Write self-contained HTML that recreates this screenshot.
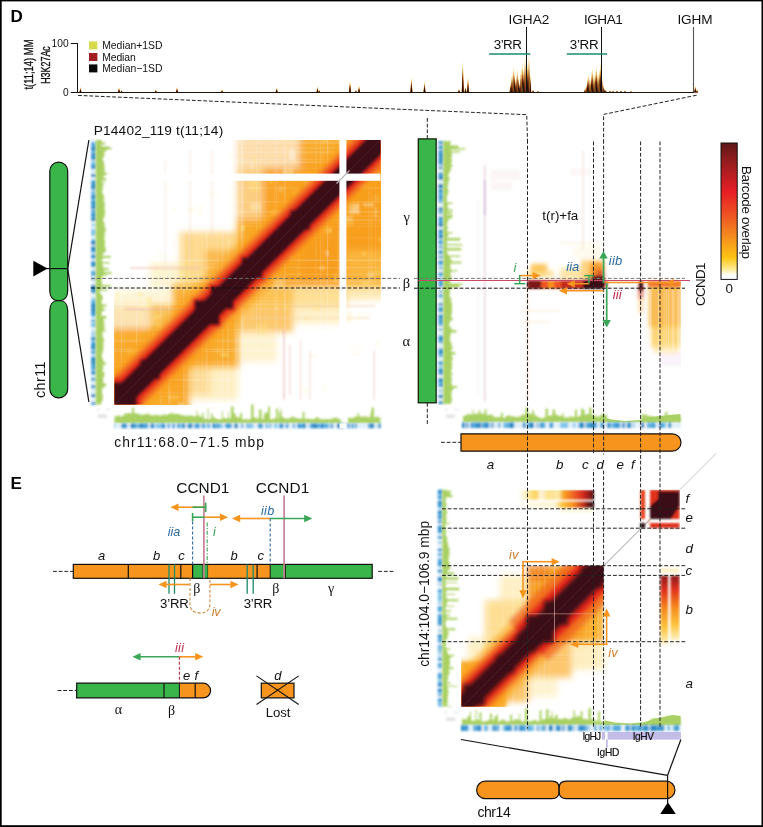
<!DOCTYPE html>
<html lang="en">
<head>
<meta charset="utf-8">
<title>Figure D-E: t(11;14) barcode overlap</title>
<style>
html,body{margin:0;padding:0;background:#fff;}
body{width:763px;height:827px;overflow:hidden;font-family:"Liberation Sans",Arial,sans-serif;}
svg{display:block;}
</style>
</head>
<body>
<svg width="763" height="827" viewBox="0 0 763 827" font-family='"Liberation Sans", Arial, sans-serif' fill="#111">
<defs>
<filter id="b05" x="-60%" y="-60%" width="220%" height="220%"><feGaussianBlur stdDeviation="0.8"/></filter>
<filter id="b1" x="-10%" y="-10%" width="120%" height="120%"><feGaussianBlur stdDeviation="1"/></filter>
<filter id="b15" x="-10%" y="-10%" width="120%" height="120%"><feGaussianBlur stdDeviation="1.5"/></filter>
<filter id="b2" x="-10%" y="-10%" width="120%" height="120%"><feGaussianBlur stdDeviation="2"/></filter>
<filter id="b3" x="-10%" y="-10%" width="120%" height="120%"><feGaussianBlur stdDeviation="3"/></filter>
<filter id="b5" x="-20%" y="-20%" width="140%" height="140%"><feGaussianBlur stdDeviation="5"/></filter>
<clipPath id="c1"><rect x="114.5" y="140" width="266" height="264.6"/></clipPath>
<clipPath id="c2"><rect x="462" y="141" width="219" height="263"/></clipPath>
<clipPath id="c3"><rect x="461.5" y="489.7" width="218.5" height="216.7"/></clipPath>
<linearGradient id="cbar" x1="0" y1="0" x2="0" y2="1"><stop offset="0" stop-color="#5e1718"/><stop offset="0.12" stop-color="#8f1c1f"/><stop offset="0.36" stop-color="#e81e25"/><stop offset="0.5" stop-color="#ee4a23"/><stop offset="0.68" stop-color="#f58a1f"/><stop offset="0.84" stop-color="#fdc413"/><stop offset="0.92" stop-color="#fde98a"/><stop offset="0.97" stop-color="#ffffff"/><stop offset="1" stop-color="#ffffff"/></linearGradient>
<linearGradient id="tb" x1="0" y1="0" x2="1" y2="0"><stop offset="0" stop-color="#fff" stop-opacity="0"/><stop offset="0.14" stop-color="#fdeeb8"/><stop offset="0.26" stop-color="#fcd25a"/><stop offset="0.33" stop-color="#fff6dc"/><stop offset="0.42" stop-color="#fde08a"/><stop offset="0.55" stop-color="#fde9a8"/><stop offset="0.62" stop-color="#f9a11f"/><stop offset="0.76" stop-color="#ee5a22"/><stop offset="0.86" stop-color="#d42a1c"/><stop offset="0.95" stop-color="#8d1a19"/><stop offset="1" stop-color="#4a1214"/></linearGradient>
<linearGradient id="tb2" x1="0" y1="0" x2="1" y2="0"><stop offset="0" stop-color="#fff" stop-opacity="0"/><stop offset="0.2" stop-color="#fef4d0" stop-opacity="0.6"/><stop offset="0.5" stop-color="#fef0c0" stop-opacity="0.7"/><stop offset="0.6" stop-color="#fcc23c"/><stop offset="0.74" stop-color="#f58a1f"/><stop offset="0.86" stop-color="#c7341c"/><stop offset="0.94" stop-color="#5a1416"/><stop offset="1" stop-color="#3a1115"/></linearGradient>
<linearGradient id="rs" x1="0" y1="0" x2="0" y2="1"><stop offset="0" stop-color="#8d1a19"/><stop offset="0.2" stop-color="#e1301d"/><stop offset="0.45" stop-color="#f58a1f"/><stop offset="0.7" stop-color="#fcc23c"/><stop offset="0.88" stop-color="#fde9a8"/><stop offset="1" stop-color="#fff" stop-opacity="0"/></linearGradient>
</defs>
<rect x="0" y="0" width="763" height="827" fill="#fff" />
<text x="10.6" y="22" font-size="17" fill="#000" font-weight="bold">D</text>
<text x="33" y="89.5" font-size="13.4" textLength="50" lengthAdjust="spacingAndGlyphs" transform="rotate(-90 33 89.5)" stroke="#111" stroke-width="0.35">t(11;14) MM</text>
<text x="49.6" y="83.8" font-size="13.4" textLength="37.6" lengthAdjust="spacingAndGlyphs" transform="rotate(-90 49.6 83.8)" stroke="#111" stroke-width="0.35">H3K27Ac</text>
<text x="68.6" y="47.2" font-size="10.2" text-anchor="end">100</text>
<text x="68.6" y="95.6" font-size="10.2" text-anchor="end">0</text>
<line x1="77.5" y1="43" x2="77.5" y2="93" stroke="#111" stroke-width="1" />
<line x1="70.8" y1="43.5" x2="77.6" y2="43.5" stroke="#111" stroke-width="1" />
<line x1="70.8" y1="92.5" x2="77.6" y2="92.5" stroke="#111" stroke-width="1" />
<rect x="89" y="41.4" width="8.4" height="8" fill="#d8d94c" />
<rect x="89" y="53" width="8.4" height="8" fill="#a11d21" />
<rect x="89" y="64.4" width="8.4" height="8" fill="#0a0a0a" />
<text x="102.2" y="49.3" font-size="10.4" textLength="60.3" lengthAdjust="spacing">Median+1SD</text>
<text x="102.2" y="60.8" font-size="10.4" textLength="33.5" lengthAdjust="spacing">Median</text>
<text x="102.2" y="72.3" font-size="10.4" textLength="60.3" lengthAdjust="spacing">Median−1SD</text>
<polygon points="79.25,92.6 80.5,87.1 81.75,92.6" fill="#e8c436"/>
<polygon points="79.44,92.6 80.5,88.2 81.56,92.6" fill="#b0321c"/>
<polygon points="79.62,92.6 80.5,89.3 81.38,92.6" fill="#1a0a06"/>
<polygon points="117.75,92.6 119,87.6 120.25,92.6" fill="#e8c436"/>
<polygon points="117.94,92.6 119,88.6 120.06,92.6" fill="#b0321c"/>
<polygon points="118.12,92.6 119,89.6 119.88,92.6" fill="#1a0a06"/>
<polygon points="120.25,92.6 121.5,90.1 122.75,92.6" fill="#e8c436"/>
<polygon points="120.44,92.6 121.5,90.6 122.56,92.6" fill="#b0321c"/>
<polygon points="120.62,92.6 121.5,91.1 122.38,92.6" fill="#1a0a06"/>
<polygon points="154.55,92.6 155.8,89.4 157.05,92.6" fill="#e8c436"/>
<polygon points="154.74,92.6 155.8,90.04 156.86,92.6" fill="#b0321c"/>
<polygon points="154.93,92.6 155.8,90.68 156.68,92.6" fill="#1a0a06"/>
<polygon points="175.75,92.6 177,87.1 178.25,92.6" fill="#e8c436"/>
<polygon points="175.94,92.6 177,88.2 178.06,92.6" fill="#b0321c"/>
<polygon points="176.12,92.6 177,89.3 177.88,92.6" fill="#1a0a06"/>
<polygon points="220.75,92.6 222,89.4 223.25,92.6" fill="#e8c436"/>
<polygon points="220.94,92.6 222,90.04 223.06,92.6" fill="#b0321c"/>
<polygon points="221.12,92.6 222,90.68 222.88,92.6" fill="#1a0a06"/>
<polygon points="275.45,92.6 276.7,87.4 277.95,92.6" fill="#e8c436"/>
<polygon points="275.64,92.6 276.7,88.44 277.76,92.6" fill="#b0321c"/>
<polygon points="275.82,92.6 276.7,89.48 277.57,92.6" fill="#1a0a06"/>
<polygon points="316.25,92.6 317.5,86.6 318.75,92.6" fill="#e8c436"/>
<polygon points="316.44,92.6 317.5,87.8 318.56,92.6" fill="#b0321c"/>
<polygon points="316.62,92.6 317.5,89 318.38,92.6" fill="#1a0a06"/>
<polygon points="318.05,92.6 319.3,90.1 320.55,92.6" fill="#e8c436"/>
<polygon points="318.24,92.6 319.3,90.6 320.36,92.6" fill="#b0321c"/>
<polygon points="318.43,92.6 319.3,91.1 320.18,92.6" fill="#1a0a06"/>
<polygon points="348.75,92.6 350,80.8 351.25,92.6" fill="#e8c436"/>
<polygon points="348.94,92.6 350,83.16 351.06,92.6" fill="#b0321c"/>
<polygon points="349.12,92.6 350,85.52 350.88,92.6" fill="#1a0a06"/>
<polygon points="357.75,92.6 359,85.6 360.25,92.6" fill="#e8c436"/>
<polygon points="357.94,92.6 359,87 360.06,92.6" fill="#b0321c"/>
<polygon points="358.12,92.6 359,88.4 359.88,92.6" fill="#1a0a06"/>
<polygon points="354.75,92.6 356,90.1 357.25,92.6" fill="#e8c436"/>
<polygon points="354.94,92.6 356,90.6 357.06,92.6" fill="#b0321c"/>
<polygon points="355.12,92.6 356,91.1 356.88,92.6" fill="#1a0a06"/>
<polygon points="410.15,92.6 411.4,77.6 412.65,92.6" fill="#e8c436"/>
<polygon points="410.34,92.6 411.4,80.6 412.46,92.6" fill="#b0321c"/>
<polygon points="410.52,92.6 411.4,83.6 412.27,92.6" fill="#1a0a06"/>
<polygon points="423.25,92.6 424.5,81.6 425.75,92.6" fill="#e8c436"/>
<polygon points="423.44,92.6 424.5,83.8 425.56,92.6" fill="#b0321c"/>
<polygon points="423.62,92.6 424.5,86 425.38,92.6" fill="#1a0a06"/>
<polygon points="457.75,92.6 459,89.1 460.25,92.6" fill="#e8c436"/>
<polygon points="457.94,92.6 459,89.8 460.06,92.6" fill="#b0321c"/>
<polygon points="458.12,92.6 459,90.5 459.88,92.6" fill="#1a0a06"/>
<polygon points="461.55,92.6 462.8,61.6 464.05,92.6" fill="#e8c436"/>
<polygon points="461.74,92.6 462.8,67.8 463.86,92.6" fill="#b0321c"/>
<polygon points="461.93,92.6 462.8,74 463.68,92.6" fill="#1a0a06"/>
<polygon points="466.75,92.6 468,77.6 469.25,92.6" fill="#e8c436"/>
<polygon points="466.94,92.6 468,80.6 469.06,92.6" fill="#b0321c"/>
<polygon points="467.12,92.6 468,83.6 468.88,92.6" fill="#1a0a06"/>
<polygon points="464.25,92.6 465.5,86.6 466.75,92.6" fill="#e8c436"/>
<polygon points="464.44,92.6 465.5,87.8 466.56,92.6" fill="#b0321c"/>
<polygon points="464.62,92.6 465.5,89 466.38,92.6" fill="#1a0a06"/>
<polygon points="531.75,92.6 533,89.6 534.25,92.6" fill="#e8c436"/>
<polygon points="531.94,92.6 533,90.2 534.06,92.6" fill="#b0321c"/>
<polygon points="532.12,92.6 533,90.8 533.88,92.6" fill="#1a0a06"/>
<polygon points="536.75,92.6 538,90.6 539.25,92.6" fill="#e8c436"/>
<polygon points="536.94,92.6 538,91 539.06,92.6" fill="#b0321c"/>
<polygon points="537.12,92.6 538,91.4 538.88,92.6" fill="#1a0a06"/>
<polygon points="623.75,92.6 625,90.4 626.25,92.6" fill="#e8c436"/>
<polygon points="623.94,92.6 625,90.84 626.06,92.6" fill="#b0321c"/>
<polygon points="624.12,92.6 625,91.28 625.88,92.6" fill="#1a0a06"/>
<polygon points="629.75,92.6 631,90.8 632.25,92.6" fill="#e8c436"/>
<polygon points="629.94,92.6 631,91.16 632.06,92.6" fill="#b0321c"/>
<polygon points="630.12,92.6 631,91.52 631.88,92.6" fill="#1a0a06"/>
<polygon points="509.4,92.6 510.5,83.6 511.6,92.6" fill="#e8c436"/>
<polygon points="509.56,92.6 510.5,85.4 511.44,92.6" fill="#b0321c"/>
<polygon points="509.73,92.6 510.5,87.2 511.27,92.6" fill="#1a0a06"/>
<polygon points="510.72,92.6 511.82,75.6 512.92,92.6" fill="#e8c436"/>
<polygon points="510.88,92.6 511.82,79 512.75,92.6" fill="#b0321c"/>
<polygon points="511.05,92.6 511.82,82.4 512.59,92.6" fill="#1a0a06"/>
<polygon points="512.04,92.6 513.14,66.6 514.24,92.6" fill="#e8c436"/>
<polygon points="512.21,92.6 513.14,71.8 514.07,92.6" fill="#b0321c"/>
<polygon points="512.37,92.6 513.14,77 513.91,92.6" fill="#1a0a06"/>
<polygon points="513.36,92.6 514.46,70.6 515.56,92.6" fill="#e8c436"/>
<polygon points="513.53,92.6 514.46,75 515.39,92.6" fill="#b0321c"/>
<polygon points="513.69,92.6 514.46,79.4 515.23,92.6" fill="#1a0a06"/>
<polygon points="514.68,92.6 515.78,78.6 516.88,92.6" fill="#e8c436"/>
<polygon points="514.85,92.6 515.78,81.4 516.71,92.6" fill="#b0321c"/>
<polygon points="515.01,92.6 515.78,84.2 516.55,92.6" fill="#1a0a06"/>
<polygon points="516,92.6 517.1,68.6 518.2,92.6" fill="#e8c436"/>
<polygon points="516.17,92.6 517.1,73.4 518.03,92.6" fill="#b0321c"/>
<polygon points="516.33,92.6 517.1,78.2 517.87,92.6" fill="#1a0a06"/>
<polygon points="517.32,92.6 518.42,75.6 519.52,92.6" fill="#e8c436"/>
<polygon points="517.49,92.6 518.42,79 519.35,92.6" fill="#b0321c"/>
<polygon points="517.65,92.6 518.42,82.4 519.19,92.6" fill="#1a0a06"/>
<polygon points="518.64,92.6 519.74,82.6 520.84,92.6" fill="#e8c436"/>
<polygon points="518.81,92.6 519.74,84.6 520.67,92.6" fill="#b0321c"/>
<polygon points="518.97,92.6 519.74,86.6 520.51,92.6" fill="#1a0a06"/>
<polygon points="519.96,92.6 521.06,67.6 522.16,92.6" fill="#e8c436"/>
<polygon points="520.12,92.6 521.06,72.6 521.99,92.6" fill="#b0321c"/>
<polygon points="520.29,92.6 521.06,77.6 521.83,92.6" fill="#1a0a06"/>
<polygon points="521.28,92.6 522.38,62.6 523.48,92.6" fill="#e8c436"/>
<polygon points="521.45,92.6 522.38,68.6 523.31,92.6" fill="#b0321c"/>
<polygon points="521.61,92.6 522.38,74.6 523.15,92.6" fill="#1a0a06"/>
<polygon points="522.6,92.6 523.7,68.6 524.8,92.6" fill="#e8c436"/>
<polygon points="522.77,92.6 523.7,73.4 524.63,92.6" fill="#b0321c"/>
<polygon points="522.93,92.6 523.7,78.2 524.47,92.6" fill="#1a0a06"/>
<polygon points="523.92,92.6 525.02,56.6 526.12,92.6" fill="#e8c436"/>
<polygon points="524.09,92.6 525.02,63.8 525.95,92.6" fill="#b0321c"/>
<polygon points="524.25,92.6 525.02,71 525.79,92.6" fill="#1a0a06"/>
<polygon points="525.24,92.6 526.34,52.6 527.44,92.6" fill="#e8c436"/>
<polygon points="525.41,92.6 526.34,60.6 527.27,92.6" fill="#b0321c"/>
<polygon points="525.57,92.6 526.34,68.6 527.11,92.6" fill="#1a0a06"/>
<polygon points="526.56,92.6 527.66,62.6 528.76,92.6" fill="#e8c436"/>
<polygon points="526.73,92.6 527.66,68.6 528.59,92.6" fill="#b0321c"/>
<polygon points="526.89,92.6 527.66,74.6 528.43,92.6" fill="#1a0a06"/>
<polygon points="527.88,92.6 528.98,54.6 530.08,92.6" fill="#e8c436"/>
<polygon points="528.05,92.6 528.98,62.2 529.91,92.6" fill="#b0321c"/>
<polygon points="528.21,92.6 528.98,69.8 529.75,92.6" fill="#1a0a06"/>
<polygon points="529.2,92.6 530.3,74.6 531.4,92.6" fill="#e8c436"/>
<polygon points="529.37,92.6 530.3,78.2 531.23,92.6" fill="#b0321c"/>
<polygon points="529.53,92.6 530.3,81.8 531.07,92.6" fill="#1a0a06"/>
<polygon points="583.9,92.6 585,88.6 586.1,92.6" fill="#e8c436"/>
<polygon points="584.07,92.6 585,89.4 585.93,92.6" fill="#b0321c"/>
<polygon points="584.23,92.6 585,90.2 585.77,92.6" fill="#1a0a06"/>
<polygon points="585.2,92.6 586.3,84.6 587.4,92.6" fill="#e8c436"/>
<polygon points="585.37,92.6 586.3,86.2 587.23,92.6" fill="#b0321c"/>
<polygon points="585.53,92.6 586.3,87.8 587.07,92.6" fill="#1a0a06"/>
<polygon points="586.5,92.6 587.6,77.6 588.7,92.6" fill="#e8c436"/>
<polygon points="586.67,92.6 587.6,80.6 588.53,92.6" fill="#b0321c"/>
<polygon points="586.83,92.6 587.6,83.6 588.37,92.6" fill="#1a0a06"/>
<polygon points="587.8,92.6 588.9,73.6 590,92.6" fill="#e8c436"/>
<polygon points="587.97,92.6 588.9,77.4 589.83,92.6" fill="#b0321c"/>
<polygon points="588.13,92.6 588.9,81.2 589.67,92.6" fill="#1a0a06"/>
<polygon points="589.1,92.6 590.2,79.6 591.3,92.6" fill="#e8c436"/>
<polygon points="589.27,92.6 590.2,82.2 591.13,92.6" fill="#b0321c"/>
<polygon points="589.43,92.6 590.2,84.8 590.97,92.6" fill="#1a0a06"/>
<polygon points="590.4,92.6 591.5,71.6 592.6,92.6" fill="#e8c436"/>
<polygon points="590.57,92.6 591.5,75.8 592.43,92.6" fill="#b0321c"/>
<polygon points="590.73,92.6 591.5,80 592.27,92.6" fill="#1a0a06"/>
<polygon points="591.7,92.6 592.8,67.6 593.9,92.6" fill="#e8c436"/>
<polygon points="591.87,92.6 592.8,72.6 593.73,92.6" fill="#b0321c"/>
<polygon points="592.03,92.6 592.8,77.6 593.57,92.6" fill="#1a0a06"/>
<polygon points="593,92.6 594.1,74.6 595.2,92.6" fill="#e8c436"/>
<polygon points="593.17,92.6 594.1,78.2 595.03,92.6" fill="#b0321c"/>
<polygon points="593.33,92.6 594.1,81.8 594.87,92.6" fill="#1a0a06"/>
<polygon points="594.3,92.6 595.4,70.6 596.5,92.6" fill="#e8c436"/>
<polygon points="594.47,92.6 595.4,75 596.33,92.6" fill="#b0321c"/>
<polygon points="594.63,92.6 595.4,79.4 596.17,92.6" fill="#1a0a06"/>
<polygon points="595.6,92.6 596.7,65.6 597.8,92.6" fill="#e8c436"/>
<polygon points="595.77,92.6 596.7,71 597.63,92.6" fill="#b0321c"/>
<polygon points="595.93,92.6 596.7,76.4 597.47,92.6" fill="#1a0a06"/>
<polygon points="596.9,92.6 598,72.6 599.1,92.6" fill="#e8c436"/>
<polygon points="597.07,92.6 598,76.6 598.93,92.6" fill="#b0321c"/>
<polygon points="597.23,92.6 598,80.6 598.77,92.6" fill="#1a0a06"/>
<polygon points="598.2,92.6 599.3,68.6 600.4,92.6" fill="#e8c436"/>
<polygon points="598.37,92.6 599.3,73.4 600.23,92.6" fill="#b0321c"/>
<polygon points="598.53,92.6 599.3,78.2 600.07,92.6" fill="#1a0a06"/>
<polygon points="599.5,92.6 600.6,62.6 601.7,92.6" fill="#e8c436"/>
<polygon points="599.67,92.6 600.6,68.6 601.53,92.6" fill="#b0321c"/>
<polygon points="599.83,92.6 600.6,74.6 601.37,92.6" fill="#1a0a06"/>
<polygon points="600.8,92.6 601.9,74.6 603,92.6" fill="#e8c436"/>
<polygon points="600.97,92.6 601.9,78.2 602.83,92.6" fill="#b0321c"/>
<polygon points="601.13,92.6 601.9,81.8 602.67,92.6" fill="#1a0a06"/>
<polygon points="602.1,92.6 603.2,84.6 604.3,92.6" fill="#e8c436"/>
<polygon points="602.27,92.6 603.2,86.2 604.13,92.6" fill="#b0321c"/>
<polygon points="602.43,92.6 603.2,87.8 603.97,92.6" fill="#1a0a06"/>
<polygon points="603.4,92.6 604.5,88.6 605.6,92.6" fill="#e8c436"/>
<polygon points="603.57,92.6 604.5,89.4 605.43,92.6" fill="#b0321c"/>
<polygon points="603.73,92.6 604.5,90.2 605.27,92.6" fill="#1a0a06"/>
<polygon points="604.7,92.6 605.8,89.6 606.9,92.6" fill="#e8c436"/>
<polygon points="604.87,92.6 605.8,90.2 606.73,92.6" fill="#b0321c"/>
<polygon points="605.03,92.6 605.8,90.8 606.57,92.6" fill="#1a0a06"/>
<polygon points="608.8,92.6 610,90.4 611.2,92.6" fill="#e8c436"/>
<polygon points="608.98,92.6 610,90.84 611.02,92.6" fill="#b0321c"/>
<polygon points="609.16,92.6 610,91.28 610.84,92.6" fill="#1a0a06"/>
<polygon points="611.8,92.6 613,90.4 614.2,92.6" fill="#e8c436"/>
<polygon points="611.98,92.6 613,90.84 614.02,92.6" fill="#b0321c"/>
<polygon points="612.16,92.6 613,91.28 613.84,92.6" fill="#1a0a06"/>
<polygon points="615.8,92.6 617,90.4 618.2,92.6" fill="#e8c436"/>
<polygon points="615.98,92.6 617,90.84 618.02,92.6" fill="#b0321c"/>
<polygon points="616.16,92.6 617,91.28 617.84,92.6" fill="#1a0a06"/>
<polygon points="619.8,92.6 621,90.4 622.2,92.6" fill="#e8c436"/>
<polygon points="619.98,92.6 621,90.84 622.02,92.6" fill="#b0321c"/>
<polygon points="620.16,92.6 621,91.28 621.84,92.6" fill="#1a0a06"/>
<polygon points="693.8,92.6 695.3,86.1 696.8,92.6" fill="#e8c436"/>
<polygon points="694.02,92.6 695.3,87.4 696.57,92.6" fill="#b0321c"/>
<polygon points="694.25,92.6 695.3,88.7 696.35,92.6" fill="#1a0a06"/>
<polygon points="695.8,92.6 697,89.6 698.2,92.6" fill="#e8c436"/>
<polygon points="695.98,92.6 697,90.2 698.02,92.6" fill="#b0321c"/>
<polygon points="696.16,92.6 697,90.8 697.84,92.6" fill="#1a0a06"/>
<line x1="77" y1="92.5" x2="694" y2="92.5" stroke="#1a1208" stroke-width="1" />
<text x="508.4" y="24.2" font-size="13.6" textLength="41" lengthAdjust="spacing">IGHA2</text>
<text x="584" y="24.2" font-size="13.6" textLength="38.8" lengthAdjust="spacing">IGHA1</text>
<text x="677.4" y="24.2" font-size="13.6" textLength="35.3" lengthAdjust="spacing">IGHM</text>
<line x1="526.5" y1="27" x2="526.5" y2="92" stroke="#111" stroke-width="1" />
<line x1="601.5" y1="27" x2="601.5" y2="92" stroke="#111" stroke-width="1" />
<line x1="693.5" y1="27" x2="693.5" y2="92" stroke="#555" stroke-width="1.1" />
<text x="493.8" y="49" font-size="13.4" textLength="28" lengthAdjust="spacing">3’RR</text>
<text x="569.8" y="49" font-size="13.4" textLength="28.8" lengthAdjust="spacing">3’RR</text>
<line x1="489.2" y1="54" x2="530.3" y2="54" stroke="#1b8a6b" stroke-width="1.6" />
<line x1="566.8" y1="54" x2="607" y2="54" stroke="#1b8a6b" stroke-width="1.6" />
<polyline points="78,95.4 526.7,114.7 527.5,140" fill="none" stroke="#222" stroke-width="1" stroke-dasharray="3.8 1.9"/>
<polyline points="696.6,95.2 603.6,114.4 603.6,140" fill="none" stroke="#222" stroke-width="1" stroke-dasharray="3.8 1.9"/>
<text x="93.8" y="135.3" font-size="13.7" textLength="129.4" lengthAdjust="spacing">P14402_119 t(11;14)</text>
<path d="M49.8,171 a8.95,8.95 0 0 1 17.9,0 V290.6 c0,6.4 -3.2,9.9 -7.4,9.9 h-3.1 c-4.2,0 -7.4,-3.5 -7.4,-9.9 Z" fill="#3ab54a" stroke="#111" stroke-width="1.2"/>
<path d="M49.8,310.6 c0,-6.4 3.2,-9.9 7.4,-9.9 h3.1 c4.2,0 7.4,3.5 7.4,9.9 V389 a8.95,8.95 0 0 1 -17.9,0 Z" fill="#3ab54a" stroke="#111" stroke-width="1.2"/>
<line x1="46.5" y1="268.6" x2="67.7" y2="268.6" stroke="#111" stroke-width="1.2" />
<polygon points="33.3,260.8 33.3,276.4 47.6,268.6" fill="#000"/>
<line x1="67.7" y1="268.6" x2="88.9" y2="140" stroke="#111" stroke-width="1.2" />
<line x1="67.7" y1="268.6" x2="88.9" y2="402" stroke="#111" stroke-width="1.2" />
<text x="44.8" y="398" font-size="14.2" textLength="36.5" lengthAdjust="spacing" transform="rotate(-90 44.8 398)">chr11</text>
<g filter="url(#b05)">
<rect x="91.2" y="140" width="4.6" height="264.6" fill="#bfe0f4" />
<rect x="91.2" y="140" width="4.6" height="2.2" fill="#e4f2fb" />
<rect x="91.2" y="142.2" width="4.6" height="2.2" fill="#4aa4da" />
<rect x="91.2" y="144.4" width="4.6" height="3" fill="#4aa4da" />
<rect x="91.2" y="147.4" width="4.6" height="3" fill="#1f7cb8" />
<rect x="91.2" y="150.4" width="4.6" height="1.2" fill="#5aaee0" />
<rect x="91.2" y="151.6" width="4.6" height="1.2" fill="#4aa4da" />
<rect x="91.2" y="152.8" width="4.6" height="0.8" fill="#7fc3ea" />
<rect x="91.2" y="153.6" width="4.6" height="2.2" fill="#1f7cb8" />
<rect x="91.2" y="155.8" width="4.6" height="1.2" fill="#4aa4da" />
<rect x="91.2" y="157" width="4.6" height="3" fill="#2a8ac6" />
<rect x="91.2" y="160" width="4.6" height="1.2" fill="#e4f2fb" />
<rect x="91.2" y="161.2" width="4.6" height="3" fill="#7fc3ea" />
<rect x="91.2" y="164.2" width="4.6" height="1.6" fill="#4aa4da" />
<rect x="91.2" y="165.8" width="4.6" height="1.2" fill="#2a8ac6" />
<rect x="91.2" y="167" width="4.6" height="1.6" fill="#2a8ac6" />
<rect x="91.2" y="168.6" width="4.6" height="0.8" fill="#5aaee0" />
<rect x="91.2" y="169.4" width="4.6" height="2.2" fill="#e4f2fb" />
<rect x="91.2" y="171.6" width="4.6" height="0.8" fill="#e4f2fb" />
<rect x="91.2" y="172.4" width="4.6" height="1.6" fill="#e4f2fb" />
<rect x="91.2" y="174" width="4.6" height="3" fill="#2a8ac6" />
<rect x="91.2" y="177" width="4.6" height="3" fill="#e4f2fb" />
<rect x="91.2" y="180" width="4.6" height="2.2" fill="#5aaee0" />
<rect x="91.2" y="182.2" width="4.6" height="2.2" fill="#2a8ac6" />
<rect x="91.2" y="184.4" width="4.6" height="0.8" fill="#2a8ac6" />
<rect x="91.2" y="185.2" width="4.6" height="2.2" fill="#2a8ac6" />
<rect x="91.2" y="187.4" width="4.6" height="2.2" fill="#1f7cb8" />
<rect x="91.2" y="189.6" width="4.6" height="1.2" fill="#e4f2fb" />
<rect x="91.2" y="190.8" width="4.6" height="1.6" fill="#5aaee0" />
<rect x="91.2" y="192.4" width="4.6" height="1.6" fill="#7fc3ea" />
<rect x="91.2" y="194" width="4.6" height="0.8" fill="#2a8ac6" />
<rect x="91.2" y="194.8" width="4.6" height="0.8" fill="#7fc3ea" />
<rect x="91.2" y="195.6" width="4.6" height="2.2" fill="#1f7cb8" />
<rect x="91.2" y="197.8" width="4.6" height="1.2" fill="#3a9ad4" />
<rect x="91.2" y="199" width="4.6" height="1.2" fill="#7fc3ea" />
<rect x="91.2" y="200.2" width="4.6" height="0.8" fill="#3a9ad4" />
<rect x="91.2" y="201" width="4.6" height="0.8" fill="#4aa4da" />
<rect x="91.2" y="201.8" width="4.6" height="3" fill="#2a8ac6" />
<rect x="91.2" y="204.8" width="4.6" height="1.2" fill="#4aa4da" />
<rect x="91.2" y="206" width="4.6" height="3" fill="#2a8ac6" />
<rect x="91.2" y="209" width="4.6" height="0.8" fill="#e4f2fb" />
<rect x="91.2" y="209.8" width="4.6" height="1.2" fill="#2a8ac6" />
<rect x="91.2" y="211" width="4.6" height="3" fill="#5aaee0" />
<rect x="91.2" y="214" width="4.6" height="2.2" fill="#2a8ac6" />
<rect x="91.2" y="216.2" width="4.6" height="1.2" fill="#3a9ad4" />
<rect x="91.2" y="217.4" width="4.6" height="0.8" fill="#5aaee0" />
<rect x="91.2" y="218.2" width="4.6" height="3" fill="#1f7cb8" />
<rect x="91.2" y="221.2" width="4.6" height="2.2" fill="#e4f2fb" />
<rect x="91.2" y="223.4" width="4.6" height="1.2" fill="#e4f2fb" />
<rect x="91.2" y="224.6" width="4.6" height="1.2" fill="#5aaee0" />
<rect x="91.2" y="225.8" width="4.6" height="1.2" fill="#e4f2fb" />
<rect x="91.2" y="227" width="4.6" height="1.2" fill="#e4f2fb" />
<rect x="91.2" y="228.2" width="4.6" height="1.2" fill="#e4f2fb" />
<rect x="91.2" y="229.4" width="4.6" height="3" fill="#7fc3ea" />
<rect x="91.2" y="232.4" width="4.6" height="2.2" fill="#7fc3ea" />
<rect x="91.2" y="234.6" width="4.6" height="0.8" fill="#2a8ac6" />
<rect x="91.2" y="235.4" width="4.6" height="3" fill="#e4f2fb" />
<rect x="91.2" y="238.4" width="4.6" height="1.2" fill="#e4f2fb" />
<rect x="91.2" y="239.6" width="4.6" height="2.2" fill="#4aa4da" />
<rect x="91.2" y="241.8" width="4.6" height="3" fill="#1f7cb8" />
<rect x="91.2" y="244.8" width="4.6" height="1.2" fill="#e4f2fb" />
<rect x="91.2" y="246" width="4.6" height="0.8" fill="#7fc3ea" />
<rect x="91.2" y="246.8" width="4.6" height="3" fill="#1f7cb8" />
<rect x="91.2" y="249.8" width="4.6" height="3" fill="#3a9ad4" />
<rect x="91.2" y="252.8" width="4.6" height="1.2" fill="#e4f2fb" />
<rect x="91.2" y="254" width="4.6" height="0.8" fill="#7fc3ea" />
<rect x="91.2" y="254.8" width="4.6" height="1.2" fill="#3a9ad4" />
<rect x="91.2" y="256" width="4.6" height="1.6" fill="#1f7cb8" />
<rect x="91.2" y="257.6" width="4.6" height="1.2" fill="#3a9ad4" />
<rect x="91.2" y="258.8" width="4.6" height="2.2" fill="#e4f2fb" />
<rect x="91.2" y="261" width="4.6" height="3" fill="#3a9ad4" />
<rect x="91.2" y="264" width="4.6" height="3" fill="#2a8ac6" />
<rect x="91.2" y="267" width="4.6" height="2.2" fill="#e4f2fb" />
<rect x="91.2" y="269.2" width="4.6" height="1.6" fill="#e4f2fb" />
<rect x="91.2" y="270.8" width="4.6" height="0.8" fill="#2a8ac6" />
<rect x="91.2" y="271.6" width="4.6" height="2.2" fill="#5aaee0" />
<rect x="91.2" y="273.8" width="4.6" height="1.6" fill="#2a8ac6" />
<rect x="91.2" y="275.4" width="4.6" height="0.8" fill="#5aaee0" />
<rect x="91.2" y="276.2" width="4.6" height="0.8" fill="#e4f2fb" />
<rect x="91.2" y="277" width="4.6" height="1.2" fill="#e4f2fb" />
<rect x="91.2" y="278.2" width="4.6" height="1.6" fill="#2a8ac6" />
<rect x="91.2" y="279.8" width="4.6" height="2.2" fill="#e4f2fb" />
<rect x="91.2" y="282" width="4.6" height="2.2" fill="#e4f2fb" />
<rect x="91.2" y="284.2" width="4.6" height="0.8" fill="#e4f2fb" />
<rect x="91.2" y="285" width="4.6" height="3" fill="#2a8ac6" />
<rect x="91.2" y="288" width="4.6" height="2.2" fill="#2a8ac6" />
<rect x="91.2" y="290.2" width="4.6" height="3" fill="#2a8ac6" />
<rect x="91.2" y="293.2" width="4.6" height="0.8" fill="#e4f2fb" />
<rect x="91.2" y="294" width="4.6" height="2.2" fill="#e4f2fb" />
<rect x="91.2" y="296.2" width="4.6" height="2.2" fill="#e4f2fb" />
<rect x="91.2" y="298.4" width="4.6" height="3" fill="#7fc3ea" />
<rect x="91.2" y="301.4" width="4.6" height="3" fill="#4aa4da" />
<rect x="91.2" y="304.4" width="4.6" height="3" fill="#1f7cb8" />
<rect x="91.2" y="307.4" width="4.6" height="0.8" fill="#3a9ad4" />
<rect x="91.2" y="308.2" width="4.6" height="0.8" fill="#1f7cb8" />
<rect x="91.2" y="309" width="4.6" height="2.2" fill="#2a8ac6" />
<rect x="91.2" y="311.2" width="4.6" height="1.6" fill="#2a8ac6" />
<rect x="91.2" y="312.8" width="4.6" height="3" fill="#3a9ad4" />
<rect x="91.2" y="315.8" width="4.6" height="1.6" fill="#7fc3ea" />
<rect x="91.2" y="317.4" width="4.6" height="2.2" fill="#e4f2fb" />
<rect x="91.2" y="319.6" width="4.6" height="1.6" fill="#5aaee0" />
<rect x="91.2" y="321.2" width="4.6" height="1.2" fill="#4aa4da" />
<rect x="91.2" y="322.4" width="4.6" height="1.2" fill="#e4f2fb" />
<rect x="91.2" y="323.6" width="4.6" height="2.2" fill="#5aaee0" />
<rect x="91.2" y="325.8" width="4.6" height="1.2" fill="#7fc3ea" />
<rect x="91.2" y="327" width="4.6" height="1.6" fill="#e4f2fb" />
<rect x="91.2" y="328.6" width="4.6" height="0.8" fill="#e4f2fb" />
<rect x="91.2" y="329.4" width="4.6" height="1.6" fill="#e4f2fb" />
<rect x="91.2" y="331" width="4.6" height="0.8" fill="#5aaee0" />
<rect x="91.2" y="331.8" width="4.6" height="1.2" fill="#e4f2fb" />
<rect x="91.2" y="333" width="4.6" height="2.2" fill="#7fc3ea" />
<rect x="91.2" y="335.2" width="4.6" height="1.6" fill="#e4f2fb" />
<rect x="91.2" y="336.8" width="4.6" height="3" fill="#2a8ac6" />
<rect x="91.2" y="339.8" width="4.6" height="0.8" fill="#1f7cb8" />
<rect x="91.2" y="340.6" width="4.6" height="0.8" fill="#e4f2fb" />
<rect x="91.2" y="341.4" width="4.6" height="1.6" fill="#5aaee0" />
<rect x="91.2" y="343" width="4.6" height="3" fill="#3a9ad4" />
<rect x="91.2" y="346" width="4.6" height="2.2" fill="#2a8ac6" />
<rect x="91.2" y="348.2" width="4.6" height="1.6" fill="#3a9ad4" />
<rect x="91.2" y="349.8" width="4.6" height="0.8" fill="#e4f2fb" />
<rect x="91.2" y="350.6" width="4.6" height="0.8" fill="#2a8ac6" />
<rect x="91.2" y="351.4" width="4.6" height="3" fill="#4aa4da" />
<rect x="91.2" y="354.4" width="4.6" height="1.6" fill="#e4f2fb" />
<rect x="91.2" y="356" width="4.6" height="1.2" fill="#7fc3ea" />
<rect x="91.2" y="357.2" width="4.6" height="1.6" fill="#2a8ac6" />
<rect x="91.2" y="358.8" width="4.6" height="2.2" fill="#2a8ac6" />
<rect x="91.2" y="361" width="4.6" height="1.2" fill="#4aa4da" />
<rect x="91.2" y="362.2" width="4.6" height="1.6" fill="#1f7cb8" />
<rect x="91.2" y="363.8" width="4.6" height="3" fill="#4aa4da" />
<rect x="91.2" y="366.8" width="4.6" height="1.2" fill="#4aa4da" />
<rect x="91.2" y="368" width="4.6" height="1.2" fill="#2a8ac6" />
<rect x="91.2" y="369.2" width="4.6" height="2.2" fill="#7fc3ea" />
<rect x="91.2" y="371.4" width="4.6" height="1.2" fill="#2a8ac6" />
<rect x="91.2" y="372.6" width="4.6" height="2.2" fill="#2a8ac6" />
<rect x="91.2" y="374.8" width="4.6" height="3" fill="#e4f2fb" />
<rect x="91.2" y="377.8" width="4.6" height="1.6" fill="#2a8ac6" />
<rect x="91.2" y="379.4" width="4.6" height="1.2" fill="#4aa4da" />
<rect x="91.2" y="380.6" width="4.6" height="0.8" fill="#7fc3ea" />
<rect x="91.2" y="381.4" width="4.6" height="0.8" fill="#e4f2fb" />
<rect x="91.2" y="382.2" width="4.6" height="3" fill="#e4f2fb" />
<rect x="91.2" y="385.2" width="4.6" height="1.6" fill="#2a8ac6" />
<rect x="91.2" y="386.8" width="4.6" height="0.8" fill="#2a8ac6" />
<rect x="91.2" y="387.6" width="4.6" height="0.8" fill="#1f7cb8" />
<rect x="91.2" y="388.4" width="4.6" height="2.2" fill="#e4f2fb" />
<rect x="91.2" y="390.6" width="4.6" height="2.2" fill="#e4f2fb" />
<rect x="91.2" y="392.8" width="4.6" height="1.2" fill="#e4f2fb" />
<rect x="91.2" y="394" width="4.6" height="0.8" fill="#2a8ac6" />
<rect x="91.2" y="394.8" width="4.6" height="1.2" fill="#2a8ac6" />
<rect x="91.2" y="396" width="4.6" height="1.2" fill="#1f7cb8" />
<rect x="91.2" y="397.2" width="4.6" height="3" fill="#e4f2fb" />
<rect x="91.2" y="400.2" width="4.6" height="2.2" fill="#e4f2fb" />
<rect x="91.2" y="402.4" width="4.6" height="2.2" fill="#2a8ac6" />
<rect x="91.2" y="404.6" width="4.6" height="0" fill="#e4f2fb" />
</g>
<polygon points="95.8,140 101.85,140 101.85,142.5 105.29,142.5 105.29,144.5 101.33,144.5 101.33,146.5 109.8,146.5 109.8,148 111.8,148 111.8,149.5 106.36,149.5 106.36,151.5 103.63,151.5 103.63,152.5 104.34,152.5 104.34,155 104.71,155 104.71,156 103.73,156 103.73,157.5 102.8,157.5 102.8,160 102.89,160 102.89,161.5 104.04,161.5 104.04,163 104.05,163 104.05,164.5 104.46,164.5 104.46,167 104.56,167 104.56,169.5 104.71,169.5 104.71,170.5 104.37,170.5 104.37,172.5 106.8,172.5 106.8,175 104.31,175 104.31,176.5 103.18,176.5 103.18,178 106.02,178 106.02,180.5 101.79,180.5 101.79,181.5 102.4,181.5 102.4,182.5 105.05,182.5 105.05,183.5 103.12,183.5 103.12,185.5 102.8,185.5 102.8,188 102.74,188 102.74,190.5 102.12,190.5 102.12,193 103.14,193 103.14,195.5 103.78,195.5 103.78,197 104.71,197 104.71,198 103.94,198 103.94,200 103.34,200 103.34,201 104.53,201 104.53,203 104.71,203 104.71,204 104.71,204 104.71,206 104.69,206 104.69,208.5 104.71,208.5 104.71,211 105.18,211 105.18,213 104.71,213 104.71,215.5 104.39,215.5 104.39,217.5 103.83,217.5 103.83,218.5 102.96,218.5 102.96,221 104.11,221 104.11,223.5 104.71,223.5 104.71,225.5 104.71,225.5 104.71,226.5 104.71,226.5 104.71,228.5 106.1,228.5 106.1,231 104.71,231 104.71,232 104.71,232 104.71,234.5 104.71,234.5 104.71,237 104.26,237 104.26,238.5 104.55,238.5 104.55,241 105.24,241 105.24,243.5 104.71,243.5 104.71,244.5 104.71,244.5 104.71,245.5 104.71,245.5 104.71,247 105.56,247 105.56,249.5 105.82,249.5 105.82,252 103.72,252 103.72,254.5 102.54,254.5 102.54,256 110.8,256 110.8,258 102.71,258 102.71,260 101.9,260 101.9,262 109.8,262 109.8,263.5 102.6,263.5 102.6,264.5 102.65,264.5 102.65,267 103.78,267 103.78,268 108.8,268 108.8,270 104.08,270 104.08,272 111.8,272 111.8,274 106.32,274 106.32,275.5 102.48,275.5 102.48,277.5 102.21,277.5 102.21,279.5 101.37,279.5 101.37,281.5 102.19,281.5 102.19,282.5 101.98,282.5 101.98,285 110.8,285 110.8,287 101.32,287 101.32,289.5 107.8,289.5 107.8,291 99.59,291 99.59,293 100.47,293 100.47,294 101.63,294 101.63,296 102.49,296 102.49,297.5 103.09,297.5 103.09,299 101.99,299 101.99,301 101.18,301 101.18,302.5 102.2,302.5 102.2,304.5 106.58,304.5 106.58,306.5 102.76,306.5 102.76,308.5 104.69,308.5 104.69,311 101.81,311 101.81,313.5 101.46,313.5 101.46,316 106.42,316 106.42,318.5 103.42,318.5 103.42,319.5 103.88,319.5 103.88,321.5 104,321.5 104,324 104.61,324 104.61,326 104.24,326 104.24,327.5 104.4,327.5 104.4,330 105.8,330 105.8,331.5 102.34,331.5 102.34,332.5 102.65,332.5 102.65,335 102.47,335 102.47,337 103.19,337 103.19,339 104.28,339 104.28,341 103.42,341 103.42,343 103.66,343 103.66,345.5 102.93,345.5 102.93,346.5 103.49,346.5 103.49,349 103.1,349 103.1,351 102.72,351 102.72,353.5 101.68,353.5 101.68,355.5 101.95,355.5 101.95,357.5 102.54,357.5 102.54,360 103.71,360 103.71,362.5 105.8,362.5 105.8,365 102.64,365 102.64,367 103.61,367 103.61,369 102.58,369 102.58,371.5 103.64,371.5 103.64,373 104.5,373 104.5,375 104.1,375 104.1,377 103,377 103,379.5 103.81,379.5 103.81,380.5 103,380.5 103,382.5 103.42,382.5 103.42,383.5 106.04,383.5 106.04,386 104.8,386 104.8,387.5 102.25,387.5 102.25,389 102.15,389 102.15,391 102.01,391 102.01,393.5 102.53,393.5 102.53,395.5 102.74,395.5 102.74,397 102.75,397 102.75,399.5 102.4,399.5 102.4,401.5 101.38,401.5 101.38,402.5 101.11,402.5 101.11,404.5 100.28,404.5 100.28,404.6 95.8,404.6" fill="#a9d062" filter="url(#b05)"/>
<polygon points="114.5,423.4 114.5,416.34 116.5,416.34 116.5,415.95 118,415.95 118,415.58 119.5,415.58 119.5,415.5 120.5,415.5 120.5,416.72 122.5,416.72 122.5,415.44 123.5,415.44 123.5,414.48 124.5,414.48 124.5,413.63 126.5,413.63 126.5,413.14 128,413.14 128,413.17 129.5,413.17 129.5,413.14 132,413.14 132,407.4 134,407.4 134,413.14 136,413.14 136,413.3 137.5,413.3 137.5,413.83 139,413.83 139,414.47 141,414.47 141,414.74 143,414.74 143,414.61 145.5,414.61 145.5,414.09 147,414.09 147,413.7 149.5,413.7 149.5,414.99 152,414.99 152,415.71 153,415.71 153,415.35 155.5,415.35 155.5,414.73 158,414.73 158,415.5 160,415.5 160,415.45 162,415.45 162,414.87 163.5,414.87 163.5,414.66 164.5,414.66 164.5,414.45 166.5,414.45 166.5,414.98 168,414.98 168,413.94 169,413.94 169,413.56 171.5,413.56 171.5,413.14 172.5,413.14 172.5,413.14 173.5,413.14 173.5,414.12 175.5,414.12 175.5,413.95 177.5,413.95 177.5,413.9 180,413.9 180,415.18 181,415.18 181,415.03 183.5,415.03 183.5,415.75 186,415.75 186,416.07 187,416.07 187,415.45 188.5,415.45 188.5,416.08 190,416.08 190,415.37 192,415.37 192,416.14 194.5,416.14 194.5,416.61 195.5,416.61 195.5,415.94 196.5,415.94 196.5,410.4 197.5,410.4 197.5,415.59 200,415.59 200,416.73 202,416.73 202,412.74 203.5,412.74 203.5,418.38 205,418.38 205,418.93 207.5,418.93 207.5,408.4 208.5,408.4 208.5,419.22 211,419.22 211,413.17 212.5,413.17 212.5,416.96 214,416.96 214,418.02 215.5,418.02 215.5,418.43 216.5,418.43 216.5,419.22 218,419.22 218,419.17 219.5,419.17 219.5,419.22 222,419.22 222,411.4 223,411.4 223,418.04 224,418.04 224,417.95 226,417.95 226,418.58 228,418.58 228,412.41 229,412.41 229,418.27 231,418.27 231,406.4 233.5,406.4 233.5,413.32 235.5,413.32 235.5,416.77 238,416.77 238,417.68 240,417.68 240,412.97 242,412.97 242,419.22 244,419.22 244,419.22 246,419.22 246,419.22 248.5,419.22 248.5,419.22 251,419.22 251,404.4 253.5,404.4 253.5,417.52 256,417.52 256,418.81 257,418.81 257,417.81 258,417.81 258,418.55 259,418.55 259,409.4 261.5,409.4 261.5,419.22 263,419.22 263,418.62 264,418.62 264,413.32 266,413.32 266,412.57 268,412.57 268,406.4 270,406.4 270,419.22 272.5,419.22 272.5,419.22 273.5,419.22 273.5,418.4 276,418.4 276,408.4 278,408.4 278,418.45 279,418.45 279,412.16 280.5,412.16 280.5,408.4 281.5,408.4 281.5,417.28 284,417.28 284,418.41 286.5,418.41 286.5,418.83 288.5,418.83 288.5,418.35 290,418.35 290,417.66 291,417.66 291,416.84 293,416.84 293,417.13 295.5,417.13 295.5,418.22 296.5,418.22 296.5,418.14 298,418.14 298,418.32 299.5,418.32 299.5,419.09 300.5,419.09 300.5,418.44 301.5,418.44 301.5,418.3 302.5,418.3 302.5,412.04 304.5,412.04 304.5,419.22 305.5,419.22 305.5,418.81 307,418.81 307,418.03 308,418.03 308,419.04 309.5,419.04 309.5,418.99 310.5,418.99 310.5,419.22 312,419.22 312,419.22 314,419.22 314,418.42 316,418.42 316,417.37 318.5,417.37 318.5,418.41 320,418.41 320,419.22 321.5,419.22 321.5,419.22 323.5,419.22 323.5,419.22 325.5,419.22 325.5,419.22 326.5,419.22 326.5,419.22 329,419.22 329,419.22 331.5,419.22 331.5,418.67 332.5,418.67 332.5,417.97 333.5,417.97 333.5,418.1 335.5,418.1 335.5,417.57 337,417.57 337,418.23 338.5,418.23 338.5,419.22 341,419.22 341,423.1 343,423.1 343,423.1 344.5,423.1 344.5,423.1 345.5,423.1 345.5,423.1 346.5,423.1 346.5,423.1 348,423.1 348,417.61 349,417.61 349,417.87 351.5,417.87 351.5,418.13 353,418.13 353,417.39 354,417.39 354,416.76 356.5,416.76 356.5,416.62 357.5,416.62 357.5,412.94 359,412.94 359,416.58 361.5,416.58 361.5,416.84 364,416.84 364,416.13 366.5,416.13 366.5,417.29 369,417.29 369,417.12 370.5,417.12 370.5,412.41 371.5,412.41 371.5,407.4 374,407.4 374,417.63 375.5,417.63 375.5,416.41 378,416.41 378,417.5 380.5,417.5 380.5,423.4" fill="#a9d062" filter="url(#b05)"/>
<g filter="url(#b05)">
<rect x="114.5" y="423.6" width="266" height="4.6" fill="#bfe0f4" />
<rect x="114.5" y="423.6" width="0.8" height="4.6" fill="#4aa4da" />
<rect x="115.3" y="423.6" width="3" height="4.6" fill="#e4f2fb" />
<rect x="118.3" y="423.6" width="1.6" height="4.6" fill="#e4f2fb" />
<rect x="119.9" y="423.6" width="1.6" height="4.6" fill="#e4f2fb" />
<rect x="121.5" y="423.6" width="2.2" height="4.6" fill="#2a8ac6" />
<rect x="123.7" y="423.6" width="2.2" height="4.6" fill="#2a8ac6" />
<rect x="125.9" y="423.6" width="1.6" height="4.6" fill="#5aaee0" />
<rect x="127.5" y="423.6" width="1.6" height="4.6" fill="#e4f2fb" />
<rect x="129.1" y="423.6" width="1.6" height="4.6" fill="#e4f2fb" />
<rect x="130.7" y="423.6" width="3" height="4.6" fill="#1f7cb8" />
<rect x="133.7" y="423.6" width="1.6" height="4.6" fill="#2a8ac6" />
<rect x="135.3" y="423.6" width="0.8" height="4.6" fill="#5aaee0" />
<rect x="136.1" y="423.6" width="0.8" height="4.6" fill="#3a9ad4" />
<rect x="136.9" y="423.6" width="2.2" height="4.6" fill="#7fc3ea" />
<rect x="139.1" y="423.6" width="3" height="4.6" fill="#2a8ac6" />
<rect x="142.1" y="423.6" width="0.8" height="4.6" fill="#2a8ac6" />
<rect x="142.9" y="423.6" width="1.6" height="4.6" fill="#2a8ac6" />
<rect x="144.5" y="423.6" width="2.2" height="4.6" fill="#3a9ad4" />
<rect x="146.7" y="423.6" width="1.6" height="4.6" fill="#3a9ad4" />
<rect x="148.3" y="423.6" width="2.2" height="4.6" fill="#e4f2fb" />
<rect x="150.5" y="423.6" width="3" height="4.6" fill="#2a8ac6" />
<rect x="153.5" y="423.6" width="0.8" height="4.6" fill="#2a8ac6" />
<rect x="154.3" y="423.6" width="0.8" height="4.6" fill="#7fc3ea" />
<rect x="155.1" y="423.6" width="0.8" height="4.6" fill="#e4f2fb" />
<rect x="155.9" y="423.6" width="3" height="4.6" fill="#7fc3ea" />
<rect x="158.9" y="423.6" width="1.2" height="4.6" fill="#7fc3ea" />
<rect x="160.1" y="423.6" width="1.6" height="4.6" fill="#7fc3ea" />
<rect x="161.7" y="423.6" width="2.2" height="4.6" fill="#2a8ac6" />
<rect x="163.9" y="423.6" width="1.6" height="4.6" fill="#3a9ad4" />
<rect x="165.5" y="423.6" width="2.2" height="4.6" fill="#e4f2fb" />
<rect x="167.7" y="423.6" width="2.2" height="4.6" fill="#3a9ad4" />
<rect x="169.9" y="423.6" width="2.2" height="4.6" fill="#e4f2fb" />
<rect x="172.1" y="423.6" width="3" height="4.6" fill="#4aa4da" />
<rect x="175.1" y="423.6" width="2.2" height="4.6" fill="#e4f2fb" />
<rect x="177.3" y="423.6" width="2.2" height="4.6" fill="#2a8ac6" />
<rect x="179.5" y="423.6" width="3" height="4.6" fill="#7fc3ea" />
<rect x="182.5" y="423.6" width="1.6" height="4.6" fill="#1f7cb8" />
<rect x="184.1" y="423.6" width="1.2" height="4.6" fill="#1f7cb8" />
<rect x="185.3" y="423.6" width="2.2" height="4.6" fill="#e4f2fb" />
<rect x="187.5" y="423.6" width="0.8" height="4.6" fill="#2a8ac6" />
<rect x="188.3" y="423.6" width="1.2" height="4.6" fill="#2a8ac6" />
<rect x="189.5" y="423.6" width="3" height="4.6" fill="#1f7cb8" />
<rect x="192.5" y="423.6" width="1.6" height="4.6" fill="#e4f2fb" />
<rect x="194.1" y="423.6" width="0.8" height="4.6" fill="#3a9ad4" />
<rect x="194.9" y="423.6" width="1.2" height="4.6" fill="#5aaee0" />
<rect x="196.1" y="423.6" width="3" height="4.6" fill="#3a9ad4" />
<rect x="199.1" y="423.6" width="1.2" height="4.6" fill="#5aaee0" />
<rect x="200.3" y="423.6" width="1.6" height="4.6" fill="#e4f2fb" />
<rect x="201.9" y="423.6" width="1.6" height="4.6" fill="#1f7cb8" />
<rect x="203.5" y="423.6" width="1.2" height="4.6" fill="#4aa4da" />
<rect x="204.7" y="423.6" width="1.2" height="4.6" fill="#7fc3ea" />
<rect x="205.9" y="423.6" width="1.2" height="4.6" fill="#e4f2fb" />
<rect x="207.1" y="423.6" width="3" height="4.6" fill="#5aaee0" />
<rect x="210.1" y="423.6" width="2.2" height="4.6" fill="#e4f2fb" />
<rect x="212.3" y="423.6" width="3" height="4.6" fill="#2a8ac6" />
<rect x="215.3" y="423.6" width="2.2" height="4.6" fill="#5aaee0" />
<rect x="217.5" y="423.6" width="0.8" height="4.6" fill="#2a8ac6" />
<rect x="218.3" y="423.6" width="1.2" height="4.6" fill="#2a8ac6" />
<rect x="219.5" y="423.6" width="1.2" height="4.6" fill="#7fc3ea" />
<rect x="220.7" y="423.6" width="2.2" height="4.6" fill="#7fc3ea" />
<rect x="222.9" y="423.6" width="0.8" height="4.6" fill="#e4f2fb" />
<rect x="223.7" y="423.6" width="1.6" height="4.6" fill="#e4f2fb" />
<rect x="225.3" y="423.6" width="3" height="4.6" fill="#3a9ad4" />
<rect x="228.3" y="423.6" width="2.2" height="4.6" fill="#3a9ad4" />
<rect x="230.5" y="423.6" width="1.2" height="4.6" fill="#2a8ac6" />
<rect x="231.7" y="423.6" width="1.2" height="4.6" fill="#e4f2fb" />
<rect x="232.9" y="423.6" width="1.6" height="4.6" fill="#e4f2fb" />
<rect x="234.5" y="423.6" width="3" height="4.6" fill="#1f7cb8" />
<rect x="237.5" y="423.6" width="0.8" height="4.6" fill="#7fc3ea" />
<rect x="238.3" y="423.6" width="1.6" height="4.6" fill="#e4f2fb" />
<rect x="239.9" y="423.6" width="1.6" height="4.6" fill="#e4f2fb" />
<rect x="241.5" y="423.6" width="1.6" height="4.6" fill="#2a8ac6" />
<rect x="243.1" y="423.6" width="3" height="4.6" fill="#e4f2fb" />
<rect x="246.1" y="423.6" width="0.8" height="4.6" fill="#2a8ac6" />
<rect x="246.9" y="423.6" width="0.8" height="4.6" fill="#e4f2fb" />
<rect x="247.7" y="423.6" width="1.2" height="4.6" fill="#4aa4da" />
<rect x="248.9" y="423.6" width="1.6" height="4.6" fill="#7fc3ea" />
<rect x="250.5" y="423.6" width="3" height="4.6" fill="#7fc3ea" />
<rect x="253.5" y="423.6" width="2.2" height="4.6" fill="#e4f2fb" />
<rect x="255.7" y="423.6" width="2.2" height="4.6" fill="#e4f2fb" />
<rect x="257.9" y="423.6" width="0.8" height="4.6" fill="#5aaee0" />
<rect x="258.7" y="423.6" width="1.2" height="4.6" fill="#1f7cb8" />
<rect x="259.9" y="423.6" width="3" height="4.6" fill="#4aa4da" />
<rect x="262.9" y="423.6" width="1.2" height="4.6" fill="#e4f2fb" />
<rect x="264.1" y="423.6" width="0.8" height="4.6" fill="#e4f2fb" />
<rect x="264.9" y="423.6" width="0.8" height="4.6" fill="#e4f2fb" />
<rect x="265.7" y="423.6" width="2.2" height="4.6" fill="#5aaee0" />
<rect x="267.9" y="423.6" width="1.6" height="4.6" fill="#e4f2fb" />
<rect x="269.5" y="423.6" width="1.6" height="4.6" fill="#3a9ad4" />
<rect x="271.1" y="423.6" width="1.6" height="4.6" fill="#e4f2fb" />
<rect x="272.7" y="423.6" width="1.6" height="4.6" fill="#e4f2fb" />
<rect x="274.3" y="423.6" width="3" height="4.6" fill="#7fc3ea" />
<rect x="277.3" y="423.6" width="0.8" height="4.6" fill="#e4f2fb" />
<rect x="278.1" y="423.6" width="0.8" height="4.6" fill="#e4f2fb" />
<rect x="278.9" y="423.6" width="1.6" height="4.6" fill="#4aa4da" />
<rect x="280.5" y="423.6" width="3" height="4.6" fill="#2a8ac6" />
<rect x="283.5" y="423.6" width="2.2" height="4.6" fill="#e4f2fb" />
<rect x="285.7" y="423.6" width="0.8" height="4.6" fill="#2a8ac6" />
<rect x="286.5" y="423.6" width="2.2" height="4.6" fill="#4aa4da" />
<rect x="288.7" y="423.6" width="3" height="4.6" fill="#e4f2fb" />
<rect x="291.7" y="423.6" width="1.2" height="4.6" fill="#e4f2fb" />
<rect x="292.9" y="423.6" width="1.2" height="4.6" fill="#4aa4da" />
<rect x="294.1" y="423.6" width="0.8" height="4.6" fill="#2a8ac6" />
<rect x="294.9" y="423.6" width="2.2" height="4.6" fill="#e4f2fb" />
<rect x="297.1" y="423.6" width="3" height="4.6" fill="#3a9ad4" />
<rect x="300.1" y="423.6" width="3" height="4.6" fill="#4aa4da" />
<rect x="303.1" y="423.6" width="2.2" height="4.6" fill="#2a8ac6" />
<rect x="305.3" y="423.6" width="0.8" height="4.6" fill="#2a8ac6" />
<rect x="306.1" y="423.6" width="1.2" height="4.6" fill="#e4f2fb" />
<rect x="307.3" y="423.6" width="2.2" height="4.6" fill="#e4f2fb" />
<rect x="309.5" y="423.6" width="2.2" height="4.6" fill="#5aaee0" />
<rect x="311.7" y="423.6" width="2.2" height="4.6" fill="#2a8ac6" />
<rect x="313.9" y="423.6" width="1.6" height="4.6" fill="#1f7cb8" />
<rect x="315.5" y="423.6" width="1.6" height="4.6" fill="#1f7cb8" />
<rect x="317.1" y="423.6" width="2.2" height="4.6" fill="#4aa4da" />
<rect x="319.3" y="423.6" width="1.6" height="4.6" fill="#5aaee0" />
<rect x="320.9" y="423.6" width="3" height="4.6" fill="#2a8ac6" />
<rect x="323.9" y="423.6" width="3" height="4.6" fill="#5aaee0" />
<rect x="326.9" y="423.6" width="2.2" height="4.6" fill="#5aaee0" />
<rect x="329.1" y="423.6" width="1.6" height="4.6" fill="#e4f2fb" />
<rect x="330.7" y="423.6" width="1.2" height="4.6" fill="#2a8ac6" />
<rect x="331.9" y="423.6" width="1.2" height="4.6" fill="#2a8ac6" />
<rect x="333.1" y="423.6" width="1.2" height="4.6" fill="#e4f2fb" />
<rect x="334.3" y="423.6" width="1.2" height="4.6" fill="#e4f2fb" />
<rect x="335.5" y="423.6" width="1.6" height="4.6" fill="#e4f2fb" />
<rect x="337.1" y="423.6" width="3" height="4.6" fill="#1f7cb8" />
<rect x="340.1" y="423.6" width="1.6" height="4.6" fill="#3a9ad4" />
<rect x="341.7" y="423.6" width="3" height="4.6" fill="#5aaee0" />
<rect x="344.7" y="423.6" width="3" height="4.6" fill="#e4f2fb" />
<rect x="347.7" y="423.6" width="2.2" height="4.6" fill="#2a8ac6" />
<rect x="349.9" y="423.6" width="1.6" height="4.6" fill="#e4f2fb" />
<rect x="351.5" y="423.6" width="1.6" height="4.6" fill="#3a9ad4" />
<rect x="353.1" y="423.6" width="1.2" height="4.6" fill="#4aa4da" />
<rect x="354.3" y="423.6" width="1.2" height="4.6" fill="#e4f2fb" />
<rect x="355.5" y="423.6" width="1.6" height="4.6" fill="#2a8ac6" />
<rect x="357.1" y="423.6" width="2.2" height="4.6" fill="#e4f2fb" />
<rect x="359.3" y="423.6" width="2.2" height="4.6" fill="#e4f2fb" />
<rect x="361.5" y="423.6" width="3" height="4.6" fill="#e4f2fb" />
<rect x="364.5" y="423.6" width="0.8" height="4.6" fill="#e4f2fb" />
<rect x="365.3" y="423.6" width="3" height="4.6" fill="#e4f2fb" />
<rect x="368.3" y="423.6" width="1.2" height="4.6" fill="#1f7cb8" />
<rect x="369.5" y="423.6" width="1.2" height="4.6" fill="#4aa4da" />
<rect x="370.7" y="423.6" width="3" height="4.6" fill="#1f7cb8" />
<rect x="373.7" y="423.6" width="0.8" height="4.6" fill="#4aa4da" />
<rect x="374.5" y="423.6" width="2.2" height="4.6" fill="#e4f2fb" />
<rect x="376.7" y="423.6" width="0.8" height="4.6" fill="#e4f2fb" />
<rect x="377.5" y="423.6" width="0.8" height="4.6" fill="#e4f2fb" />
<rect x="378.3" y="423.6" width="2.2" height="4.6" fill="#2a8ac6" />
</g>
<rect x="339.5" y="423.4" width="6.5" height="5" fill="#fff" />
<g clip-path="url(#c1)">
<g filter="url(#b3)">
<rect x="237" y="136" width="150" height="150" fill="#f9a824" opacity="0.95"/>
<rect x="262" y="160" width="125" height="128" fill="#f99d1c" opacity="0.5"/>
<rect x="300" y="180" width="85" height="100" fill="#f8961a" opacity="0.45"/>
<rect x="237" y="136" width="62" height="32" fill="#ffffff" opacity="0.6"/>
<rect x="237" y="168" width="26" height="50" fill="#ffffff" opacity="0.4"/>
<rect x="346" y="136" width="40" height="38" fill="#f47a1c" opacity="0.8"/>
<rect x="346" y="180" width="40" height="70" fill="#f9a11f" opacity="0.5"/>
<rect x="346" y="250" width="40" height="50" fill="#fdd060" opacity="0.45"/>
<rect x="110" y="304" width="129" height="64" fill="#f9a824" opacity="0.95"/>
<rect x="110" y="366" width="79" height="46" fill="#f9a824" opacity="0.95"/>
<rect x="110" y="345" width="100" height="50" fill="#f99d1c" opacity="0.4"/>
<rect x="189" y="366" width="49" height="34" fill="#fde08a" opacity="0.5"/>
<rect x="172" y="283" width="66" height="28" fill="#f9a824" opacity="0.9"/>
<rect x="110" y="290" width="64" height="38" fill="#fde9a8" opacity="0.45"/>
<rect x="110" y="304" width="40" height="24" fill="#ffffff" opacity="0.5"/>
<rect x="180" y="232" width="58" height="56" fill="#fcc040" opacity="0.6"/>
<rect x="205" y="250" width="33" height="38" fill="#f9a11f" opacity="0.55"/>
<rect x="237" y="288" width="56" height="44" fill="#fbb130" opacity="0.7"/>
<rect x="237" y="288" width="110" height="20" fill="#fcc040" opacity="0.5"/>
<rect x="293" y="288" width="50" height="36" fill="#fde08a" opacity="0.45"/>
<rect x="237" y="332" width="40" height="30" fill="#fde08a" opacity="0.4"/>
<rect x="150" y="262" width="40" height="26" fill="#fde08a" opacity="0.4"/>
</g>
<g filter="url(#b1)">
<rect x="156.21" y="321.48" width="6" height="8" fill="#ffe27a" opacity="0.45"/>
<rect x="361.98" y="251.9" width="4" height="4" fill="#ffe27a" opacity="0.36"/>
<rect x="200.15" y="270.35" width="3" height="6" fill="#ffe27a" opacity="0.09"/>
<rect x="145.47" y="384.83" width="8" height="4" fill="#fff3c4" opacity="0.27"/>
<rect x="152.49" y="314.92" width="8" height="4" fill="#ffe27a" opacity="0.38"/>
<rect x="167.89" y="395.69" width="11" height="3" fill="#ffe27a" opacity="0.32"/>
<rect x="261.8" y="241.21" width="6" height="4" fill="#ffffff" opacity="0.24"/>
<rect x="367.81" y="271.38" width="6" height="8" fill="#ffffff" opacity="0.23"/>
<rect x="335.54" y="180.28" width="8" height="3" fill="#ffffff" opacity="0.17"/>
<rect x="272.63" y="276.9" width="11" height="11" fill="#fff3c4" opacity="0.32"/>
<rect x="278.86" y="186.06" width="4" height="6" fill="#fff3c4" opacity="0.25"/>
<rect x="272.06" y="219.56" width="3" height="4" fill="#ffe27a" opacity="0.43"/>
<rect x="158.64" y="252.04" width="4" height="3" fill="#ffe27a" opacity="0.12"/>
<rect x="362.93" y="203.4" width="11" height="3" fill="#ffffff" opacity="0.39"/>
<rect x="319.41" y="266.52" width="6" height="3" fill="#fff3c4" opacity="0.35"/>
<rect x="152.52" y="331.77" width="3" height="6" fill="#ffe27a" opacity="0.44"/>
<rect x="252.87" y="331.81" width="3" height="4" fill="#fff3c4" opacity="0.17"/>
<rect x="273.16" y="251.34" width="11" height="8" fill="#fff3c4" opacity="0.19"/>
<rect x="269.69" y="175.06" width="3" height="8" fill="#ffe27a" opacity="0.44"/>
<rect x="118.3" y="295.92" width="4" height="11" fill="#ffffff" opacity="0.23"/>
<rect x="256.36" y="224.26" width="8" height="4" fill="#ffe27a" opacity="0.2"/>
<rect x="341.81" y="191.63" width="11" height="3" fill="#ffe27a" opacity="0.39"/>
<rect x="138.41" y="297.91" width="11" height="11" fill="#fff3c4" opacity="0.44"/>
<rect x="195.12" y="324.05" width="11" height="11" fill="#ffe27a" opacity="0.17"/>
<rect x="344.62" y="311.36" width="8" height="11" fill="#ffe27a" opacity="0.16"/>
<rect x="238.2" y="274.46" width="8" height="3" fill="#ffe27a" opacity="0.16"/>
<rect x="289.28" y="149.18" width="6" height="11" fill="#ffffff" opacity="0.37"/>
<rect x="357.13" y="312.05" width="3" height="8" fill="#ffe27a" opacity="0.13"/>
<rect x="350.65" y="345.35" width="11" height="11" fill="#fff3c4" opacity="0.1"/>
<rect x="215.44" y="301.51" width="11" height="3" fill="#ffe27a" opacity="0.24"/>
<rect x="201.86" y="308.66" width="4" height="6" fill="#ffe27a" opacity="0.44"/>
<rect x="198.33" y="205.63" width="4" height="11" fill="#ffe27a" opacity="0.1"/>
<rect x="303.94" y="179.81" width="8" height="8" fill="#ffffff" opacity="0.28"/>
<rect x="277.38" y="212.65" width="4" height="8" fill="#fff3c4" opacity="0.18"/>
<rect x="373.35" y="195.24" width="6" height="6" fill="#ffe27a" opacity="0.17"/>
<rect x="267.45" y="243.91" width="8" height="8" fill="#ffe27a" opacity="0.45"/>
<rect x="364.34" y="177.34" width="6" height="4" fill="#ffffff" opacity="0.26"/>
<rect x="348.52" y="202.99" width="11" height="11" fill="#ffffff" opacity="0.42"/>
<rect x="116.72" y="292.83" width="3" height="8" fill="#ffe27a" opacity="0.2"/>
<rect x="245.29" y="278.07" width="11" height="11" fill="#ffffff" opacity="0.29"/>
<rect x="326.43" y="227.91" width="6" height="4" fill="#fff3c4" opacity="0.24"/>
<rect x="283.51" y="140.46" width="3" height="3" fill="#ffe27a" opacity="0.3"/>
<rect x="293.71" y="188.48" width="6" height="6" fill="#ffe27a" opacity="0.2"/>
<rect x="268.85" y="211.22" width="8" height="4" fill="#ffe27a" opacity="0.18"/>
<rect x="361.47" y="281.26" width="8" height="4" fill="#ffe27a" opacity="0.37"/>
<rect x="252.59" y="158.83" width="4" height="4" fill="#ffe27a" opacity="0.37"/>
<rect x="274.59" y="306.38" width="4" height="3" fill="#fff3c4" opacity="0.3"/>
<rect x="155.42" y="364.35" width="3" height="6" fill="#ffe27a" opacity="0.22"/>
<rect x="379.48" y="285.59" width="8" height="6" fill="#ffe27a" opacity="0.22"/>
<rect x="272.63" y="231.6" width="6" height="11" fill="#ffe27a" opacity="0.45"/>
<rect x="283.75" y="343.05" width="4" height="4" fill="#fff3c4" opacity="0.09"/>
<rect x="323.5" y="227.4" width="8" height="6" fill="#ffe27a" opacity="0.37"/>
<rect x="378.25" y="238.25" width="8" height="3" fill="#ffe27a" opacity="0.38"/>
<rect x="344.26" y="216.9" width="8" height="4" fill="#ffffff" opacity="0.22"/>
<rect x="308.75" y="354.09" width="8" height="3" fill="#ffe27a" opacity="0.12"/>
<rect x="245.96" y="260.76" width="8" height="11" fill="#ffffff" opacity="0.33"/>
<rect x="145.48" y="375.9" width="11" height="6" fill="#ffe27a" opacity="0.37"/>
<rect x="147.89" y="343.13" width="8" height="4" fill="#ffe27a" opacity="0.36"/>
<rect x="201.81" y="310.7" width="6" height="3" fill="#ffe27a" opacity="0.4"/>
<rect x="188.04" y="207.81" width="8" height="3" fill="#ffe27a" opacity="0.17"/>
<rect x="256.06" y="283.98" width="8" height="3" fill="#fff3c4" opacity="0.19"/>
<rect x="284.42" y="305.19" width="3" height="3" fill="#ffe27a" opacity="0.36"/>
<rect x="323.34" y="384.99" width="3" height="8" fill="#fff3c4" opacity="0.2"/>
<rect x="220.29" y="352.53" width="8" height="4" fill="#ffe27a" opacity="0.43"/>
<rect x="133.38" y="394.61" width="8" height="6" fill="#ffe27a" opacity="0.24"/>
<rect x="289.39" y="255.73" width="4" height="3" fill="#fff3c4" opacity="0.37"/>
<rect x="333.74" y="274.37" width="3" height="8" fill="#ffe27a" opacity="0.32"/>
<rect x="209.51" y="190.77" width="8" height="6" fill="#fff3c4" opacity="0.13"/>
<rect x="117.02" y="271.73" width="4" height="3" fill="#ffe27a" opacity="0.1"/>
<rect x="202.28" y="315.44" width="4" height="8" fill="#ffe27a" opacity="0.37"/>
<rect x="253.62" y="237.85" width="6" height="11" fill="#ffe27a" opacity="0.36"/>
<rect x="240.67" y="225.38" width="4" height="6" fill="#ffe27a" opacity="0.41"/>
<rect x="177.95" y="403.13" width="6" height="11" fill="#ffffff" opacity="0.4"/>
<rect x="375.82" y="341.94" width="4" height="3" fill="#ffe27a" opacity="0.19"/>
<rect x="374.22" y="270.82" width="11" height="4" fill="#ffe27a" opacity="0.35"/>
<rect x="227.39" y="314.63" width="6" height="4" fill="#ffffff" opacity="0.16"/>
<rect x="282.63" y="167.61" width="11" height="11" fill="#fff3c4" opacity="0.35"/>
<rect x="345.76" y="215.5" width="8" height="11" fill="#ffe27a" opacity="0.23"/>
<rect x="321.96" y="138.97" width="6" height="3" fill="#ffe27a" opacity="0.39"/>
<rect x="297.81" y="272.23" width="3" height="3" fill="#ffe27a" opacity="0.25"/>
<rect x="295.04" y="199.68" width="4" height="6" fill="#ffe27a" opacity="0.33"/>
<rect x="165.22" y="184.23" width="6" height="8" fill="#fff3c4" opacity="0.11"/>
<rect x="214.92" y="349.43" width="6" height="3" fill="#ffe27a" opacity="0.24"/>
<rect x="173.02" y="356.47" width="4" height="3" fill="#ffffff" opacity="0.29"/>
<rect x="358.13" y="311.9" width="11" height="6" fill="#fff3c4" opacity="0.12"/>
<rect x="250.19" y="202.28" width="11" height="8" fill="#fff3c4" opacity="0.38"/>
<rect x="295.81" y="221.89" width="11" height="11" fill="#ffffff" opacity="0.31"/>
<rect x="313.68" y="306.32" width="6" height="4" fill="#ffe27a" opacity="0.44"/>
<rect x="271.93" y="209.92" width="11" height="6" fill="#ffe27a" opacity="0.41"/>
<rect x="284.41" y="305.24" width="3" height="6" fill="#ffe27a" opacity="0.21"/>
<rect x="256.14" y="323.29" width="11" height="11" fill="#ffe27a" opacity="0.34"/>
<rect x="226.66" y="153.21" width="4" height="4" fill="#ffe27a" opacity="0.08"/>
<rect x="355.02" y="183.52" width="11" height="4" fill="#fff3c4" opacity="0.33"/>
<rect x="305.27" y="317.25" width="3" height="3" fill="#ffe27a" opacity="0.4"/>
<rect x="193.11" y="346.98" width="4" height="4" fill="#ffe27a" opacity="0.43"/>
<rect x="213.85" y="304.48" width="4" height="8" fill="#ffffff" opacity="0.25"/>
<rect x="292.1" y="192.42" width="11" height="4" fill="#ffe27a" opacity="0.18"/>
<rect x="239.91" y="160.37" width="8" height="3" fill="#fff3c4" opacity="0.19"/>
<rect x="250.4" y="161.61" width="3" height="8" fill="#ffffff" opacity="0.27"/>
<rect x="233.02" y="265.42" width="6" height="11" fill="#ffe27a" opacity="0.12"/>
<rect x="126.51" y="349.21" width="11" height="6" fill="#ffe27a" opacity="0.29"/>
<rect x="184.83" y="349.5" width="8" height="4" fill="#ffffff" opacity="0.26"/>
<rect x="332.89" y="320.04" width="3" height="3" fill="#fff3c4" opacity="0.17"/>
<rect x="172.96" y="207.04" width="4" height="4" fill="#ffe27a" opacity="0.09"/>
<rect x="303.77" y="387.32" width="4" height="8" fill="#ffe27a" opacity="0.1"/>
<rect x="117" y="310.49" width="4" height="3" fill="#fff3c4" opacity="0.33"/>
<rect x="136.95" y="292.96" width="6" height="3" fill="#ffe27a" opacity="0.43"/>
<rect x="325.67" y="250.52" width="3" height="6" fill="#ffffff" opacity="0.37"/>
<rect x="269.9" y="221.8" width="8" height="3" fill="#fff3c4" opacity="0.39"/>
<rect x="295.97" y="207.69" width="6" height="6" fill="#ffe27a" opacity="0.37"/>
<rect x="147.36" y="296.94" width="4" height="11" fill="#ffe27a" opacity="0.4"/>
<rect x="249.11" y="180.99" width="11" height="11" fill="#ffe27a" opacity="0.39"/>
<rect x="374.2" y="206.93" width="3" height="11" fill="#fff3c4" opacity="0.26"/>
<rect x="239.36" y="380.27" width="3" height="8" fill="#fff3c4" opacity="0.1"/>
</g>
<g opacity="0.5">
<line x1="284.64" y1="140" x2="284.64" y2="404" stroke="#fff" stroke-width="1.3" opacity="0.35"/>
<line x1="241.26" y1="140" x2="241.26" y2="404" stroke="#fff" stroke-width="1.3" opacity="0.37"/>
<line x1="168.82" y1="140" x2="168.82" y2="404" stroke="#fff" stroke-width="0.9" opacity="0.45"/>
<line x1="198.22" y1="140" x2="198.22" y2="404" stroke="#fff" stroke-width="0.6" opacity="0.2"/>
<line x1="207.14" y1="140" x2="207.14" y2="404" stroke="#fff" stroke-width="0.9" opacity="0.38"/>
<line x1="189.34" y1="140" x2="189.34" y2="404" stroke="#fff" stroke-width="0.9" opacity="0.29"/>
<line x1="170.31" y1="140" x2="170.31" y2="404" stroke="#fff" stroke-width="1.3" opacity="0.21"/>
<line x1="338.1" y1="140" x2="338.1" y2="404" stroke="#fff" stroke-width="0.9" opacity="0.46"/>
<line x1="124.62" y1="140" x2="124.62" y2="404" stroke="#fff" stroke-width="0.9" opacity="0.24"/>
<line x1="183.78" y1="140" x2="183.78" y2="404" stroke="#fff" stroke-width="1.3" opacity="0.35"/>
<line x1="222.73" y1="140" x2="222.73" y2="404" stroke="#fff" stroke-width="1.3" opacity="0.36"/>
<line x1="204.82" y1="140" x2="204.82" y2="404" stroke="#fff" stroke-width="1.3" opacity="0.15"/>
<line x1="274.71" y1="140" x2="274.71" y2="404" stroke="#fff" stroke-width="1.3" opacity="0.16"/>
<line x1="236.65" y1="140" x2="236.65" y2="404" stroke="#fff" stroke-width="0.9" opacity="0.39"/>
<line x1="234.77" y1="140" x2="234.77" y2="404" stroke="#fff" stroke-width="1.3" opacity="0.2"/>
<line x1="368.84" y1="140" x2="368.84" y2="404" stroke="#fff" stroke-width="0.9" opacity="0.3"/>
<line x1="285.15" y1="140" x2="285.15" y2="404" stroke="#fff" stroke-width="0.6" opacity="0.34"/>
<line x1="375.63" y1="140" x2="375.63" y2="404" stroke="#fff" stroke-width="1.3" opacity="0.16"/>
<line x1="242.14" y1="140" x2="242.14" y2="404" stroke="#fff" stroke-width="1.3" opacity="0.49"/>
<line x1="227.69" y1="140" x2="227.69" y2="404" stroke="#fff" stroke-width="0.9" opacity="0.3"/>
<line x1="148.64" y1="140" x2="148.64" y2="404" stroke="#fff" stroke-width="0.6" opacity="0.24"/>
<line x1="195.96" y1="140" x2="195.96" y2="404" stroke="#fff" stroke-width="1.3" opacity="0.22"/>
<line x1="202.11" y1="140" x2="202.11" y2="404" stroke="#fff" stroke-width="0.9" opacity="0.4"/>
<line x1="206.23" y1="140" x2="206.23" y2="404" stroke="#fff" stroke-width="0.6" opacity="0.49"/>
<line x1="341.36" y1="140" x2="341.36" y2="404" stroke="#fff" stroke-width="0.9" opacity="0.39"/>
<line x1="242.88" y1="140" x2="242.88" y2="404" stroke="#fff" stroke-width="1.3" opacity="0.33"/>
<line x1="371.45" y1="140" x2="371.45" y2="404" stroke="#fff" stroke-width="0.6" opacity="0.4"/>
<line x1="244.46" y1="140" x2="244.46" y2="404" stroke="#fff" stroke-width="1.3" opacity="0.18"/>
<line x1="160.94" y1="140" x2="160.94" y2="404" stroke="#fff" stroke-width="0.9" opacity="0.46"/>
<line x1="327.54" y1="140" x2="327.54" y2="404" stroke="#fff" stroke-width="1.3" opacity="0.45"/>
<line x1="260.33" y1="140" x2="260.33" y2="404" stroke="#fff" stroke-width="0.9" opacity="0.28"/>
<line x1="198.64" y1="140" x2="198.64" y2="404" stroke="#fff" stroke-width="0.6" opacity="0.28"/>
<line x1="265.63" y1="140" x2="265.63" y2="404" stroke="#fff" stroke-width="0.6" opacity="0.33"/>
<line x1="323.04" y1="140" x2="323.04" y2="404" stroke="#fff" stroke-width="0.9" opacity="0.25"/>
<line x1="256.62" y1="140" x2="256.62" y2="404" stroke="#fff" stroke-width="0.9" opacity="0.36"/>
<line x1="121.46" y1="140" x2="121.46" y2="404" stroke="#fff" stroke-width="1.3" opacity="0.42"/>
<line x1="217.74" y1="140" x2="217.74" y2="404" stroke="#fff" stroke-width="0.9" opacity="0.19"/>
<line x1="316.02" y1="140" x2="316.02" y2="404" stroke="#fff" stroke-width="0.6" opacity="0.39"/>
<line x1="305.63" y1="140" x2="305.63" y2="404" stroke="#fff" stroke-width="0.6" opacity="0.22"/>
<line x1="298.11" y1="140" x2="298.11" y2="404" stroke="#fff" stroke-width="0.9" opacity="0.18"/>
<line x1="276.96" y1="140" x2="276.96" y2="404" stroke="#fff" stroke-width="0.9" opacity="0.21"/>
<line x1="169.34" y1="140" x2="169.34" y2="404" stroke="#fff" stroke-width="0.9" opacity="0.16"/>
<line x1="136.62" y1="140" x2="136.62" y2="404" stroke="#fff" stroke-width="1.3" opacity="0.32"/>
<line x1="276.47" y1="140" x2="276.47" y2="404" stroke="#fff" stroke-width="0.6" opacity="0.32"/>
<line x1="228.79" y1="140" x2="228.79" y2="404" stroke="#fff" stroke-width="1.3" opacity="0.22"/>
<line x1="320.52" y1="140" x2="320.52" y2="404" stroke="#fff" stroke-width="0.6" opacity="0.5"/>
<line x1="114" y1="289.11" x2="381" y2="289.11" stroke="#fff" stroke-width="1.3" opacity="0.41"/>
<line x1="114" y1="175.49" x2="381" y2="175.49" stroke="#fff" stroke-width="0.6" opacity="0.26"/>
<line x1="114" y1="304.13" x2="381" y2="304.13" stroke="#fff" stroke-width="1.3" opacity="0.42"/>
<line x1="114" y1="366.5" x2="381" y2="366.5" stroke="#fff" stroke-width="1.3" opacity="0.18"/>
<line x1="114" y1="188.03" x2="381" y2="188.03" stroke="#fff" stroke-width="0.9" opacity="0.4"/>
<line x1="114" y1="159.51" x2="381" y2="159.51" stroke="#fff" stroke-width="1.3" opacity="0.24"/>
<line x1="114" y1="287.33" x2="381" y2="287.33" stroke="#fff" stroke-width="0.9" opacity="0.3"/>
<line x1="114" y1="386.6" x2="381" y2="386.6" stroke="#fff" stroke-width="0.6" opacity="0.3"/>
<line x1="114" y1="396.7" x2="381" y2="396.7" stroke="#fff" stroke-width="0.6" opacity="0.26"/>
<line x1="114" y1="267.56" x2="381" y2="267.56" stroke="#fff" stroke-width="1.3" opacity="0.31"/>
<line x1="114" y1="162.25" x2="381" y2="162.25" stroke="#fff" stroke-width="1.3" opacity="0.4"/>
<line x1="114" y1="281.34" x2="381" y2="281.34" stroke="#fff" stroke-width="0.9" opacity="0.4"/>
<line x1="114" y1="280.24" x2="381" y2="280.24" stroke="#fff" stroke-width="0.6" opacity="0.36"/>
<line x1="114" y1="151.53" x2="381" y2="151.53" stroke="#fff" stroke-width="0.6" opacity="0.32"/>
<line x1="114" y1="339.98" x2="381" y2="339.98" stroke="#fff" stroke-width="0.6" opacity="0.45"/>
<line x1="114" y1="237.56" x2="381" y2="237.56" stroke="#fff" stroke-width="0.6" opacity="0.27"/>
<line x1="114" y1="392.99" x2="381" y2="392.99" stroke="#fff" stroke-width="0.6" opacity="0.45"/>
<line x1="114" y1="329.79" x2="381" y2="329.79" stroke="#fff" stroke-width="1.3" opacity="0.2"/>
<line x1="114" y1="223.23" x2="381" y2="223.23" stroke="#fff" stroke-width="0.6" opacity="0.31"/>
<line x1="114" y1="168.75" x2="381" y2="168.75" stroke="#fff" stroke-width="0.9" opacity="0.17"/>
<line x1="114" y1="179.14" x2="381" y2="179.14" stroke="#fff" stroke-width="0.6" opacity="0.2"/>
<line x1="114" y1="379.89" x2="381" y2="379.89" stroke="#fff" stroke-width="1.3" opacity="0.43"/>
<line x1="114" y1="274.34" x2="381" y2="274.34" stroke="#fff" stroke-width="0.9" opacity="0.31"/>
<line x1="114" y1="288.59" x2="381" y2="288.59" stroke="#fff" stroke-width="0.6" opacity="0.16"/>
<line x1="114" y1="349.07" x2="381" y2="349.07" stroke="#fff" stroke-width="0.6" opacity="0.3"/>
<line x1="114" y1="216.14" x2="381" y2="216.14" stroke="#fff" stroke-width="0.9" opacity="0.38"/>
<line x1="114" y1="375.35" x2="381" y2="375.35" stroke="#fff" stroke-width="0.6" opacity="0.23"/>
<line x1="114" y1="201.92" x2="381" y2="201.92" stroke="#fff" stroke-width="1.3" opacity="0.32"/>
<line x1="114" y1="226.34" x2="381" y2="226.34" stroke="#fff" stroke-width="0.9" opacity="0.25"/>
<line x1="114" y1="361.65" x2="381" y2="361.65" stroke="#fff" stroke-width="0.6" opacity="0.3"/>
<line x1="114" y1="341.34" x2="381" y2="341.34" stroke="#fff" stroke-width="0.9" opacity="0.36"/>
<line x1="114" y1="148.05" x2="381" y2="148.05" stroke="#fff" stroke-width="0.9" opacity="0.43"/>
<line x1="114" y1="211.83" x2="381" y2="211.83" stroke="#fff" stroke-width="0.9" opacity="0.37"/>
<line x1="114" y1="282.16" x2="381" y2="282.16" stroke="#fff" stroke-width="1.3" opacity="0.21"/>
<line x1="114" y1="305.55" x2="381" y2="305.55" stroke="#fff" stroke-width="0.6" opacity="0.18"/>
<line x1="114" y1="349.59" x2="381" y2="349.59" stroke="#fff" stroke-width="0.9" opacity="0.28"/>
<line x1="114" y1="260.3" x2="381" y2="260.3" stroke="#fff" stroke-width="1.3" opacity="0.48"/>
<line x1="114" y1="351.3" x2="381" y2="351.3" stroke="#fff" stroke-width="0.9" opacity="0.37"/>
<line x1="114" y1="211.9" x2="381" y2="211.9" stroke="#fff" stroke-width="0.6" opacity="0.39"/>
<line x1="114" y1="324.57" x2="381" y2="324.57" stroke="#fff" stroke-width="0.6" opacity="0.23"/>
<line x1="114" y1="308.61" x2="381" y2="308.61" stroke="#fff" stroke-width="1.3" opacity="0.27"/>
<line x1="114" y1="152.85" x2="381" y2="152.85" stroke="#fff" stroke-width="0.9" opacity="0.42"/>
<line x1="114" y1="285.28" x2="381" y2="285.28" stroke="#fff" stroke-width="0.9" opacity="0.34"/>
<line x1="114" y1="301.19" x2="381" y2="301.19" stroke="#fff" stroke-width="0.6" opacity="0.44"/>
<line x1="114" y1="220.06" x2="381" y2="220.06" stroke="#fff" stroke-width="1.3" opacity="0.43"/>
<line x1="114" y1="142.99" x2="381" y2="142.99" stroke="#fff" stroke-width="1.3" opacity="0.37"/>
</g>
<g filter="url(#b1)" opacity="0.55">
<line x1="284" y1="330" x2="284" y2="400" stroke="#d98a8a" stroke-width="1.2" />
<line x1="290" y1="345" x2="290" y2="395" stroke="#e8b0a0" stroke-width="1.2" />
<line x1="300.5" y1="340" x2="300.5" y2="400" stroke="#f0c0b0" stroke-width="1.2" />
<line x1="310" y1="350" x2="310" y2="400" stroke="#f0c8b8" stroke-width="1.2" />
<line x1="374" y1="350" x2="374" y2="400" stroke="#eec0b0" stroke-width="1.2" />
<line x1="190" y1="150" x2="190" y2="260" stroke="#f4d9c0" stroke-width="1.2" />
<line x1="212" y1="150" x2="212" y2="240" stroke="#f4d9c0" stroke-width="1.2" />
<line x1="165" y1="160" x2="165" y2="270" stroke="#f6e2cf" stroke-width="1.2" />
<line x1="130" y1="268" x2="200" y2="268" stroke="#e7a7a0" stroke-width="1.4" />
<line x1="125" y1="309" x2="185" y2="309" stroke="#e7a7a0" stroke-width="1.4" />
<line x1="290" y1="306" x2="375" y2="306" stroke="#f0c8a0" stroke-width="1.4" />
<line x1="250" y1="318" x2="370" y2="318" stroke="#f4d6a8" stroke-width="1.4" />
</g>
<g filter="url(#b2)">
<line x1="104.5" y1="414.5" x2="390.5" y2="130.1" stroke="#f9a01b" stroke-width="54" opacity="0.5"/>
<line x1="104.5" y1="414.5" x2="390.5" y2="130.1" stroke="#f2641f" stroke-width="40" opacity="0.85"/>
<line x1="104.5" y1="414.5" x2="390.5" y2="130.1" stroke="#e3271c" stroke-width="31"/>
<rect x="110" y="377.16" width="32" height="32" fill="#e3271c" />
<rect x="192" y="297.59" width="30" height="30" fill="#e3271c" />
<rect x="208" y="283.67" width="28" height="28" fill="#e3271c" />
<rect x="239" y="254.82" width="26" height="26" fill="#e3271c" />
</g>
<g filter="url(#b15)">
<line x1="104.5" y1="414.5" x2="390.5" y2="130.1" stroke="#3a1115" stroke-width="21"/>
<rect x="111.5" y="382.65" width="25" height="25" fill="#3a1115" />
<rect x="140.5" y="359.79" width="19" height="19" fill="#3a1115" />
<rect x="195" y="300.59" width="24" height="24" fill="#3a1115" />
<rect x="211" y="286.67" width="22" height="22" fill="#3a1115" />
<rect x="242" y="257.82" width="20" height="20" fill="#3a1115" />
<rect x="290.5" y="210.58" width="19" height="19" fill="#3a1115" />
</g>
<line x1="114.5" y1="404.6" x2="380.5" y2="140" stroke="#8a6a66" stroke-width="0.8" opacity="0.25"/>
<rect x="339.4" y="139" width="7" height="270" fill="#fff" />
<rect x="112" y="173.6" width="272" height="7.2" fill="#fff" />
<line x1="336.5" y1="183.5" x2="349.5" y2="170.5" stroke="#b9b9b9" stroke-width="1.2" />
</g>
<text x="114.2" y="446.7" font-size="13.8" textLength="149.8" lengthAdjust="spacing">chr11:68.0−71.5 mbp</text>
<line x1="427.3" y1="118" x2="427.3" y2="139" stroke="#222" stroke-width="1" stroke-dasharray="3.8 1.9" />
<line x1="427.3" y1="403" x2="427.3" y2="425.5" stroke="#222" stroke-width="1" stroke-dasharray="3.8 1.9" />
<rect x="418.3" y="138.9" width="17.9" height="263.9" fill="#3ab54a" stroke="#12210f" stroke-width="1.3" />
<text x="403.5" y="221.5" font-size="14.5" font-family='"Liberation Serif", "DejaVu Serif", serif'>γ</text>
<text x="402.8" y="288" font-size="14.5" font-family='"Liberation Serif", "DejaVu Serif", serif'>β</text>
<text x="402.6" y="346" font-size="14.5" font-family='"Liberation Serif", "DejaVu Serif", serif'>α</text>
<g filter="url(#b05)">
<rect x="438.5" y="141" width="4.8" height="263" fill="#bfe0f4" />
<rect x="438.5" y="141" width="4.8" height="0.8" fill="#4aa4da" />
<rect x="438.5" y="141.8" width="4.8" height="2.2" fill="#2a8ac6" />
<rect x="438.5" y="144" width="4.8" height="1.2" fill="#e4f2fb" />
<rect x="438.5" y="145.2" width="4.8" height="3" fill="#4aa4da" />
<rect x="438.5" y="148.2" width="4.8" height="1.2" fill="#2a8ac6" />
<rect x="438.5" y="149.4" width="4.8" height="0.8" fill="#e4f2fb" />
<rect x="438.5" y="150.2" width="4.8" height="1.2" fill="#2a8ac6" />
<rect x="438.5" y="151.4" width="4.8" height="2.2" fill="#3a9ad4" />
<rect x="438.5" y="153.6" width="4.8" height="3" fill="#2a8ac6" />
<rect x="438.5" y="156.6" width="4.8" height="2.2" fill="#3a9ad4" />
<rect x="438.5" y="158.8" width="4.8" height="1.6" fill="#1f7cb8" />
<rect x="438.5" y="160.4" width="4.8" height="1.2" fill="#3a9ad4" />
<rect x="438.5" y="161.6" width="4.8" height="2.2" fill="#1f7cb8" />
<rect x="438.5" y="163.8" width="4.8" height="0.8" fill="#e4f2fb" />
<rect x="438.5" y="164.6" width="4.8" height="1.2" fill="#3a9ad4" />
<rect x="438.5" y="165.8" width="4.8" height="1.2" fill="#e4f2fb" />
<rect x="438.5" y="167" width="4.8" height="2.2" fill="#2a8ac6" />
<rect x="438.5" y="169.2" width="4.8" height="3" fill="#e4f2fb" />
<rect x="438.5" y="172.2" width="4.8" height="1.2" fill="#7fc3ea" />
<rect x="438.5" y="173.4" width="4.8" height="1.6" fill="#2a8ac6" />
<rect x="438.5" y="175" width="4.8" height="1.2" fill="#5aaee0" />
<rect x="438.5" y="176.2" width="4.8" height="1.6" fill="#1f7cb8" />
<rect x="438.5" y="177.8" width="4.8" height="2.2" fill="#2a8ac6" />
<rect x="438.5" y="180" width="4.8" height="1.6" fill="#e4f2fb" />
<rect x="438.5" y="181.6" width="4.8" height="0.8" fill="#e4f2fb" />
<rect x="438.5" y="182.4" width="4.8" height="1.6" fill="#e4f2fb" />
<rect x="438.5" y="184" width="4.8" height="3" fill="#1f7cb8" />
<rect x="438.5" y="187" width="4.8" height="1.6" fill="#3a9ad4" />
<rect x="438.5" y="188.6" width="4.8" height="0.8" fill="#e4f2fb" />
<rect x="438.5" y="189.4" width="4.8" height="3" fill="#2a8ac6" />
<rect x="438.5" y="192.4" width="4.8" height="2.2" fill="#5aaee0" />
<rect x="438.5" y="194.6" width="4.8" height="1.2" fill="#3a9ad4" />
<rect x="438.5" y="195.8" width="4.8" height="1.6" fill="#4aa4da" />
<rect x="438.5" y="197.4" width="4.8" height="0.8" fill="#2a8ac6" />
<rect x="438.5" y="198.2" width="4.8" height="1.6" fill="#2a8ac6" />
<rect x="438.5" y="199.8" width="4.8" height="0.8" fill="#e4f2fb" />
<rect x="438.5" y="200.6" width="4.8" height="1.2" fill="#2a8ac6" />
<rect x="438.5" y="201.8" width="4.8" height="1.2" fill="#7fc3ea" />
<rect x="438.5" y="203" width="4.8" height="3" fill="#e4f2fb" />
<rect x="438.5" y="206" width="4.8" height="1.6" fill="#e4f2fb" />
<rect x="438.5" y="207.6" width="4.8" height="3" fill="#1f7cb8" />
<rect x="438.5" y="210.6" width="4.8" height="0.8" fill="#e4f2fb" />
<rect x="438.5" y="211.4" width="4.8" height="2.2" fill="#2a8ac6" />
<rect x="438.5" y="213.6" width="4.8" height="3" fill="#e4f2fb" />
<rect x="438.5" y="216.6" width="4.8" height="0.8" fill="#4aa4da" />
<rect x="438.5" y="217.4" width="4.8" height="2.2" fill="#2a8ac6" />
<rect x="438.5" y="219.6" width="4.8" height="0.8" fill="#5aaee0" />
<rect x="438.5" y="220.4" width="4.8" height="2.2" fill="#2a8ac6" />
<rect x="438.5" y="222.6" width="4.8" height="1.2" fill="#4aa4da" />
<rect x="438.5" y="223.8" width="4.8" height="3" fill="#1f7cb8" />
<rect x="438.5" y="226.8" width="4.8" height="1.2" fill="#e4f2fb" />
<rect x="438.5" y="228" width="4.8" height="1.6" fill="#e4f2fb" />
<rect x="438.5" y="229.6" width="4.8" height="3" fill="#2a8ac6" />
<rect x="438.5" y="232.6" width="4.8" height="3" fill="#4aa4da" />
<rect x="438.5" y="235.6" width="4.8" height="3" fill="#1f7cb8" />
<rect x="438.5" y="238.6" width="4.8" height="1.2" fill="#e4f2fb" />
<rect x="438.5" y="239.8" width="4.8" height="2.2" fill="#4aa4da" />
<rect x="438.5" y="242" width="4.8" height="2.2" fill="#5aaee0" />
<rect x="438.5" y="244.2" width="4.8" height="0.8" fill="#5aaee0" />
<rect x="438.5" y="245" width="4.8" height="1.2" fill="#e4f2fb" />
<rect x="438.5" y="246.2" width="4.8" height="2.2" fill="#3a9ad4" />
<rect x="438.5" y="248.4" width="4.8" height="0.8" fill="#e4f2fb" />
<rect x="438.5" y="249.2" width="4.8" height="0.8" fill="#e4f2fb" />
<rect x="438.5" y="250" width="4.8" height="1.2" fill="#7fc3ea" />
<rect x="438.5" y="251.2" width="4.8" height="1.6" fill="#2a8ac6" />
<rect x="438.5" y="252.8" width="4.8" height="1.6" fill="#3a9ad4" />
<rect x="438.5" y="254.4" width="4.8" height="1.6" fill="#e4f2fb" />
<rect x="438.5" y="256" width="4.8" height="0.8" fill="#1f7cb8" />
<rect x="438.5" y="256.8" width="4.8" height="1.6" fill="#3a9ad4" />
<rect x="438.5" y="258.4" width="4.8" height="2.2" fill="#e4f2fb" />
<rect x="438.5" y="260.6" width="4.8" height="1.6" fill="#2a8ac6" />
<rect x="438.5" y="262.2" width="4.8" height="2.2" fill="#3a9ad4" />
<rect x="438.5" y="264.4" width="4.8" height="1.2" fill="#5aaee0" />
<rect x="438.5" y="265.6" width="4.8" height="1.6" fill="#e4f2fb" />
<rect x="438.5" y="267.2" width="4.8" height="1.6" fill="#3a9ad4" />
<rect x="438.5" y="268.8" width="4.8" height="0.8" fill="#e4f2fb" />
<rect x="438.5" y="269.6" width="4.8" height="3" fill="#e4f2fb" />
<rect x="438.5" y="272.6" width="4.8" height="2.2" fill="#2a8ac6" />
<rect x="438.5" y="274.8" width="4.8" height="1.6" fill="#7fc3ea" />
<rect x="438.5" y="276.4" width="4.8" height="0.8" fill="#3a9ad4" />
<rect x="438.5" y="277.2" width="4.8" height="1.6" fill="#e4f2fb" />
<rect x="438.5" y="278.8" width="4.8" height="0.8" fill="#e4f2fb" />
<rect x="438.5" y="279.6" width="4.8" height="1.6" fill="#4aa4da" />
<rect x="438.5" y="281.2" width="4.8" height="1.6" fill="#3a9ad4" />
<rect x="438.5" y="282.8" width="4.8" height="3" fill="#4aa4da" />
<rect x="438.5" y="285.8" width="4.8" height="1.2" fill="#3a9ad4" />
<rect x="438.5" y="287" width="4.8" height="3" fill="#e4f2fb" />
<rect x="438.5" y="290" width="4.8" height="0.8" fill="#e4f2fb" />
<rect x="438.5" y="290.8" width="4.8" height="1.2" fill="#1f7cb8" />
<rect x="438.5" y="292" width="4.8" height="2.2" fill="#e4f2fb" />
<rect x="438.5" y="294.2" width="4.8" height="2.2" fill="#4aa4da" />
<rect x="438.5" y="296.4" width="4.8" height="1.6" fill="#7fc3ea" />
<rect x="438.5" y="298" width="4.8" height="2.2" fill="#e4f2fb" />
<rect x="438.5" y="300.2" width="4.8" height="3" fill="#e4f2fb" />
<rect x="438.5" y="303.2" width="4.8" height="2.2" fill="#1f7cb8" />
<rect x="438.5" y="305.4" width="4.8" height="1.2" fill="#e4f2fb" />
<rect x="438.5" y="306.6" width="4.8" height="1.2" fill="#7fc3ea" />
<rect x="438.5" y="307.8" width="4.8" height="1.6" fill="#2a8ac6" />
<rect x="438.5" y="309.4" width="4.8" height="3" fill="#3a9ad4" />
<rect x="438.5" y="312.4" width="4.8" height="2.2" fill="#e4f2fb" />
<rect x="438.5" y="314.6" width="4.8" height="2.2" fill="#2a8ac6" />
<rect x="438.5" y="316.8" width="4.8" height="1.6" fill="#2a8ac6" />
<rect x="438.5" y="318.4" width="4.8" height="2.2" fill="#4aa4da" />
<rect x="438.5" y="320.6" width="4.8" height="2.2" fill="#2a8ac6" />
<rect x="438.5" y="322.8" width="4.8" height="0.8" fill="#7fc3ea" />
<rect x="438.5" y="323.6" width="4.8" height="2.2" fill="#4aa4da" />
<rect x="438.5" y="325.8" width="4.8" height="2.2" fill="#e4f2fb" />
<rect x="438.5" y="328" width="4.8" height="0.8" fill="#e4f2fb" />
<rect x="438.5" y="328.8" width="4.8" height="1.6" fill="#2a8ac6" />
<rect x="438.5" y="330.4" width="4.8" height="2.2" fill="#e4f2fb" />
<rect x="438.5" y="332.6" width="4.8" height="0.8" fill="#e4f2fb" />
<rect x="438.5" y="333.4" width="4.8" height="2.2" fill="#e4f2fb" />
<rect x="438.5" y="335.6" width="4.8" height="1.6" fill="#3a9ad4" />
<rect x="438.5" y="337.2" width="4.8" height="2.2" fill="#2a8ac6" />
<rect x="438.5" y="339.4" width="4.8" height="2.2" fill="#2a8ac6" />
<rect x="438.5" y="341.6" width="4.8" height="2.2" fill="#7fc3ea" />
<rect x="438.5" y="343.8" width="4.8" height="1.2" fill="#e4f2fb" />
<rect x="438.5" y="345" width="4.8" height="3" fill="#e4f2fb" />
<rect x="438.5" y="348" width="4.8" height="2.2" fill="#5aaee0" />
<rect x="438.5" y="350.2" width="4.8" height="0.8" fill="#3a9ad4" />
<rect x="438.5" y="351" width="4.8" height="3" fill="#2a8ac6" />
<rect x="438.5" y="354" width="4.8" height="1.2" fill="#7fc3ea" />
<rect x="438.5" y="355.2" width="4.8" height="2.2" fill="#5aaee0" />
<rect x="438.5" y="357.4" width="4.8" height="1.6" fill="#e4f2fb" />
<rect x="438.5" y="359" width="4.8" height="2.2" fill="#e4f2fb" />
<rect x="438.5" y="361.2" width="4.8" height="1.6" fill="#4aa4da" />
<rect x="438.5" y="362.8" width="4.8" height="2.2" fill="#3a9ad4" />
<rect x="438.5" y="365" width="4.8" height="1.2" fill="#e4f2fb" />
<rect x="438.5" y="366.2" width="4.8" height="1.2" fill="#4aa4da" />
<rect x="438.5" y="367.4" width="4.8" height="0.8" fill="#e4f2fb" />
<rect x="438.5" y="368.2" width="4.8" height="1.6" fill="#4aa4da" />
<rect x="438.5" y="369.8" width="4.8" height="2.2" fill="#2a8ac6" />
<rect x="438.5" y="372" width="4.8" height="3" fill="#4aa4da" />
<rect x="438.5" y="375" width="4.8" height="3" fill="#e4f2fb" />
<rect x="438.5" y="378" width="4.8" height="2.2" fill="#2a8ac6" />
<rect x="438.5" y="380.2" width="4.8" height="2.2" fill="#2a8ac6" />
<rect x="438.5" y="382.4" width="4.8" height="1.6" fill="#5aaee0" />
<rect x="438.5" y="384" width="4.8" height="1.6" fill="#4aa4da" />
<rect x="438.5" y="385.6" width="4.8" height="1.6" fill="#2a8ac6" />
<rect x="438.5" y="387.2" width="4.8" height="3" fill="#e4f2fb" />
<rect x="438.5" y="390.2" width="4.8" height="1.2" fill="#1f7cb8" />
<rect x="438.5" y="391.4" width="4.8" height="3" fill="#e4f2fb" />
<rect x="438.5" y="394.4" width="4.8" height="1.6" fill="#5aaee0" />
<rect x="438.5" y="396" width="4.8" height="2.2" fill="#1f7cb8" />
<rect x="438.5" y="398.2" width="4.8" height="1.6" fill="#e4f2fb" />
<rect x="438.5" y="399.8" width="4.8" height="1.6" fill="#e4f2fb" />
<rect x="438.5" y="401.4" width="4.8" height="2.6" fill="#2a8ac6" />
</g>
<polygon points="443.3,141 450.72,141 450.72,142 450.71,142 450.71,143.5 450.29,143.5 450.29,144.5 450.35,144.5 450.35,145.5 458.3,145.5 458.3,148 465.3,148 465.3,149.5 450.91,149.5 450.91,151 460.3,151 460.3,152.5 451.92,152.5 451.92,153.5 451.78,153.5 451.78,155 451.91,155 451.91,156 451.45,156 451.45,158.5 451.54,158.5 451.54,160 451.7,160 451.7,162 451.91,162 451.91,163 450.9,163 450.9,165 452.42,165 452.42,167 450.59,167 450.59,168.5 451.46,168.5 451.46,169.5 450.38,169.5 450.38,171.5 449.31,171.5 449.31,174 448.13,174 448.13,176.5 449.21,176.5 449.21,178.5 449.5,178.5 449.5,180 448.84,180 448.84,181.5 448.11,181.5 448.11,183.5 448.36,183.5 448.36,185 447.49,185 447.49,187 447.49,187 447.49,188 447.71,188 447.71,189 448.38,189 448.38,191 448.27,191 448.27,192.5 448.11,192.5 448.11,194.5 447.11,194.5 447.11,196.5 446.82,196.5 446.82,198 446.82,198 446.82,200 446.82,200 446.82,202.5 452.62,202.5 452.62,204 448.16,204 448.16,205.5 447.49,205.5 447.49,208 448.58,208 448.58,209.5 452.76,209.5 452.76,211 447.68,211 447.68,212 452.2,212 452.2,214 446.83,214 446.83,215 452.61,215 452.61,217 451.93,217 451.93,218.5 448.58,218.5 448.58,219.5 448.26,219.5 448.26,221.5 447.51,221.5 447.51,223.5 446.82,223.5 446.82,225.5 447.42,225.5 447.42,226.5 447.86,226.5 447.86,227.5 447.57,227.5 447.57,229 447.44,229 447.44,230.5 446.97,230.5 446.97,232 452.37,232 452.37,233.5 448.14,233.5 448.14,235.5 448.08,235.5 448.08,237 446.95,237 446.95,238 460.3,238 460.3,240.5 446.82,240.5 446.82,242.5 446.82,242.5 446.82,244 462.3,244 462.3,245.5 446.82,245.5 446.82,247 446.82,247 446.82,248 461.3,248 461.3,250.5 447.04,250.5 447.04,253 448.07,253 448.07,255.5 460.3,255.5 460.3,257 449.99,257 449.99,258 450.68,258 450.68,259.5 451.08,259.5 451.08,260.5 451.92,260.5 451.92,261.5 461.3,261.5 461.3,263.5 450.37,263.5 450.37,266 450.81,266 450.81,267 449.8,267 449.8,268 450.93,268 450.93,270 457.3,270 457.3,271.5 450.8,271.5 450.8,272.5 450.57,272.5 450.57,274 451.11,274 451.11,275 450.33,275 450.33,276.5 451.51,276.5 451.51,279 451.37,279 451.37,280.5 450.45,280.5 450.45,281.5 450.05,281.5 450.05,283.5 463.3,283.5 463.3,285 459.3,285 459.3,287.5 450.61,287.5 450.61,290 449.94,290 449.94,292.5 450.09,292.5 450.09,293.5 449.71,293.5 449.71,295 449.07,295 449.07,296 450.06,296 450.06,297 449.93,297 449.93,298 451.06,298 451.06,299 451.7,299 451.7,300 450.66,300 450.66,301.5 451.14,301.5 451.14,302.5 451.94,302.5 451.94,303.5 451.94,303.5 451.94,305.5 451.83,305.5 451.83,307.5 451.94,307.5 451.94,310 451.94,310 451.94,312 451.94,312 451.94,314 451.1,314 451.1,316.5 451.4,316.5 451.4,318 452.75,318 452.75,320.5 450.29,320.5 450.29,321.5 449.74,321.5 449.74,322.5 449.46,322.5 449.46,324 449.15,324 449.15,326.5 450.33,326.5 450.33,327.5 451.4,327.5 451.4,330 456.3,330 456.3,332.5 450.77,332.5 450.77,335 450.05,335 450.05,337.5 450.43,337.5 450.43,339.5 449.41,339.5 449.41,340.5 450.52,340.5 450.52,341.5 450.75,341.5 450.75,343 451.49,343 451.49,344 451.73,344 451.73,345 450.86,345 450.86,346 452.41,346 452.41,348 452.66,348 452.66,349.5 450.94,349.5 450.94,352 455.3,352 455.3,354.5 451.94,354.5 451.94,356.5 451.78,356.5 451.78,357.5 452.78,357.5 452.78,360 451.83,360 451.83,361 451.34,361 451.34,363 452.56,363 452.56,364 451.94,364 451.94,366.5 451.87,366.5 451.87,369 451.26,369 451.26,371.5 451.28,371.5 451.28,373.5 452.75,373.5 452.75,375 450.62,375 450.62,376.5 451.61,376.5 451.61,378.5 451.94,378.5 451.94,380 451.94,380 451.94,381.5 450.82,381.5 450.82,383 451.76,383 451.76,384 451.9,384 451.9,386 457.3,386 457.3,388 453.13,388 453.13,390.5 451.94,390.5 451.94,391.5 451.32,391.5 451.32,394 451.47,394 451.47,396 451.52,396 451.52,398 451.94,398 451.94,399.5 451.94,399.5 451.94,401.5 451.11,401.5 451.11,403.5 451.01,403.5 451.01,404 443.3,404" fill="#a9d062" filter="url(#b05)"/>
<polygon points="463,422.6 463,415.76 464.5,415.76 464.5,415.81 466.5,415.81 466.5,414.56 468,414.56 468,413.83 470,413.83 470,414.39 472.5,414.39 472.5,409.6 473.5,409.6 473.5,413.87 476,413.87 476,413.83 478.5,413.83 478.5,410.6 480.5,410.6 480.5,413.83 481.5,413.83 481.5,413.83 483.5,413.83 483.5,413.83 484.5,413.83 484.5,409.6 486.5,409.6 486.5,415.11 488.5,415.11 488.5,414.97 490.5,414.97 490.5,413.98 491.5,413.98 491.5,415.11 492.5,415.11 492.5,416.41 494.5,416.41 494.5,417.18 496.5,417.18 496.5,417.29 499,417.29 499,417.06 501,417.06 501,412.8 503,412.8 503,418.1 505,418.1 505,416.97 506,416.97 506,416 508,416 508,414.93 509.5,414.93 509.5,416.15 512,416.15 512,416.24 514,416.24 514,416.87 516.5,416.87 516.5,417.16 519,417.16 519,416.37 521,416.37 521,415.18 522,415.18 522,414.86 524,414.86 524,414.18 525.5,414.18 525.5,407.6 528,407.6 528,413.83 530,413.83 530,413.83 531,413.83 531,414.53 532,414.53 532,410.6 534,410.6 534,414.61 535,414.61 535,415.74 536,415.74 536,415.55 537,415.55 537,416.83 539,416.83 539,418.07 541.5,418.07 541.5,418.18 543,418.18 543,417.43 544.5,417.43 544.5,417.86 545.5,417.86 545.5,408.6 548,408.6 548,416.11 549,416.11 549,415.8 551,415.8 551,415.23 552.5,415.23 552.5,409.6 555,409.6 555,414.28 556.5,414.28 556.5,414.91 558,414.91 558,415.86 559.5,415.86 559.5,415.96 562,415.96 562,413.62 563.5,413.62 563.5,417.6 565,417.6 565,417.3 567,417.3 567,417.44 569.5,417.44 569.5,416.25 571.5,416.25 571.5,416.8 572.5,416.8 572.5,417.21 573.5,417.21 573.5,416.83 575,416.83 575,409.6 577,409.6 577,417.05 578.5,417.05 578.5,416.3 580,416.3 580,415.4 581,415.4 581,408.6 582.5,408.6 582.5,409.6 584.5,409.6 584.5,414.67 586.5,414.67 586.5,413.89 589,413.89 589,407.6 591.5,407.6 591.5,414.71 594,414.71 594,415.74 595,415.74 595,415.8 597,415.8 597,416.76 599.5,416.76 599.5,415.6 601,415.6 601,414.52 602.5,414.52 602.5,413.83 603.5,413.83 603.5,413.83 604.5,413.83 604.5,415.12 607,415.12 607,422.3 609.5,422.3 609.5,422.3 611.5,422.3 611.5,422.3 614,422.3 614,422.3 615.5,422.3 615.5,422.3 618,422.3 618,422.3 620,422.3 620,422.3 621.5,422.3 621.5,422.3 623.5,422.3 623.5,422.3 625.5,422.3 625.5,422.3 626.5,422.3 626.5,422.3 628.5,422.3 628.5,422.3 630.5,422.3 630.5,422.3 631.5,422.3 631.5,422.3 633,422.3 633,422.3 634,422.3 634,422.3 636,422.3 636,422.3 638,422.3 638,422.3 639,422.3 639,422.3 641.5,422.3 641.5,414.28 643.5,414.28 643.5,414.46 645.5,414.46 645.5,414.75 647,414.75 647,415.71 649,415.71 649,416.09 651,416.09 651,416.55 653,416.55 653,417.44 655,417.44 655,417.35 657.5,417.35 657.5,418.17 659.5,418.17 659.5,417.76 662,417.76 662,416.55 663.5,416.55 663.5,416.73 665,416.73 665,411.9 667.5,411.9 667.5,416.95 669,416.95 669,415.74 671,415.74 671,416.59 673,416.59 673,414.05 674,414.05 674,416.91 675.5,416.91 675.5,416.8 678,416.8 678,416.52 680.5,416.52 680.5,422.6" fill="#a9d062" filter="url(#b05)"/>
<polygon points="604,422.6 604,417.5 612,419.5 625,421 640,420 650,417 660,416 670,415 680.5,414 680.5,422.6" fill="#a9d062"/>
<g filter="url(#b05)">
<rect x="462" y="422.6" width="218.5" height="5.4" fill="#bfe0f4" />
<rect x="462" y="422.6" width="3" height="5.4" fill="#2a8ac6" />
<rect x="465" y="422.6" width="1.2" height="5.4" fill="#e4f2fb" />
<rect x="466.2" y="422.6" width="2.2" height="5.4" fill="#2a8ac6" />
<rect x="468.4" y="422.6" width="2.2" height="5.4" fill="#e4f2fb" />
<rect x="470.6" y="422.6" width="1.6" height="5.4" fill="#1f7cb8" />
<rect x="472.2" y="422.6" width="1.2" height="5.4" fill="#5aaee0" />
<rect x="473.4" y="422.6" width="3" height="5.4" fill="#3a9ad4" />
<rect x="476.4" y="422.6" width="3" height="5.4" fill="#2a8ac6" />
<rect x="479.4" y="422.6" width="1.6" height="5.4" fill="#1f7cb8" />
<rect x="481" y="422.6" width="0.8" height="5.4" fill="#e4f2fb" />
<rect x="481.8" y="422.6" width="1.2" height="5.4" fill="#2a8ac6" />
<rect x="483" y="422.6" width="1.6" height="5.4" fill="#5aaee0" />
<rect x="484.6" y="422.6" width="1.2" height="5.4" fill="#1f7cb8" />
<rect x="485.8" y="422.6" width="1.2" height="5.4" fill="#1f7cb8" />
<rect x="487" y="422.6" width="2.2" height="5.4" fill="#3a9ad4" />
<rect x="489.2" y="422.6" width="1.2" height="5.4" fill="#e4f2fb" />
<rect x="490.4" y="422.6" width="0.8" height="5.4" fill="#2a8ac6" />
<rect x="491.2" y="422.6" width="0.8" height="5.4" fill="#e4f2fb" />
<rect x="492" y="422.6" width="1.6" height="5.4" fill="#1f7cb8" />
<rect x="493.6" y="422.6" width="1.6" height="5.4" fill="#e4f2fb" />
<rect x="495.2" y="422.6" width="1.2" height="5.4" fill="#e4f2fb" />
<rect x="496.4" y="422.6" width="2.2" height="5.4" fill="#e4f2fb" />
<rect x="498.6" y="422.6" width="1.6" height="5.4" fill="#2a8ac6" />
<rect x="500.2" y="422.6" width="3" height="5.4" fill="#e4f2fb" />
<rect x="503.2" y="422.6" width="2.2" height="5.4" fill="#7fc3ea" />
<rect x="505.4" y="422.6" width="1.6" height="5.4" fill="#5aaee0" />
<rect x="507" y="422.6" width="1.2" height="5.4" fill="#5aaee0" />
<rect x="508.2" y="422.6" width="1.6" height="5.4" fill="#5aaee0" />
<rect x="509.8" y="422.6" width="3" height="5.4" fill="#1f7cb8" />
<rect x="512.8" y="422.6" width="1.6" height="5.4" fill="#3a9ad4" />
<rect x="514.4" y="422.6" width="2.2" height="5.4" fill="#e4f2fb" />
<rect x="516.6" y="422.6" width="1.6" height="5.4" fill="#e4f2fb" />
<rect x="518.2" y="422.6" width="1.6" height="5.4" fill="#e4f2fb" />
<rect x="519.8" y="422.6" width="3" height="5.4" fill="#e4f2fb" />
<rect x="522.8" y="422.6" width="2.2" height="5.4" fill="#2a8ac6" />
<rect x="525" y="422.6" width="0.8" height="5.4" fill="#5aaee0" />
<rect x="525.8" y="422.6" width="1.2" height="5.4" fill="#e4f2fb" />
<rect x="527" y="422.6" width="2.2" height="5.4" fill="#5aaee0" />
<rect x="529.2" y="422.6" width="1.6" height="5.4" fill="#2a8ac6" />
<rect x="530.8" y="422.6" width="3" height="5.4" fill="#1f7cb8" />
<rect x="533.8" y="422.6" width="3" height="5.4" fill="#e4f2fb" />
<rect x="536.8" y="422.6" width="1.2" height="5.4" fill="#1f7cb8" />
<rect x="538" y="422.6" width="1.6" height="5.4" fill="#e4f2fb" />
<rect x="539.6" y="422.6" width="3" height="5.4" fill="#3a9ad4" />
<rect x="542.6" y="422.6" width="1.6" height="5.4" fill="#4aa4da" />
<rect x="544.2" y="422.6" width="1.2" height="5.4" fill="#3a9ad4" />
<rect x="545.4" y="422.6" width="1.6" height="5.4" fill="#e4f2fb" />
<rect x="547" y="422.6" width="2.2" height="5.4" fill="#e4f2fb" />
<rect x="549.2" y="422.6" width="1.2" height="5.4" fill="#5aaee0" />
<rect x="550.4" y="422.6" width="3" height="5.4" fill="#3a9ad4" />
<rect x="553.4" y="422.6" width="1.6" height="5.4" fill="#e4f2fb" />
<rect x="555" y="422.6" width="2.2" height="5.4" fill="#e4f2fb" />
<rect x="557.2" y="422.6" width="3" height="5.4" fill="#e4f2fb" />
<rect x="560.2" y="422.6" width="3" height="5.4" fill="#7fc3ea" />
<rect x="563.2" y="422.6" width="0.8" height="5.4" fill="#7fc3ea" />
<rect x="564" y="422.6" width="3" height="5.4" fill="#7fc3ea" />
<rect x="567" y="422.6" width="1.2" height="5.4" fill="#7fc3ea" />
<rect x="568.2" y="422.6" width="2.2" height="5.4" fill="#e4f2fb" />
<rect x="570.4" y="422.6" width="1.6" height="5.4" fill="#e4f2fb" />
<rect x="572" y="422.6" width="1.2" height="5.4" fill="#e4f2fb" />
<rect x="573.2" y="422.6" width="2.2" height="5.4" fill="#7fc3ea" />
<rect x="575.4" y="422.6" width="3" height="5.4" fill="#e4f2fb" />
<rect x="578.4" y="422.6" width="1.6" height="5.4" fill="#5aaee0" />
<rect x="580" y="422.6" width="3" height="5.4" fill="#2a8ac6" />
<rect x="583" y="422.6" width="1.2" height="5.4" fill="#1f7cb8" />
<rect x="584.2" y="422.6" width="1.6" height="5.4" fill="#e4f2fb" />
<rect x="585.8" y="422.6" width="1.6" height="5.4" fill="#2a8ac6" />
<rect x="587.4" y="422.6" width="2.2" height="5.4" fill="#4aa4da" />
<rect x="589.6" y="422.6" width="3" height="5.4" fill="#1f7cb8" />
<rect x="592.6" y="422.6" width="3" height="5.4" fill="#2a8ac6" />
<rect x="595.6" y="422.6" width="1.6" height="5.4" fill="#4aa4da" />
<rect x="597.2" y="422.6" width="1.6" height="5.4" fill="#e4f2fb" />
<rect x="598.8" y="422.6" width="1.6" height="5.4" fill="#e4f2fb" />
<rect x="600.4" y="422.6" width="0.8" height="5.4" fill="#3a9ad4" />
<rect x="601.2" y="422.6" width="2.2" height="5.4" fill="#2a8ac6" />
<rect x="603.4" y="422.6" width="0.8" height="5.4" fill="#2a8ac6" />
<rect x="604.2" y="422.6" width="3" height="5.4" fill="#e4f2fb" />
<rect x="607.2" y="422.6" width="3" height="5.4" fill="#2a8ac6" />
<rect x="610.2" y="422.6" width="3" height="5.4" fill="#7fc3ea" />
<rect x="613.2" y="422.6" width="3" height="5.4" fill="#4aa4da" />
<rect x="616.2" y="422.6" width="2.2" height="5.4" fill="#2a8ac6" />
<rect x="618.4" y="422.6" width="2.2" height="5.4" fill="#4aa4da" />
<rect x="620.6" y="422.6" width="1.6" height="5.4" fill="#e4f2fb" />
<rect x="622.2" y="422.6" width="0.8" height="5.4" fill="#1f7cb8" />
<rect x="623" y="422.6" width="2.2" height="5.4" fill="#3a9ad4" />
<rect x="625.2" y="422.6" width="1.6" height="5.4" fill="#e4f2fb" />
<rect x="626.8" y="422.6" width="2.2" height="5.4" fill="#3a9ad4" />
<rect x="629" y="422.6" width="1.2" height="5.4" fill="#1f7cb8" />
<rect x="630.2" y="422.6" width="1.2" height="5.4" fill="#2a8ac6" />
<rect x="631.4" y="422.6" width="1.6" height="5.4" fill="#e4f2fb" />
<rect x="633" y="422.6" width="1.2" height="5.4" fill="#5aaee0" />
<rect x="634.2" y="422.6" width="1.6" height="5.4" fill="#e4f2fb" />
<rect x="635.8" y="422.6" width="2.2" height="5.4" fill="#e4f2fb" />
<rect x="638" y="422.6" width="3" height="5.4" fill="#e4f2fb" />
<rect x="641" y="422.6" width="3" height="5.4" fill="#1f7cb8" />
<rect x="644" y="422.6" width="3" height="5.4" fill="#e4f2fb" />
<rect x="647" y="422.6" width="1.6" height="5.4" fill="#3a9ad4" />
<rect x="648.6" y="422.6" width="0.8" height="5.4" fill="#3a9ad4" />
<rect x="649.4" y="422.6" width="1.2" height="5.4" fill="#7fc3ea" />
<rect x="650.6" y="422.6" width="2.2" height="5.4" fill="#3a9ad4" />
<rect x="652.8" y="422.6" width="3" height="5.4" fill="#4aa4da" />
<rect x="655.8" y="422.6" width="1.6" height="5.4" fill="#e4f2fb" />
<rect x="657.4" y="422.6" width="0.8" height="5.4" fill="#e4f2fb" />
<rect x="658.2" y="422.6" width="1.2" height="5.4" fill="#e4f2fb" />
<rect x="659.4" y="422.6" width="1.6" height="5.4" fill="#1f7cb8" />
<rect x="661" y="422.6" width="3" height="5.4" fill="#5aaee0" />
<rect x="664" y="422.6" width="2.2" height="5.4" fill="#7fc3ea" />
<rect x="666.2" y="422.6" width="2.2" height="5.4" fill="#e4f2fb" />
<rect x="668.4" y="422.6" width="3" height="5.4" fill="#2a8ac6" />
<rect x="671.4" y="422.6" width="2.2" height="5.4" fill="#e4f2fb" />
<rect x="673.6" y="422.6" width="3" height="5.4" fill="#e4f2fb" />
<rect x="676.6" y="422.6" width="0.8" height="5.4" fill="#e4f2fb" />
<rect x="677.4" y="422.6" width="1.2" height="5.4" fill="#e4f2fb" />
<rect x="678.6" y="422.6" width="1.9" height="5.4" fill="#e4f2fb" />
</g>
<g clip-path="url(#c2)">
<g filter="url(#b1)">
<line x1="484.7" y1="165" x2="484.7" y2="402" stroke="#c9a0b8" stroke-width="1.2" opacity="0.55"/>
<line x1="484.7" y1="180" x2="484.7" y2="215" stroke="#9b6aa0" stroke-width="1.2" opacity="0.5"/>
<line x1="478" y1="200" x2="478" y2="395" stroke="#ead0d8" stroke-width="1" opacity="0.5"/>
<line x1="527.5" y1="290" x2="527.5" y2="400" stroke="#e8c0a0" stroke-width="1.6" opacity="0.5"/>
<line x1="583" y1="150" x2="583" y2="250" stroke="#f3dfd0" stroke-width="2" opacity="0.5"/>
<line x1="520" y1="311" x2="560" y2="311" stroke="#f1d7a8" stroke-width="1.6" opacity="0.35"/>
<line x1="520" y1="322" x2="550" y2="322" stroke="#f1d7a8" stroke-width="1.6" opacity="0.35"/>
<line x1="560" y1="243" x2="600" y2="243" stroke="#f1d7a8" stroke-width="1.6" opacity="0.35"/>
<rect x="490" y="170" width="30" height="10" fill="#f6dada" opacity="0.28"/>
<rect x="490" y="182" width="22" height="8" fill="#f6dada" opacity="0.28"/>
<rect x="570" y="168" width="22" height="8" fill="#f6dada" opacity="0.2"/>
<rect x="660" y="352" width="24" height="14" fill="#f3d6ee" opacity="0.3"/>
</g>
<g filter="url(#b2)">
<rect x="581" y="260" width="23" height="22" fill="#fbb52e" opacity="0.6"/>
<rect x="574" y="246" width="28" height="12" fill="#fde9a8" opacity="0.22"/>
<rect x="590" y="263" width="14" height="19" fill="#f58a1f" opacity="0.8"/>
<rect x="596" y="270" width="8" height="12" fill="#c7341c" opacity="0.7"/>
<rect x="560" y="268" width="22" height="12" fill="#fdd572" opacity="0.6"/>
<rect x="531" y="264" width="16" height="10" fill="#fbb52e" opacity="0.8"/>
<rect x="528" y="270" width="26" height="8" fill="#fdd572" opacity="0.6"/>
<rect x="649" y="283" width="32" height="44" fill="#f9ab2a" opacity="0.8"/>
<rect x="651" y="325" width="29" height="22" fill="#fcc23c" opacity="0.7"/>
<rect x="653" y="343" width="26" height="10" fill="#fde08a" opacity="0.6"/>
<rect x="639.2" y="284" width="3.4" height="15" fill="#c7341c" opacity="0.9"/>
<rect x="639.4" y="297" width="3" height="16" fill="#f9a11f" opacity="0.55"/>
</g>
<g filter="url(#b1)">
<rect x="527.5" y="280.6" width="76.5" height="8" fill="#e1301d" />
<rect x="527.5" y="280.6" width="14" height="8" fill="#7d1517" />
<rect x="541" y="281" width="20" height="7.4" fill="#ef5a22" opacity="0.9"/>
<rect x="548" y="281.4" width="6" height="6.5" fill="#f9a11f" opacity="0.8"/>
<rect x="561" y="281" width="24" height="7.4" fill="#c42a1c" />
<rect x="583" y="280.2" width="21" height="8.6" fill="#3a1115" />
<rect x="592" y="276" width="12" height="6" fill="#5a1416" opacity="0.9"/>
<rect x="604" y="281" width="4" height="6" fill="#e1301d" opacity="0.7"/>
<rect x="639" y="281.5" width="4" height="9" fill="#5a1416" />
<rect x="648" y="281.5" width="33" height="5" fill="#ef6a22" opacity="0.9"/>
</g>
<line x1="668.69" y1="290" x2="668.69" y2="352" stroke="#fff" stroke-width="1" opacity="0.34"/>
<line x1="673.86" y1="290" x2="673.86" y2="352" stroke="#fff" stroke-width="1" opacity="0.39"/>
<line x1="672.2" y1="290" x2="672.2" y2="352" stroke="#fff" stroke-width="1" opacity="0.38"/>
<line x1="650.87" y1="290" x2="650.87" y2="352" stroke="#fff" stroke-width="1" opacity="0.27"/>
<line x1="678.3" y1="290" x2="678.3" y2="352" stroke="#fff" stroke-width="1" opacity="0.31"/>
<line x1="677.03" y1="290" x2="677.03" y2="352" stroke="#fff" stroke-width="1" opacity="0.18"/>
<line x1="664.07" y1="290" x2="664.07" y2="352" stroke="#fff" stroke-width="1" opacity="0.21"/>
<line x1="666.31" y1="290" x2="666.31" y2="352" stroke="#fff" stroke-width="1" opacity="0.29"/>
<line x1="650.39" y1="290" x2="650.39" y2="352" stroke="#fff" stroke-width="1" opacity="0.2"/>
<line x1="658.38" y1="290" x2="658.38" y2="352" stroke="#fff" stroke-width="1" opacity="0.38"/>
</g>
<line x1="91" y1="278.4" x2="400" y2="278.4" stroke="#6a6a6a" stroke-width="1" stroke-dasharray="3.8 1.9" />
<line x1="91" y1="288" x2="400" y2="288" stroke="#111" stroke-width="1" stroke-dasharray="3.8 1.9" />
<line x1="414" y1="278.4" x2="685" y2="278.4" stroke="#777" stroke-width="1" stroke-dasharray="3.8 1.9" />
<line x1="414" y1="288.2" x2="685" y2="288.2" stroke="#111" stroke-width="1" stroke-dasharray="3.8 1.9" />
<line x1="418.3" y1="280.5" x2="690" y2="280.5" stroke="#c84a68" stroke-width="1" />
<line x1="441" y1="442.3" x2="461" y2="442.3" stroke="#222" stroke-width="1" stroke-dasharray="3.8 1.9" />
<path d="M461,433.8 H672.3 a8.7,8.7 0 0 1 0,17.4 H461 Z" fill="#f7941d" stroke="#111" stroke-width="1.2"/>
<line x1="527.5" y1="140" x2="527.5" y2="475" stroke="#222" stroke-width="1" stroke-dasharray="3.8 1.9" />
<line x1="593.5" y1="141.5" x2="593.5" y2="475" stroke="#222" stroke-width="1" stroke-dasharray="3.8 1.9" />
<line x1="603.6" y1="140" x2="603.6" y2="475" stroke="#222" stroke-width="1" stroke-dasharray="3.8 1.9" />
<line x1="640.6" y1="141.5" x2="640.6" y2="475" stroke="#222" stroke-width="1" stroke-dasharray="3.8 1.9" />
<line x1="660" y1="141.5" x2="660" y2="475" stroke="#222" stroke-width="1" stroke-dasharray="3.8 1.9" />
<rect x="590" y="454.5" width="16.5" height="15" fill="#fff" />
<text x="486.8" y="469.2" font-size="13.4" font-style="italic">a</text>
<text x="556" y="469.2" font-size="13.4" font-style="italic">b</text>
<text x="582" y="469.2" font-size="13.4" font-style="italic">c</text>
<text x="596.6" y="469.2" font-size="13.4" font-style="italic">d</text>
<text x="616.4" y="469.2" font-size="13.4" font-style="italic">e</text>
<text x="631" y="469.2" font-size="13.4" font-style="italic">f</text>
<text x="542.3" y="220" font-size="13.4" textLength="36" lengthAdjust="spacing">t(r)+fa</text>
<text x="513.6" y="272.4" font-size="13" fill="#3aa657" font-style="italic">i</text>
<text x="566.3" y="270.8" font-size="13" textLength="13" lengthAdjust="spacing" fill="#2a6aa0" font-style="italic">iia</text>
<text x="608.8" y="265" font-size="13" textLength="13.4" lengthAdjust="spacing" fill="#2a6aa0" font-style="italic">iib</text>
<text x="612.7" y="299.4" font-size="13" textLength="9" lengthAdjust="spacing" fill="#c02a4a" font-style="italic">iii</text>
<line x1="520" y1="275.6" x2="533.6" y2="275.6" stroke="#f7941d" stroke-width="1.6" />
<polygon points="540.8,275.6 532.6,279.3 532.6,271.9" fill="#f7941d"/>
<line x1="589" y1="283.7" x2="573.8" y2="283.7" stroke="#f7941d" stroke-width="1.6" />
<polygon points="566.6,283.7 574.8,280 574.8,287.4" fill="#f7941d"/>
<line x1="603.5" y1="290.8" x2="566" y2="290.8" stroke="#f7941d" stroke-width="1.6" />
<polygon points="558.8,290.8 567,287.1 567,294.5" fill="#f7941d"/>
<line x1="606" y1="282.5" x2="680.7" y2="282.5" stroke="#f7941d" stroke-width="1.6" />
<polygon points="666.5,282.4 673.3,278.8 673.3,286" fill="#f7941d"/>
<line x1="519.7" y1="275" x2="519.7" y2="283.7" stroke="#3aa657" stroke-width="1.5" />
<line x1="514.2" y1="283.7" x2="525.2" y2="283.7" stroke="#3aa657" stroke-width="1.5" />
<line x1="584.3" y1="275.6" x2="593.8" y2="275.6" stroke="#3aa657" stroke-width="1.5" />
<line x1="589" y1="275.6" x2="589" y2="283.7" stroke="#3aa657" stroke-width="1.5" />
<line x1="603.5" y1="283" x2="603.5" y2="257.5" stroke="#3aa657" stroke-width="1.7" />
<polygon points="603.5,251 607.7,258.5 599.3,258.5" fill="#3aa657"/>
<line x1="606.7" y1="283" x2="606.7" y2="321.1" stroke="#3aa657" stroke-width="1.7" />
<polygon points="606.7,327.6 602.5,320.1 610.9,320.1" fill="#3aa657"/>
<text x="704.6" y="306" font-size="13.4" textLength="43.5" lengthAdjust="spacing" transform="rotate(-90 704.6 306)">CCND1</text>
<rect x="721" y="143" width="16.2" height="136.4" fill="url(#cbar)" stroke="#111" stroke-width="1" />
<text x="742.4" y="166" font-size="13.4" textLength="93" lengthAdjust="spacing" transform="rotate(90 742.4 166)">Barcode overlap</text>
<text x="725.6" y="293.2" font-size="13.4">0</text>
<text x="429" y="666.8" font-size="13.8" textLength="146" lengthAdjust="spacing" transform="rotate(-90 429 666.8)">chr14:104.0−106.9 mbp</text>
<g filter="url(#b05)">
<rect x="437.8" y="489.7" width="4.6" height="216.9" fill="#bfe0f4" />
<rect x="437.8" y="489.7" width="4.6" height="2.2" fill="#3a9ad4" />
<rect x="437.8" y="491.9" width="4.6" height="2.2" fill="#2a8ac6" />
<rect x="437.8" y="494.1" width="4.6" height="1.6" fill="#7fc3ea" />
<rect x="437.8" y="495.7" width="4.6" height="3" fill="#3a9ad4" />
<rect x="437.8" y="498.7" width="4.6" height="0.8" fill="#3a9ad4" />
<rect x="437.8" y="499.5" width="4.6" height="1.2" fill="#e4f2fb" />
<rect x="437.8" y="500.7" width="4.6" height="1.6" fill="#2a8ac6" />
<rect x="437.8" y="502.3" width="4.6" height="3" fill="#2a8ac6" />
<rect x="437.8" y="505.3" width="4.6" height="3" fill="#4aa4da" />
<rect x="437.8" y="508.3" width="4.6" height="1.6" fill="#e4f2fb" />
<rect x="437.8" y="509.9" width="4.6" height="1.2" fill="#5aaee0" />
<rect x="437.8" y="511.1" width="4.6" height="2.2" fill="#2a8ac6" />
<rect x="437.8" y="513.3" width="4.6" height="0.8" fill="#3a9ad4" />
<rect x="437.8" y="514.1" width="4.6" height="1.2" fill="#5aaee0" />
<rect x="437.8" y="515.3" width="4.6" height="1.2" fill="#1f7cb8" />
<rect x="437.8" y="516.5" width="4.6" height="3" fill="#4aa4da" />
<rect x="437.8" y="519.5" width="4.6" height="0.8" fill="#3a9ad4" />
<rect x="437.8" y="520.3" width="4.6" height="0.8" fill="#e4f2fb" />
<rect x="437.8" y="521.1" width="4.6" height="2.2" fill="#2a8ac6" />
<rect x="437.8" y="523.3" width="4.6" height="2.2" fill="#e4f2fb" />
<rect x="437.8" y="525.5" width="4.6" height="1.2" fill="#3a9ad4" />
<rect x="437.8" y="526.7" width="4.6" height="0.8" fill="#2a8ac6" />
<rect x="437.8" y="527.5" width="4.6" height="2.2" fill="#2a8ac6" />
<rect x="437.8" y="529.7" width="4.6" height="1.6" fill="#2a8ac6" />
<rect x="437.8" y="531.3" width="4.6" height="2.2" fill="#3a9ad4" />
<rect x="437.8" y="533.5" width="4.6" height="0.8" fill="#e4f2fb" />
<rect x="437.8" y="534.3" width="4.6" height="0.8" fill="#e4f2fb" />
<rect x="437.8" y="535.1" width="4.6" height="1.2" fill="#e4f2fb" />
<rect x="437.8" y="536.3" width="4.6" height="2.2" fill="#2a8ac6" />
<rect x="437.8" y="538.5" width="4.6" height="0.8" fill="#7fc3ea" />
<rect x="437.8" y="539.3" width="4.6" height="3" fill="#e4f2fb" />
<rect x="437.8" y="542.3" width="4.6" height="1.2" fill="#5aaee0" />
<rect x="437.8" y="543.5" width="4.6" height="2.2" fill="#e4f2fb" />
<rect x="437.8" y="545.7" width="4.6" height="2.2" fill="#e4f2fb" />
<rect x="437.8" y="547.9" width="4.6" height="0.8" fill="#e4f2fb" />
<rect x="437.8" y="548.7" width="4.6" height="1.6" fill="#2a8ac6" />
<rect x="437.8" y="550.3" width="4.6" height="1.2" fill="#2a8ac6" />
<rect x="437.8" y="551.5" width="4.6" height="1.6" fill="#e4f2fb" />
<rect x="437.8" y="553.1" width="4.6" height="3" fill="#5aaee0" />
<rect x="437.8" y="556.1" width="4.6" height="2.2" fill="#e4f2fb" />
<rect x="437.8" y="558.3" width="4.6" height="1.2" fill="#3a9ad4" />
<rect x="437.8" y="559.5" width="4.6" height="0.8" fill="#7fc3ea" />
<rect x="437.8" y="560.3" width="4.6" height="1.2" fill="#3a9ad4" />
<rect x="437.8" y="561.5" width="4.6" height="3" fill="#3a9ad4" />
<rect x="437.8" y="564.5" width="4.6" height="2.2" fill="#3a9ad4" />
<rect x="437.8" y="566.7" width="4.6" height="2.2" fill="#e4f2fb" />
<rect x="437.8" y="568.9" width="4.6" height="0.8" fill="#e4f2fb" />
<rect x="437.8" y="569.7" width="4.6" height="2.2" fill="#2a8ac6" />
<rect x="437.8" y="571.9" width="4.6" height="1.2" fill="#7fc3ea" />
<rect x="437.8" y="573.1" width="4.6" height="2.2" fill="#e4f2fb" />
<rect x="437.8" y="575.3" width="4.6" height="1.6" fill="#e4f2fb" />
<rect x="437.8" y="576.9" width="4.6" height="0.8" fill="#2a8ac6" />
<rect x="437.8" y="577.7" width="4.6" height="1.2" fill="#1f7cb8" />
<rect x="437.8" y="578.9" width="4.6" height="3" fill="#3a9ad4" />
<rect x="437.8" y="581.9" width="4.6" height="2.2" fill="#e4f2fb" />
<rect x="437.8" y="584.1" width="4.6" height="0.8" fill="#2a8ac6" />
<rect x="437.8" y="584.9" width="4.6" height="3" fill="#e4f2fb" />
<rect x="437.8" y="587.9" width="4.6" height="1.2" fill="#e4f2fb" />
<rect x="437.8" y="589.1" width="4.6" height="1.6" fill="#5aaee0" />
<rect x="437.8" y="590.7" width="4.6" height="2.2" fill="#4aa4da" />
<rect x="437.8" y="592.9" width="4.6" height="0.8" fill="#e4f2fb" />
<rect x="437.8" y="593.7" width="4.6" height="1.6" fill="#7fc3ea" />
<rect x="437.8" y="595.3" width="4.6" height="1.6" fill="#7fc3ea" />
<rect x="437.8" y="596.9" width="4.6" height="1.2" fill="#7fc3ea" />
<rect x="437.8" y="598.1" width="4.6" height="3" fill="#7fc3ea" />
<rect x="437.8" y="601.1" width="4.6" height="1.2" fill="#e4f2fb" />
<rect x="437.8" y="602.3" width="4.6" height="1.6" fill="#7fc3ea" />
<rect x="437.8" y="603.9" width="4.6" height="2.2" fill="#e4f2fb" />
<rect x="437.8" y="606.1" width="4.6" height="2.2" fill="#4aa4da" />
<rect x="437.8" y="608.3" width="4.6" height="3" fill="#4aa4da" />
<rect x="437.8" y="611.3" width="4.6" height="1.2" fill="#7fc3ea" />
<rect x="437.8" y="612.5" width="4.6" height="1.6" fill="#e4f2fb" />
<rect x="437.8" y="614.1" width="4.6" height="3" fill="#4aa4da" />
<rect x="437.8" y="617.1" width="4.6" height="0.8" fill="#4aa4da" />
<rect x="437.8" y="617.9" width="4.6" height="3" fill="#3a9ad4" />
<rect x="437.8" y="620.9" width="4.6" height="0.8" fill="#1f7cb8" />
<rect x="437.8" y="621.7" width="4.6" height="2.2" fill="#4aa4da" />
<rect x="437.8" y="623.9" width="4.6" height="1.6" fill="#1f7cb8" />
<rect x="437.8" y="625.5" width="4.6" height="3" fill="#e4f2fb" />
<rect x="437.8" y="628.5" width="4.6" height="2.2" fill="#e4f2fb" />
<rect x="437.8" y="630.7" width="4.6" height="0.8" fill="#1f7cb8" />
<rect x="437.8" y="631.5" width="4.6" height="3" fill="#e4f2fb" />
<rect x="437.8" y="634.5" width="4.6" height="2.2" fill="#1f7cb8" />
<rect x="437.8" y="636.7" width="4.6" height="0.8" fill="#3a9ad4" />
<rect x="437.8" y="637.5" width="4.6" height="1.6" fill="#4aa4da" />
<rect x="437.8" y="639.1" width="4.6" height="2.2" fill="#5aaee0" />
<rect x="437.8" y="641.3" width="4.6" height="0.8" fill="#4aa4da" />
<rect x="437.8" y="642.1" width="4.6" height="0.8" fill="#5aaee0" />
<rect x="437.8" y="642.9" width="4.6" height="2.2" fill="#e4f2fb" />
<rect x="437.8" y="645.1" width="4.6" height="1.6" fill="#3a9ad4" />
<rect x="437.8" y="646.7" width="4.6" height="0.8" fill="#7fc3ea" />
<rect x="437.8" y="647.5" width="4.6" height="1.6" fill="#7fc3ea" />
<rect x="437.8" y="649.1" width="4.6" height="1.2" fill="#2a8ac6" />
<rect x="437.8" y="650.3" width="4.6" height="0.8" fill="#e4f2fb" />
<rect x="437.8" y="651.1" width="4.6" height="1.6" fill="#5aaee0" />
<rect x="437.8" y="652.7" width="4.6" height="1.6" fill="#e4f2fb" />
<rect x="437.8" y="654.3" width="4.6" height="1.2" fill="#7fc3ea" />
<rect x="437.8" y="655.5" width="4.6" height="0.8" fill="#e4f2fb" />
<rect x="437.8" y="656.3" width="4.6" height="1.2" fill="#e4f2fb" />
<rect x="437.8" y="657.5" width="4.6" height="1.6" fill="#4aa4da" />
<rect x="437.8" y="659.1" width="4.6" height="1.6" fill="#3a9ad4" />
<rect x="437.8" y="660.7" width="4.6" height="2.2" fill="#e4f2fb" />
<rect x="437.8" y="662.9" width="4.6" height="2.2" fill="#5aaee0" />
<rect x="437.8" y="665.1" width="4.6" height="3" fill="#5aaee0" />
<rect x="437.8" y="668.1" width="4.6" height="3" fill="#e4f2fb" />
<rect x="437.8" y="671.1" width="4.6" height="1.2" fill="#e4f2fb" />
<rect x="437.8" y="672.3" width="4.6" height="0.8" fill="#e4f2fb" />
<rect x="437.8" y="673.1" width="4.6" height="3" fill="#4aa4da" />
<rect x="437.8" y="676.1" width="4.6" height="1.6" fill="#5aaee0" />
<rect x="437.8" y="677.7" width="4.6" height="1.6" fill="#2a8ac6" />
<rect x="437.8" y="679.3" width="4.6" height="0.8" fill="#e4f2fb" />
<rect x="437.8" y="680.1" width="4.6" height="3" fill="#7fc3ea" />
<rect x="437.8" y="683.1" width="4.6" height="3" fill="#2a8ac6" />
<rect x="437.8" y="686.1" width="4.6" height="0.8" fill="#3a9ad4" />
<rect x="437.8" y="686.9" width="4.6" height="1.6" fill="#e4f2fb" />
<rect x="437.8" y="688.5" width="4.6" height="2.2" fill="#2a8ac6" />
<rect x="437.8" y="690.7" width="4.6" height="2.2" fill="#3a9ad4" />
<rect x="437.8" y="692.9" width="4.6" height="0.8" fill="#e4f2fb" />
<rect x="437.8" y="693.7" width="4.6" height="0.8" fill="#5aaee0" />
<rect x="437.8" y="694.5" width="4.6" height="0.8" fill="#7fc3ea" />
<rect x="437.8" y="695.3" width="4.6" height="0.8" fill="#1f7cb8" />
<rect x="437.8" y="696.1" width="4.6" height="2.2" fill="#e4f2fb" />
<rect x="437.8" y="698.3" width="4.6" height="3" fill="#4aa4da" />
<rect x="437.8" y="701.3" width="4.6" height="0.8" fill="#7fc3ea" />
<rect x="437.8" y="702.1" width="4.6" height="0.8" fill="#2a8ac6" />
<rect x="437.8" y="702.9" width="4.6" height="0.8" fill="#e4f2fb" />
<rect x="437.8" y="703.7" width="4.6" height="0.8" fill="#2a8ac6" />
<rect x="437.8" y="704.5" width="4.6" height="2.1" fill="#7fc3ea" />
</g>
<polygon points="442.4,489.7 446.86,489.7 446.86,490.7 451.4,490.7 451.4,492.2 449.84,492.2 449.84,493.2 450.02,493.2 450.02,494.7 452.4,494.7 452.4,497.2 446.18,497.2 446.18,498.2 445.79,498.2 445.79,500.7 445.48,500.7 445.48,502.7 446.31,502.7 446.31,504.7 446.87,504.7 446.87,505.7 445.85,505.7 445.85,508.2 446.04,508.2 446.04,510.2 446.43,510.2 446.43,511.2 447.28,511.2 447.28,512.2 446.75,512.2 446.75,514.7 445.94,514.7 445.94,516.7 446.42,516.7 446.42,518.7 446.68,518.7 446.68,519.7 445.88,519.7 445.88,521.2 446.32,521.2 446.32,522.7 450.22,522.7 450.22,523.7 445.48,523.7 445.48,525.7 445.48,525.7 445.48,527.7 445.48,527.7 445.48,530.2 446.07,530.2 446.07,532.2 445.74,532.2 445.74,534.7 445.76,534.7 445.76,536.2 446.63,536.2 446.63,537.2 447.33,537.2 447.33,538.7 447.06,538.7 447.06,539.7 447.13,539.7 447.13,542.2 447.56,542.2 447.56,543.2 448.2,543.2 448.2,545.2 448.05,545.2 448.05,547.2 449.18,547.2 449.18,549.2 449.96,549.2 449.96,550.2 449.13,550.2 449.13,551.7 449.36,551.7 449.36,552.7 449.96,552.7 449.96,553.7 449.33,553.7 449.33,555.7 448.34,555.7 448.34,556.7 449.49,556.7 449.49,557.7 448.6,557.7 448.6,559.2 448.03,559.2 448.03,560.7 449.15,560.7 449.15,563.2 449.66,563.2 449.66,564.7 449.51,564.7 449.51,566.7 449.72,566.7 449.72,567.7 450.9,567.7 450.9,569.2 448.47,569.2 448.47,570.2 447.44,570.2 447.44,572.2 454.4,572.2 454.4,574.7 446.13,574.7 446.13,577.2 458.4,577.2 458.4,579.7 445.48,579.7 445.48,582.2 457.4,582.2 457.4,583.2 445.48,583.2 445.48,584.2 445.48,584.2 445.48,585.2 445.48,585.2 445.48,587.7 459.4,587.7 459.4,590.2 446.22,590.2 446.22,592.7 445.48,592.7 445.48,593.7 455.4,593.7 455.4,594.7 445.8,594.7 445.8,596.2 446.68,596.2 446.68,597.7 446.39,597.7 446.39,599.2 458.4,599.2 458.4,601.2 447.23,601.2 447.23,603.2 446.4,603.2 446.4,605.7 454.4,605.7 454.4,606.7 445.53,606.7 445.53,608.7 445.48,608.7 445.48,610.2 451.16,610.2 451.16,611.7 445.48,611.7 445.48,614.2 449.82,614.2 449.82,615.7 446.71,615.7 446.71,617.7 457.4,617.7 457.4,619.7 445.98,619.7 445.98,621.7 445.48,621.7 445.48,622.7 445.48,622.7 445.48,623.7 445.48,623.7 445.48,625.7 446.39,625.7 446.39,626.7 446.24,626.7 446.24,628.2 455.4,628.2 455.4,630.2 446.91,630.2 446.91,631.2 447.97,631.2 447.97,632.2 448.9,632.2 448.9,633.2 448.36,633.2 448.36,634.7 447.64,634.7 447.64,636.7 447.66,636.7 447.66,638.7 446.68,638.7 446.68,639.7 445.58,639.7 445.58,641.7 445.91,641.7 445.91,643.2 446.04,643.2 446.04,645.7 445.48,645.7 445.48,646.7 445.59,646.7 445.59,648.2 450.31,648.2 450.31,649.7 446.44,649.7 446.44,650.7 446.84,650.7 446.84,652.2 447.98,652.2 447.98,654.7 454.4,654.7 454.4,656.2 450.95,656.2 450.95,657.7 449.96,657.7 449.96,659.7 449.4,659.7 449.4,661.2 450.49,661.2 450.49,662.2 449.88,662.2 449.88,663.7 449.96,663.7 449.96,665.7 448.82,665.7 448.82,667.2 453.4,667.2 453.4,669.2 448.62,669.2 448.62,671.2 449.68,671.2 449.68,673.2 448.91,673.2 448.91,675.2 447.8,675.2 447.8,677.2 448.35,677.2 448.35,679.2 448.07,679.2 448.07,680.2 446.98,680.2 446.98,682.2 450.82,682.2 450.82,683.7 446.95,683.7 446.95,685.7 457.4,685.7 457.4,686.7 447.88,686.7 447.88,688.7 448.01,688.7 448.01,690.7 448.43,690.7 448.43,693.2 448.21,693.2 448.21,695.2 447.7,695.2 447.7,697.2 447.61,697.2 447.61,699.2 447.64,699.2 447.64,700.7 448.02,700.7 448.02,702.2 447.04,702.2 447.04,704.2 447.46,704.2 447.46,705.7 451.37,705.7 451.37,706.6 442.4,706.6" fill="#a9d062" filter="url(#b05)"/>
<polygon points="462,725.3 462,718.86 463,718.86 463,719.19 465.5,719.19 465.5,719.32 466.5,719.32 466.5,719.28 467.5,719.28 467.5,715.89 470,715.89 470,711.3 471,711.3 471,720.84 473.5,720.84 473.5,720.65 475.5,720.65 475.5,709.3 476.5,709.3 476.5,719.56 477.5,719.56 477.5,719.5 478.5,719.5 478.5,720.56 479.5,720.56 479.5,712.3 481.5,712.3 481.5,721.45 484,721.45 484,721.45 486,721.45 486,720.86 488,720.86 488,719.64 489,719.64 489,720.16 490,720.16 490,713.4 492,713.4 492,719.97 493,719.97 493,719.78 494.5,719.78 494.5,716.19 497,716.19 497,713.96 498,713.96 498,721.45 500,721.45 500,720.31 502,720.31 502,719.38 504,719.38 504,720.44 505,720.44 505,721.24 507.5,721.24 507.5,721.45 510,721.45 510,714.64 512,714.64 512,720.91 513.5,720.91 513.5,719.72 515,719.72 515,719 516.5,719 516.5,719.72 519,719.72 519,713.7 520,713.7 520,720.56 521,720.56 521,720.7 522.5,720.7 522.5,721.45 524,721.45 524,721.28 525,721.28 525,708.3 527.5,708.3 527.5,721.45 529.5,721.45 529.5,720.95 531,720.95 531,721.45 532,721.45 532,720.57 534,720.57 534,720.04 536.5,720.04 536.5,721.32 538,721.32 538,721.45 539.5,721.45 539.5,710.3 541.5,710.3 541.5,719.8 543.5,719.8 543.5,718.9 546,718.9 546,709.3 548.5,709.3 548.5,718.56 550,718.56 550,715.89 551.5,715.89 551.5,711.3 552.5,711.3 552.5,718.04 554,718.04 554,718.68 555,718.68 555,714.87 557.5,714.87 557.5,718.89 559.5,718.89 559.5,719.26 561.5,719.26 561.5,718.74 564,718.74 564,717.87 566,717.87 566,718.69 568.5,718.69 568.5,719.37 571,719.37 571,718.2 572,718.2 572,717.45 573.5,717.45 573.5,710.3 575,710.3 575,717.59 576.5,717.59 576.5,716.31 578,716.31 578,715.85 579,715.85 579,716.88 580.5,716.88 580.5,711.3 582.5,711.3 582.5,719.1 585,719.1 585,718.94 587.5,718.94 587.5,720.21 588.5,720.21 588.5,708.3 591,708.3 591,719.52 592.5,719.52 592.5,719.58 595,719.58 595,720.86 597,720.86 597,721.45 598,721.45 598,711.3 600,711.3 600,721.45 601.5,721.45 601.5,721.45 604,721.45 604,721.45 605,721.45 605,721.15 606.5,721.15 606.5,725 609,725 609,725 611,725 611,725 612.5,725 612.5,725 614,725 614,725 616,725 616,725 618.5,725 618.5,725 620,725 620,725 622.5,725 622.5,725 624,725 624,725 625.5,725 625.5,725 628,725 628,725 629,725 629,725 631.5,725 631.5,725 632.5,725 632.5,725 635,725 635,725 636,725 636,725 637,725 637,725 638,725 638,725 639,725 639,725 641,725 641,725 642,725 642,725 643,725 643,725 645,725 645,725 646,725 646,725 647,725 647,725 649,725 649,725 650,725 650,725 651,725 651,718.69 653.5,718.69 653.5,718.68 655.5,718.68 655.5,718.82 656.5,718.82 656.5,719.54 658,719.54 658,720.17 660,720.17 660,718.95 661,718.95 661,718.18 662,718.18 662,717.52 664.5,717.52 664.5,716.8 666.5,716.8 666.5,716.07 669,716.07 669,717.32 670,717.32 670,717.86 671.5,717.86 671.5,718.76 673.5,718.76 673.5,717.66 676,717.66 676,716.61 678,716.61 678,717.12 680,717.12 680,716.95 680.5,716.95 680.5,725.3" fill="#a9d062" filter="url(#b05)"/>
<polygon points="605,725.3 605,720.5 615,722.5 630,723.5 645,722 655,718.5 665,717 672,715 680.5,716 680.5,725.3" fill="#a9d062"/>
<g filter="url(#b05)">
<rect x="461" y="725.3" width="219.5" height="5.7" fill="#bfe0f4" />
<rect x="461" y="725.3" width="2.2" height="5.7" fill="#2a8ac6" />
<rect x="463.2" y="725.3" width="0.8" height="5.7" fill="#3a9ad4" />
<rect x="464" y="725.3" width="1.6" height="5.7" fill="#2a8ac6" />
<rect x="465.6" y="725.3" width="3" height="5.7" fill="#3a9ad4" />
<rect x="468.6" y="725.3" width="3" height="5.7" fill="#e4f2fb" />
<rect x="471.6" y="725.3" width="1.6" height="5.7" fill="#e4f2fb" />
<rect x="473.2" y="725.3" width="2.2" height="5.7" fill="#4aa4da" />
<rect x="475.4" y="725.3" width="1.6" height="5.7" fill="#5aaee0" />
<rect x="477" y="725.3" width="1.6" height="5.7" fill="#2a8ac6" />
<rect x="478.6" y="725.3" width="3" height="5.7" fill="#2a8ac6" />
<rect x="481.6" y="725.3" width="1.6" height="5.7" fill="#e4f2fb" />
<rect x="483.2" y="725.3" width="0.8" height="5.7" fill="#e4f2fb" />
<rect x="484" y="725.3" width="1.6" height="5.7" fill="#7fc3ea" />
<rect x="485.6" y="725.3" width="0.8" height="5.7" fill="#3a9ad4" />
<rect x="486.4" y="725.3" width="1.2" height="5.7" fill="#2a8ac6" />
<rect x="487.6" y="725.3" width="1.2" height="5.7" fill="#e4f2fb" />
<rect x="488.8" y="725.3" width="0.8" height="5.7" fill="#e4f2fb" />
<rect x="489.6" y="725.3" width="2.2" height="5.7" fill="#e4f2fb" />
<rect x="491.8" y="725.3" width="1.6" height="5.7" fill="#7fc3ea" />
<rect x="493.4" y="725.3" width="2.2" height="5.7" fill="#1f7cb8" />
<rect x="495.6" y="725.3" width="1.2" height="5.7" fill="#7fc3ea" />
<rect x="496.8" y="725.3" width="1.6" height="5.7" fill="#4aa4da" />
<rect x="498.4" y="725.3" width="0.8" height="5.7" fill="#2a8ac6" />
<rect x="499.2" y="725.3" width="1.2" height="5.7" fill="#e4f2fb" />
<rect x="500.4" y="725.3" width="3" height="5.7" fill="#e4f2fb" />
<rect x="503.4" y="725.3" width="3" height="5.7" fill="#5aaee0" />
<rect x="506.4" y="725.3" width="3" height="5.7" fill="#2a8ac6" />
<rect x="509.4" y="725.3" width="1.6" height="5.7" fill="#4aa4da" />
<rect x="511" y="725.3" width="1.2" height="5.7" fill="#2a8ac6" />
<rect x="512.2" y="725.3" width="2.2" height="5.7" fill="#e4f2fb" />
<rect x="514.4" y="725.3" width="3" height="5.7" fill="#3a9ad4" />
<rect x="517.4" y="725.3" width="1.2" height="5.7" fill="#e4f2fb" />
<rect x="518.6" y="725.3" width="0.8" height="5.7" fill="#5aaee0" />
<rect x="519.4" y="725.3" width="0.8" height="5.7" fill="#2a8ac6" />
<rect x="520.2" y="725.3" width="2.2" height="5.7" fill="#2a8ac6" />
<rect x="522.4" y="725.3" width="3" height="5.7" fill="#3a9ad4" />
<rect x="525.4" y="725.3" width="0.8" height="5.7" fill="#5aaee0" />
<rect x="526.2" y="725.3" width="0.8" height="5.7" fill="#e4f2fb" />
<rect x="527" y="725.3" width="3" height="5.7" fill="#4aa4da" />
<rect x="530" y="725.3" width="2.2" height="5.7" fill="#7fc3ea" />
<rect x="532.2" y="725.3" width="1.6" height="5.7" fill="#5aaee0" />
<rect x="533.8" y="725.3" width="3" height="5.7" fill="#e4f2fb" />
<rect x="536.8" y="725.3" width="2.2" height="5.7" fill="#5aaee0" />
<rect x="539" y="725.3" width="1.2" height="5.7" fill="#e4f2fb" />
<rect x="540.2" y="725.3" width="1.2" height="5.7" fill="#7fc3ea" />
<rect x="541.4" y="725.3" width="2.2" height="5.7" fill="#7fc3ea" />
<rect x="543.6" y="725.3" width="0.8" height="5.7" fill="#1f7cb8" />
<rect x="544.4" y="725.3" width="1.2" height="5.7" fill="#1f7cb8" />
<rect x="545.6" y="725.3" width="3" height="5.7" fill="#e4f2fb" />
<rect x="548.6" y="725.3" width="1.2" height="5.7" fill="#3a9ad4" />
<rect x="549.8" y="725.3" width="3" height="5.7" fill="#1f7cb8" />
<rect x="552.8" y="725.3" width="1.6" height="5.7" fill="#e4f2fb" />
<rect x="554.4" y="725.3" width="1.2" height="5.7" fill="#e4f2fb" />
<rect x="555.6" y="725.3" width="2.2" height="5.7" fill="#3a9ad4" />
<rect x="557.8" y="725.3" width="3" height="5.7" fill="#2a8ac6" />
<rect x="560.8" y="725.3" width="1.6" height="5.7" fill="#e4f2fb" />
<rect x="562.4" y="725.3" width="2.2" height="5.7" fill="#2a8ac6" />
<rect x="564.6" y="725.3" width="0.8" height="5.7" fill="#e4f2fb" />
<rect x="565.4" y="725.3" width="2.2" height="5.7" fill="#e4f2fb" />
<rect x="567.6" y="725.3" width="2.2" height="5.7" fill="#2a8ac6" />
<rect x="569.8" y="725.3" width="3" height="5.7" fill="#3a9ad4" />
<rect x="572.8" y="725.3" width="1.2" height="5.7" fill="#e4f2fb" />
<rect x="574" y="725.3" width="0.8" height="5.7" fill="#2a8ac6" />
<rect x="574.8" y="725.3" width="3" height="5.7" fill="#e4f2fb" />
<rect x="577.8" y="725.3" width="3" height="5.7" fill="#3a9ad4" />
<rect x="580.8" y="725.3" width="3" height="5.7" fill="#2a8ac6" />
<rect x="583.8" y="725.3" width="0.8" height="5.7" fill="#1f7cb8" />
<rect x="584.6" y="725.3" width="0.8" height="5.7" fill="#5aaee0" />
<rect x="585.4" y="725.3" width="2.2" height="5.7" fill="#4aa4da" />
<rect x="587.6" y="725.3" width="1.2" height="5.7" fill="#e4f2fb" />
<rect x="588.8" y="725.3" width="0.8" height="5.7" fill="#1f7cb8" />
<rect x="589.6" y="725.3" width="1.6" height="5.7" fill="#e4f2fb" />
<rect x="591.2" y="725.3" width="3" height="5.7" fill="#e4f2fb" />
<rect x="594.2" y="725.3" width="0.8" height="5.7" fill="#3a9ad4" />
<rect x="595" y="725.3" width="0.8" height="5.7" fill="#3a9ad4" />
<rect x="595.8" y="725.3" width="0.8" height="5.7" fill="#2a8ac6" />
<rect x="596.6" y="725.3" width="1.2" height="5.7" fill="#e4f2fb" />
<rect x="597.8" y="725.3" width="1.6" height="5.7" fill="#e4f2fb" />
<rect x="599.4" y="725.3" width="1.6" height="5.7" fill="#5aaee0" />
<rect x="601" y="725.3" width="1.2" height="5.7" fill="#4aa4da" />
<rect x="602.2" y="725.3" width="2.2" height="5.7" fill="#e4f2fb" />
<rect x="604.4" y="725.3" width="1.2" height="5.7" fill="#3a9ad4" />
<rect x="605.6" y="725.3" width="2.2" height="5.7" fill="#7fc3ea" />
<rect x="607.8" y="725.3" width="2.2" height="5.7" fill="#4aa4da" />
<rect x="610" y="725.3" width="1.6" height="5.7" fill="#e4f2fb" />
<rect x="611.6" y="725.3" width="2.2" height="5.7" fill="#7fc3ea" />
<rect x="613.8" y="725.3" width="2.2" height="5.7" fill="#4aa4da" />
<rect x="616" y="725.3" width="1.6" height="5.7" fill="#5aaee0" />
<rect x="617.6" y="725.3" width="1.2" height="5.7" fill="#2a8ac6" />
<rect x="618.8" y="725.3" width="1.2" height="5.7" fill="#5aaee0" />
<rect x="620" y="725.3" width="1.2" height="5.7" fill="#5aaee0" />
<rect x="621.2" y="725.3" width="0.8" height="5.7" fill="#e4f2fb" />
<rect x="622" y="725.3" width="3" height="5.7" fill="#e4f2fb" />
<rect x="625" y="725.3" width="2.2" height="5.7" fill="#3a9ad4" />
<rect x="627.2" y="725.3" width="3" height="5.7" fill="#3a9ad4" />
<rect x="630.2" y="725.3" width="1.2" height="5.7" fill="#e4f2fb" />
<rect x="631.4" y="725.3" width="1.6" height="5.7" fill="#2a8ac6" />
<rect x="633" y="725.3" width="1.6" height="5.7" fill="#2a8ac6" />
<rect x="634.6" y="725.3" width="3" height="5.7" fill="#5aaee0" />
<rect x="637.6" y="725.3" width="1.2" height="5.7" fill="#4aa4da" />
<rect x="638.8" y="725.3" width="3" height="5.7" fill="#2a8ac6" />
<rect x="641.8" y="725.3" width="0.8" height="5.7" fill="#e4f2fb" />
<rect x="642.6" y="725.3" width="1.2" height="5.7" fill="#2a8ac6" />
<rect x="643.8" y="725.3" width="2.2" height="5.7" fill="#2a8ac6" />
<rect x="646" y="725.3" width="0.8" height="5.7" fill="#2a8ac6" />
<rect x="646.8" y="725.3" width="1.2" height="5.7" fill="#2a8ac6" />
<rect x="648" y="725.3" width="1.2" height="5.7" fill="#5aaee0" />
<rect x="649.2" y="725.3" width="0.8" height="5.7" fill="#e4f2fb" />
<rect x="650" y="725.3" width="0.8" height="5.7" fill="#1f7cb8" />
<rect x="650.8" y="725.3" width="3" height="5.7" fill="#2a8ac6" />
<rect x="653.8" y="725.3" width="2.2" height="5.7" fill="#1f7cb8" />
<rect x="656" y="725.3" width="1.6" height="5.7" fill="#4aa4da" />
<rect x="657.6" y="725.3" width="3" height="5.7" fill="#2a8ac6" />
<rect x="660.6" y="725.3" width="0.8" height="5.7" fill="#4aa4da" />
<rect x="661.4" y="725.3" width="3" height="5.7" fill="#2a8ac6" />
<rect x="664.4" y="725.3" width="3" height="5.7" fill="#e4f2fb" />
<rect x="667.4" y="725.3" width="3" height="5.7" fill="#7fc3ea" />
<rect x="670.4" y="725.3" width="3" height="5.7" fill="#e4f2fb" />
<rect x="673.4" y="725.3" width="2.2" height="5.7" fill="#4aa4da" />
<rect x="675.6" y="725.3" width="3" height="5.7" fill="#3a9ad4" />
<rect x="678.6" y="725.3" width="0.8" height="5.7" fill="#2a8ac6" />
<rect x="679.4" y="725.3" width="1.1" height="5.7" fill="#e4f2fb" />
</g>
<line x1="680" y1="489.5" x2="716" y2="453.5" stroke="#dedede" stroke-width="1.2" />
<g clip-path="url(#c3)">
<g filter="url(#b3)">
<rect x="527.5" y="565.7" width="76" height="76" fill="#f6951c" opacity="1"/>
<rect x="527.5" y="565.7" width="22" height="16" fill="#ea5a1e" opacity="0.55"/>
<rect x="585" y="600" width="19" height="42" fill="#fbb52e" opacity="0.5"/>
<rect x="527.5" y="565.7" width="30" height="26" fill="#fcc23c" opacity="0.25"/>
<rect x="574" y="614" width="30" height="28" fill="#fcc23c" opacity="0.3"/>
<rect x="458" y="661" width="48" height="50" fill="#fbae2c" opacity="0.85"/>
<rect x="485" y="600" width="43" height="62" fill="#fcc23c" opacity="0.55"/>
<rect x="500" y="575" width="28" height="30" fill="#fde08a" opacity="0.5"/>
<rect x="468" y="638" width="32" height="26" fill="#fde08a" opacity="0.5"/>
<rect x="505" y="650" width="24" height="52" fill="#fbae2c" opacity="0.7"/>
<rect x="527.5" y="641.7" width="44" height="36" fill="#fbae2c" opacity="0.7"/>
<rect x="571" y="641.7" width="33" height="28" fill="#fde08a" opacity="0.55"/>
<rect x="527.5" y="677" width="30" height="20" fill="#fde08a" opacity="0.4"/>
</g>
<g opacity="0.32">
<line x1="598.15" y1="566" x2="598.15" y2="706" stroke="#fff" stroke-width="0.6" opacity="0.23"/>
<line x1="549.83" y1="566" x2="549.83" y2="706" stroke="#fff" stroke-width="0.9" opacity="0.21"/>
<line x1="480.88" y1="566" x2="480.88" y2="706" stroke="#fff" stroke-width="1.3" opacity="0.46"/>
<line x1="574.96" y1="566" x2="574.96" y2="706" stroke="#fff" stroke-width="0.6" opacity="0.23"/>
<line x1="598.33" y1="566" x2="598.33" y2="706" stroke="#fff" stroke-width="0.9" opacity="0.49"/>
<line x1="489.08" y1="566" x2="489.08" y2="706" stroke="#fff" stroke-width="1.3" opacity="0.39"/>
<line x1="593.34" y1="566" x2="593.34" y2="706" stroke="#fff" stroke-width="1.3" opacity="0.46"/>
<line x1="544.8" y1="566" x2="544.8" y2="706" stroke="#fff" stroke-width="0.6" opacity="0.36"/>
<line x1="507.5" y1="566" x2="507.5" y2="706" stroke="#fff" stroke-width="0.6" opacity="0.21"/>
<line x1="479.62" y1="566" x2="479.62" y2="706" stroke="#fff" stroke-width="1.3" opacity="0.48"/>
<line x1="572.35" y1="566" x2="572.35" y2="706" stroke="#fff" stroke-width="1.3" opacity="0.17"/>
<line x1="509.7" y1="566" x2="509.7" y2="706" stroke="#fff" stroke-width="0.9" opacity="0.24"/>
<line x1="597.94" y1="566" x2="597.94" y2="706" stroke="#fff" stroke-width="0.9" opacity="0.47"/>
<line x1="585.9" y1="566" x2="585.9" y2="706" stroke="#fff" stroke-width="1.3" opacity="0.33"/>
<line x1="503.13" y1="566" x2="503.13" y2="706" stroke="#fff" stroke-width="0.9" opacity="0.38"/>
<line x1="489.9" y1="566" x2="489.9" y2="706" stroke="#fff" stroke-width="0.6" opacity="0.27"/>
<line x1="590.17" y1="566" x2="590.17" y2="706" stroke="#fff" stroke-width="0.9" opacity="0.47"/>
<line x1="534.88" y1="566" x2="534.88" y2="706" stroke="#fff" stroke-width="1.3" opacity="0.46"/>
<line x1="519.62" y1="566" x2="519.62" y2="706" stroke="#fff" stroke-width="0.6" opacity="0.26"/>
<line x1="516.33" y1="566" x2="516.33" y2="706" stroke="#fff" stroke-width="1.3" opacity="0.16"/>
<line x1="544.57" y1="566" x2="544.57" y2="706" stroke="#fff" stroke-width="1.3" opacity="0.34"/>
<line x1="524.69" y1="566" x2="524.69" y2="706" stroke="#fff" stroke-width="1.3" opacity="0.46"/>
<line x1="523.83" y1="566" x2="523.83" y2="706" stroke="#fff" stroke-width="0.6" opacity="0.5"/>
<line x1="513.8" y1="566" x2="513.8" y2="706" stroke="#fff" stroke-width="0.9" opacity="0.42"/>
<line x1="472.13" y1="566" x2="472.13" y2="706" stroke="#fff" stroke-width="0.6" opacity="0.33"/>
<line x1="520.09" y1="566" x2="520.09" y2="706" stroke="#fff" stroke-width="0.6" opacity="0.31"/>
<line x1="491.08" y1="566" x2="491.08" y2="706" stroke="#fff" stroke-width="0.6" opacity="0.34"/>
<line x1="512.88" y1="566" x2="512.88" y2="706" stroke="#fff" stroke-width="0.9" opacity="0.47"/>
<line x1="552.14" y1="566" x2="552.14" y2="706" stroke="#fff" stroke-width="0.9" opacity="0.16"/>
<line x1="538.96" y1="566" x2="538.96" y2="706" stroke="#fff" stroke-width="1.3" opacity="0.41"/>
<line x1="462" y1="658.47" x2="604" y2="658.47" stroke="#fff" stroke-width="0.6" opacity="0.17"/>
<line x1="462" y1="624.68" x2="604" y2="624.68" stroke="#fff" stroke-width="0.6" opacity="0.47"/>
<line x1="462" y1="631.56" x2="604" y2="631.56" stroke="#fff" stroke-width="0.6" opacity="0.32"/>
<line x1="462" y1="640.31" x2="604" y2="640.31" stroke="#fff" stroke-width="1.3" opacity="0.25"/>
<line x1="462" y1="662.37" x2="604" y2="662.37" stroke="#fff" stroke-width="0.9" opacity="0.32"/>
<line x1="462" y1="577.09" x2="604" y2="577.09" stroke="#fff" stroke-width="1.3" opacity="0.27"/>
<line x1="462" y1="676.22" x2="604" y2="676.22" stroke="#fff" stroke-width="1.3" opacity="0.24"/>
<line x1="462" y1="584.49" x2="604" y2="584.49" stroke="#fff" stroke-width="0.6" opacity="0.33"/>
<line x1="462" y1="655.57" x2="604" y2="655.57" stroke="#fff" stroke-width="0.9" opacity="0.18"/>
<line x1="462" y1="654.8" x2="604" y2="654.8" stroke="#fff" stroke-width="1.3" opacity="0.3"/>
<line x1="462" y1="605.12" x2="604" y2="605.12" stroke="#fff" stroke-width="0.6" opacity="0.18"/>
<line x1="462" y1="594.3" x2="604" y2="594.3" stroke="#fff" stroke-width="1.3" opacity="0.19"/>
<line x1="462" y1="597.86" x2="604" y2="597.86" stroke="#fff" stroke-width="0.9" opacity="0.32"/>
<line x1="462" y1="577.39" x2="604" y2="577.39" stroke="#fff" stroke-width="0.6" opacity="0.25"/>
<line x1="462" y1="581.43" x2="604" y2="581.43" stroke="#fff" stroke-width="0.9" opacity="0.37"/>
<line x1="462" y1="623.58" x2="604" y2="623.58" stroke="#fff" stroke-width="0.6" opacity="0.41"/>
<line x1="462" y1="695.66" x2="604" y2="695.66" stroke="#fff" stroke-width="0.6" opacity="0.16"/>
<line x1="462" y1="620.13" x2="604" y2="620.13" stroke="#fff" stroke-width="1.3" opacity="0.16"/>
<line x1="462" y1="596.04" x2="604" y2="596.04" stroke="#fff" stroke-width="0.9" opacity="0.37"/>
<line x1="462" y1="574.78" x2="604" y2="574.78" stroke="#fff" stroke-width="1.3" opacity="0.4"/>
<line x1="462" y1="632.1" x2="604" y2="632.1" stroke="#fff" stroke-width="0.6" opacity="0.46"/>
<line x1="462" y1="583.53" x2="604" y2="583.53" stroke="#fff" stroke-width="0.6" opacity="0.48"/>
<line x1="462" y1="646.12" x2="604" y2="646.12" stroke="#fff" stroke-width="0.6" opacity="0.46"/>
<line x1="462" y1="657.14" x2="604" y2="657.14" stroke="#fff" stroke-width="0.6" opacity="0.16"/>
<line x1="462" y1="589.85" x2="604" y2="589.85" stroke="#fff" stroke-width="0.9" opacity="0.16"/>
<line x1="462" y1="635.17" x2="604" y2="635.17" stroke="#fff" stroke-width="0.6" opacity="0.25"/>
<line x1="462" y1="674.06" x2="604" y2="674.06" stroke="#fff" stroke-width="0.6" opacity="0.37"/>
<line x1="462" y1="704.01" x2="604" y2="704.01" stroke="#fff" stroke-width="1.3" opacity="0.23"/>
<line x1="462" y1="641.77" x2="604" y2="641.77" stroke="#fff" stroke-width="0.6" opacity="0.27"/>
<line x1="462" y1="603.75" x2="604" y2="603.75" stroke="#fff" stroke-width="1.3" opacity="0.15"/>
</g>
<g filter="url(#b1)">
<rect x="461.5" y="662" width="44" height="45" fill="#f9a824" opacity="0.7"/>
</g>
<rect x="527.5" y="555" width="90" height="10.7" fill="#fff" />
<rect x="603.6" y="555" width="14" height="87" fill="#fff" />
<g filter="url(#b2)">
<line x1="452" y1="717" x2="607" y2="562" stroke="#f9a01b" stroke-width="52" opacity="0.5"/>
<line x1="452" y1="717" x2="605" y2="564" stroke="#f2641f" stroke-width="40" opacity="0.85"/>
<line x1="452" y1="717" x2="604.5" y2="564.5" stroke="#e3271c" stroke-width="31"/>
<line x1="528" y1="641" x2="604.5" y2="564.5" stroke="#ea4a1e" stroke-width="56" opacity="0.5"/>
<line x1="528" y1="641" x2="604.5" y2="564.5" stroke="#e3271c" stroke-width="38"/>
</g>
<g filter="url(#b2)">
<line x1="452" y1="717" x2="604" y2="565" stroke="#3a1115" stroke-width="20"/>
<line x1="524" y1="645" x2="604" y2="565" stroke="#3a1115" stroke-width="24"/>
<rect x="463.5" y="684.5" width="21" height="21" fill="#3a1115" />
<rect x="496" y="655" width="18" height="18" fill="#3a1115" />
<rect x="526.5" y="615.5" width="27" height="27" fill="#3a1115" />
<rect x="544" y="601" width="24" height="24" fill="#3a1115" />
<rect x="581" y="566" width="22" height="22" fill="#3a1115" />
</g>
<line x1="462" y1="707" x2="603.5" y2="565.5" stroke="#8a6a66" stroke-width="0.8" opacity="0.25"/>
<rect x="603.7" y="540" width="20" height="110" fill="#fff" />
<rect x="520" y="545" width="100" height="20.6" fill="#fff" />
<line x1="603.5" y1="566" x2="680" y2="489.5" stroke="#c4c4c4" stroke-width="1.3" />
<line x1="554.5" y1="566" x2="554.5" y2="642" stroke="#f0c8b8" stroke-width="1" opacity="0.55"/>
<line x1="528" y1="613.8" x2="596" y2="613.8" stroke="#eeb0a0" stroke-width="1" opacity="0.5"/>
<g filter="url(#b1)">
<rect x="515" y="490" width="79" height="9.6" fill="url(#tb)" />
<rect x="515" y="501.6" width="79" height="6.2" fill="url(#tb2)" />
<rect x="560" y="509" width="34" height="3" fill="#fde08a" opacity="0.3"/>
</g>
<g filter="url(#b1)">
<rect x="650" y="489.7" width="29.5" height="29.3" fill="#e1301d" />
<rect x="640.6" y="489.7" width="4.4" height="29.3" fill="#e4421f" />
<rect x="650" y="523" width="29.5" height="5" fill="#e1301d" />
<polygon points="650,519 650,506 658,499 658,491.5 679.5,491.5 679.5,506 671,519" fill="#3a1115"/>
<rect x="640.4" y="523" width="4.6" height="5" fill="#2a0c0e" />
<rect x="647.5" y="519" width="3" height="5" fill="#e9a58a" opacity="0.5"/>
</g>
<g filter="url(#b1)">
<rect x="660.5" y="575.6" width="7.6" height="74" fill="url(#rs)" />
<rect x="670.5" y="575.6" width="9" height="70" fill="url(#rs)" />
<rect x="660.5" y="568" width="19" height="5" fill="#fde9a8" opacity="0.6"/>
</g>
</g>
<line x1="527.5" y1="475" x2="527.5" y2="728.5" stroke="#222" stroke-width="1" stroke-dasharray="3.8 1.9" stroke-dashoffset="4.4"/>
<line x1="593.5" y1="475" x2="593.5" y2="728.5" stroke="#222" stroke-width="1" stroke-dasharray="3.8 1.9" stroke-dashoffset="2.9"/>
<line x1="603.6" y1="475" x2="603.6" y2="728.5" stroke="#222" stroke-width="1" stroke-dasharray="3.8 1.9" stroke-dashoffset="4.4"/>
<line x1="640.6" y1="475" x2="640.6" y2="728.5" stroke="#222" stroke-width="1" stroke-dasharray="3.8 1.9" stroke-dashoffset="2.9"/>
<line x1="660" y1="475" x2="660" y2="728.5" stroke="#222" stroke-width="1" stroke-dasharray="3.8 1.9" stroke-dashoffset="2.9"/>
<line x1="442" y1="508.8" x2="686" y2="508.8" stroke="#222" stroke-width="1" stroke-dasharray="3.8 1.9" />
<line x1="442" y1="528.2" x2="686" y2="528.2" stroke="#222" stroke-width="1" stroke-dasharray="3.8 1.9" />
<line x1="442" y1="565.7" x2="686" y2="565.7" stroke="#222" stroke-width="1" stroke-dasharray="3.8 1.9" />
<line x1="442" y1="575.4" x2="686" y2="575.4" stroke="#222" stroke-width="1" stroke-dasharray="3.8 1.9" />
<line x1="442" y1="641.7" x2="686" y2="641.7" stroke="#222" stroke-width="1" stroke-dasharray="3.8 1.9" />
<line x1="523" y1="561.7" x2="552.6" y2="561.7" stroke="#f7941d" stroke-width="1.6" />
<polygon points="559.8,561.7 551.6,565.4 551.6,558" fill="#f7941d"/>
<line x1="523" y1="561" x2="523" y2="591.3" stroke="#f7941d" stroke-width="1.6" />
<polygon points="523,598.5 519.3,590.3 526.7,590.3" fill="#f7941d"/>
<line x1="606.6" y1="645" x2="606.6" y2="615.5" stroke="#f7941d" stroke-width="1.6" />
<polygon points="606.6,608.3 610.3,616.5 602.9,616.5" fill="#f7941d"/>
<line x1="607.3" y1="644.3" x2="577.2" y2="644.3" stroke="#f7941d" stroke-width="1.6" />
<polygon points="570,644.3 578.2,640.6 578.2,648" fill="#f7941d"/>
<text x="509" y="559" font-size="13" textLength="9.6" lengthAdjust="spacing" fill="#cf7f2e" font-style="italic">iv</text>
<text x="608.2" y="657.4" font-size="13" textLength="9.6" lengthAdjust="spacing" fill="#cf7f2e" font-style="italic">iv</text>
<text x="685.6" y="503" font-size="13.4" font-style="italic">f</text>
<text x="685.6" y="522" font-size="13.4" font-style="italic">e</text>
<text x="685.6" y="553" font-size="13.4" font-style="italic">d</text>
<text x="685.6" y="575" font-size="13.4" font-style="italic">c</text>
<text x="685.6" y="613.6" font-size="13.4" font-style="italic">b</text>
<text x="685.6" y="687.6" font-size="13.4" font-style="italic">a</text>
<rect x="601.8" y="732" width="3.4" height="7.6" fill="#c3bce6" />
<rect x="607.6" y="732" width="73.3" height="7.6" fill="#c3bce6" />
<line x1="606.9" y1="739.5" x2="606.9" y2="747.8" stroke="#c3bce6" stroke-width="1.8" />
<text x="582.4" y="739.6" font-size="10.2" textLength="18.8" lengthAdjust="spacing" stroke="#111" stroke-width="0.2">IgHJ</text>
<text x="632.7" y="739.6" font-size="10.2" textLength="21.4" lengthAdjust="spacing" stroke="#111" stroke-width="0.2">IgHV</text>
<text x="597" y="756" font-size="10.2" textLength="22.4" lengthAdjust="spacing" stroke="#111" stroke-width="0.2">IgHD</text>
<line x1="461" y1="739.5" x2="667.6" y2="775.3" stroke="#111" stroke-width="1.2" />
<line x1="680.9" y1="739.5" x2="667.6" y2="775.3" stroke="#111" stroke-width="1.2" />
<path d="M485.4,781.2 H552 q7,0 7,6.6 v4.3 q0,6.6 -7,6.6 H485.4 a8.75,8.75 0 0 1 0,-17.5 Z" fill="#f7941d" stroke="#111" stroke-width="1.2"/>
<path d="M566.2,781.2 H666.2 a8.75,8.75 0 0 1 0,17.5 H566.2 q-7,0 -7,-6.6 v-4.3 q0,-6.6 7,-6.6 Z" fill="#f7941d" stroke="#111" stroke-width="1.2"/>
<line x1="667.6" y1="775.3" x2="667.6" y2="803" stroke="#111" stroke-width="1.2" />
<polygon points="667.9,802.3 660.2,814 675.8,814" fill="#000"/>
<text x="477.5" y="817.2" font-size="14" textLength="33.2" lengthAdjust="spacing">chr14</text>
<text x="10.6" y="488.8" font-size="17" fill="#000" font-weight="bold">E</text>
<line x1="53" y1="571.4" x2="73.3" y2="571.4" stroke="#222" stroke-width="1" stroke-dasharray="3.8 1.9" />
<line x1="378.2" y1="571.4" x2="393.4" y2="571.4" stroke="#222" stroke-width="1" stroke-dasharray="3.8 1.9" />
<rect x="73.3" y="564.4" width="197" height="13.9" fill="#f7941d" />
<rect x="192.6" y="564.4" width="15.2" height="13.9" fill="#3ab54a" />
<rect x="270.2" y="564.4" width="102" height="13.9" fill="#3ab54a" />
<rect x="73.3" y="564.4" width="298.9" height="13.9" fill="none" stroke="#111" stroke-width="1.2" />
<line x1="128.3" y1="564.4" x2="128.3" y2="578.3" stroke="#111" stroke-width="1.2" />
<line x1="180.8" y1="564.4" x2="180.8" y2="578.3" stroke="#111" stroke-width="1.2" />
<line x1="192.6" y1="564.4" x2="192.6" y2="578.3" stroke="#111" stroke-width="1.2" />
<line x1="203.2" y1="564.4" x2="203.2" y2="578.3" stroke="#111" stroke-width="1.2" />
<line x1="257.1" y1="564.4" x2="257.1" y2="578.3" stroke="#111" stroke-width="1.2" />
<line x1="285.2" y1="564.4" x2="285.2" y2="578.3" stroke="#111" stroke-width="1.2" />
<line x1="207.6" y1="564.4" x2="207.6" y2="578.3" stroke="#1d5a2a" stroke-width="0.8" />
<line x1="270.2" y1="564.4" x2="270.2" y2="578.3" stroke="#111" stroke-width="1" />
<line x1="169" y1="564.4" x2="169" y2="593.8" stroke="#1b8a6b" stroke-width="1.3" />
<line x1="174.5" y1="564.4" x2="174.5" y2="593.8" stroke="#1b8a6b" stroke-width="1.3" />
<line x1="247.2" y1="564.4" x2="247.2" y2="593.8" stroke="#1b8a6b" stroke-width="1.3" />
<line x1="253.2" y1="564.4" x2="253.2" y2="593.8" stroke="#1b8a6b" stroke-width="1.3" />
<line x1="203.9" y1="495.4" x2="203.9" y2="578.3" stroke="#c78296" stroke-width="1.7" />
<line x1="284.1" y1="495.4" x2="284.1" y2="578.3" stroke="#c78296" stroke-width="1.7" />
<text x="176.3" y="493" font-size="15.4" textLength="53" lengthAdjust="spacing">CCND1</text>
<text x="255.8" y="493" font-size="15.4" textLength="53.5" lengthAdjust="spacing">CCND1</text>
<line x1="205.7" y1="507.2" x2="177.5" y2="507.2" stroke="#f7941d" stroke-width="1.6" />
<polygon points="170.3,507.2 178.5,503.5 178.5,510.9" fill="#f7941d"/>
<line x1="192.6" y1="507.2" x2="205.7" y2="507.2" stroke="#3aa657" stroke-width="1.6" />
<line x1="205.7" y1="502.6" x2="205.7" y2="512" stroke="#3aa657" stroke-width="1.6" />
<line x1="204.6" y1="517.2" x2="221" y2="517.2" stroke="#f7941d" stroke-width="1.6" />
<polygon points="228.2,517.2 220,520.9 220,513.5" fill="#f7941d"/>
<line x1="192.6" y1="517.2" x2="204.6" y2="517.2" stroke="#3aa657" stroke-width="1.6" />
<line x1="192.6" y1="513" x2="192.6" y2="521.4" stroke="#3aa657" stroke-width="1.6" />
<line x1="192.6" y1="521.4" x2="192.6" y2="564.4" stroke="#2a6aa0" stroke-width="1.1" stroke-dasharray="3 2" />
<line x1="207.2" y1="522.4" x2="207.2" y2="564.4" stroke="#3aa657" stroke-width="1.1" stroke-dasharray="4 1.6 1.2 1.6" />
<text x="167.7" y="535.5" font-size="12.6" textLength="12.6" lengthAdjust="spacing" fill="#2a6aa0" font-style="italic">iia</text>
<text x="213" y="535.5" font-size="12.6" fill="#3aa657" font-style="italic">i</text>
<line x1="270.2" y1="518.5" x2="239.2" y2="518.5" stroke="#f7941d" stroke-width="1.6" />
<polygon points="232,518.5 240.2,514.8 240.2,522.2" fill="#f7941d"/>
<line x1="270.2" y1="518.5" x2="305.2" y2="518.5" stroke="#3aa657" stroke-width="1.6" />
<polygon points="312.4,518.5 304.2,522.2 304.2,514.8" fill="#3aa657"/>
<line x1="270.2" y1="518.5" x2="270.2" y2="564.4" stroke="#2a6aa0" stroke-width="1.1" stroke-dasharray="3 2" />
<text x="261" y="515" font-size="12.6" textLength="13.2" lengthAdjust="spacing" fill="#2a6aa0" font-style="italic">iib</text>
<text x="98" y="559.6" font-size="13" font-style="italic">a</text>
<text x="153" y="559.6" font-size="13" font-style="italic">b</text>
<text x="178.2" y="559.6" font-size="13" font-style="italic">c</text>
<text x="230.4" y="559.6" font-size="13" font-style="italic">b</text>
<text x="257.4" y="559.6" font-size="13" font-style="italic">c</text>
<line x1="189.4" y1="584.5" x2="165.6" y2="584.5" stroke="#f7941d" stroke-width="1.6" />
<polygon points="158.4,584.5 166.6,580.8 166.6,588.2" fill="#f7941d"/>
<line x1="209.9" y1="584.5" x2="231.4" y2="584.5" stroke="#f7941d" stroke-width="1.6" />
<polygon points="238.6,584.5 230.4,588.2 230.4,580.8" fill="#f7941d"/>
<text x="193.2" y="593" font-size="14" font-family='"Liberation Serif", "DejaVu Serif", serif'>β</text>
<text x="272.2" y="593" font-size="14" font-family='"Liberation Serif", "DejaVu Serif", serif'>β</text>
<text x="328" y="592.5" font-size="14" font-family='"Liberation Serif", "DejaVu Serif", serif'>γ</text>
<text x="160" y="607.6" font-size="13.2" textLength="28.9" lengthAdjust="spacing">3’RR</text>
<text x="243.8" y="607.6" font-size="13.2" textLength="28.4" lengthAdjust="spacing">3’RR</text>
<path d="M190,578.3 V603.5 q0,9.4 9.95,9.4 q9.95,0 9.95,-9.4 V578.3" fill="none" stroke="#cf8a45" stroke-width="1.1" stroke-dasharray="3 1.8"/>
<text x="211.7" y="616" font-size="12.6" textLength="8.8" lengthAdjust="spacing" fill="#cf7f2e" font-style="italic">iv</text>
<line x1="57.6" y1="690.5" x2="76.7" y2="690.5" stroke="#222" stroke-width="1" stroke-dasharray="3.8 1.9" />
<path d="M179.4,683.2 H203.2 a7.35,7.35 0 0 1 0,14.7 H179.4 Z" fill="#f7941d"/>
<rect x="76.7" y="683.2" width="102.7" height="14.7" fill="#3ab54a" />
<path d="M76.7,683.2 H203.2 a7.35,7.35 0 0 1 0,14.7 H76.7 Z" fill="none" stroke="#111" stroke-width="1.2"/>
<line x1="164" y1="683.2" x2="164" y2="697.9" stroke="#111" stroke-width="1.2" />
<line x1="179.4" y1="683.2" x2="179.4" y2="697.9" stroke="#111" stroke-width="1" />
<line x1="195.2" y1="683.2" x2="195.2" y2="697.9" stroke="#111" stroke-width="1.2" />
<line x1="179.4" y1="656.8" x2="139.6" y2="656.8" stroke="#3aa657" stroke-width="1.6" />
<polygon points="132.4,656.8 140.6,653.1 140.6,660.5" fill="#3aa657"/>
<line x1="179.4" y1="656.8" x2="196.2" y2="656.8" stroke="#f7941d" stroke-width="1.6" />
<polygon points="203.4,656.8 195.2,660.5 195.2,653.1" fill="#f7941d"/>
<line x1="179.4" y1="656.8" x2="179.4" y2="683.2" stroke="#c02a4a" stroke-width="1.1" stroke-dasharray="3 2" />
<text x="175" y="652" font-size="12.6" textLength="9" lengthAdjust="spacing" fill="#c02a4a" font-style="italic">iii</text>
<text x="183" y="679.5" font-size="13" font-style="italic">e</text>
<text x="194.4" y="679.5" font-size="13" font-style="italic">f</text>
<text x="114.8" y="713.6" font-size="14" font-family='"Liberation Serif", "DejaVu Serif", serif'>α</text>
<text x="168" y="714.6" font-size="14" font-family='"Liberation Serif", "DejaVu Serif", serif'>β</text>
<rect x="261.3" y="683.2" width="32.7" height="14.7" fill="#f7941d" stroke="#111" stroke-width="1.2" />
<line x1="256.5" y1="675.9" x2="298.7" y2="704.5" stroke="#111" stroke-width="1.1" />
<line x1="256.5" y1="704.5" x2="298.7" y2="675.9" stroke="#111" stroke-width="1.1" />
<text x="274.2" y="679.5" font-size="13" font-style="italic">d</text>
<text x="265.7" y="717.3" font-size="13.2" textLength="24.6" lengthAdjust="spacing">Lost</text>
<g filter="url(#b1)" opacity="0.55">
<rect x="98" y="414.5" width="9" height="3.4" fill="#c9c9c9" />
<rect x="96" y="408.5" width="4" height="2" fill="#d9dde8" />
<rect x="106" y="408.5" width="5" height="2" fill="#d9dde8" />
<rect x="446" y="414.5" width="9" height="3.4" fill="#c9c9c9" />
<rect x="444" y="408.5" width="4" height="2" fill="#d9dde8" />
<rect x="454" y="408.5" width="5" height="2" fill="#d9dde8" />
<rect x="446" y="717.5" width="9" height="3.4" fill="#c9c9c9" />
<rect x="444" y="711.5" width="4" height="2" fill="#d9dde8" />
<rect x="454" y="711.5" width="5" height="2" fill="#d9dde8" />
</g>
<rect x="0" y="0" width="763" height="1.4" fill="#000" />
<rect x="0" y="0" width="1.7" height="827" fill="#000" />
<rect x="761.5" y="0" width="1.5" height="827" fill="#000" />
<rect x="0" y="825.2" width="763" height="1.8" fill="#000" />
</svg>
</body>
</html>
